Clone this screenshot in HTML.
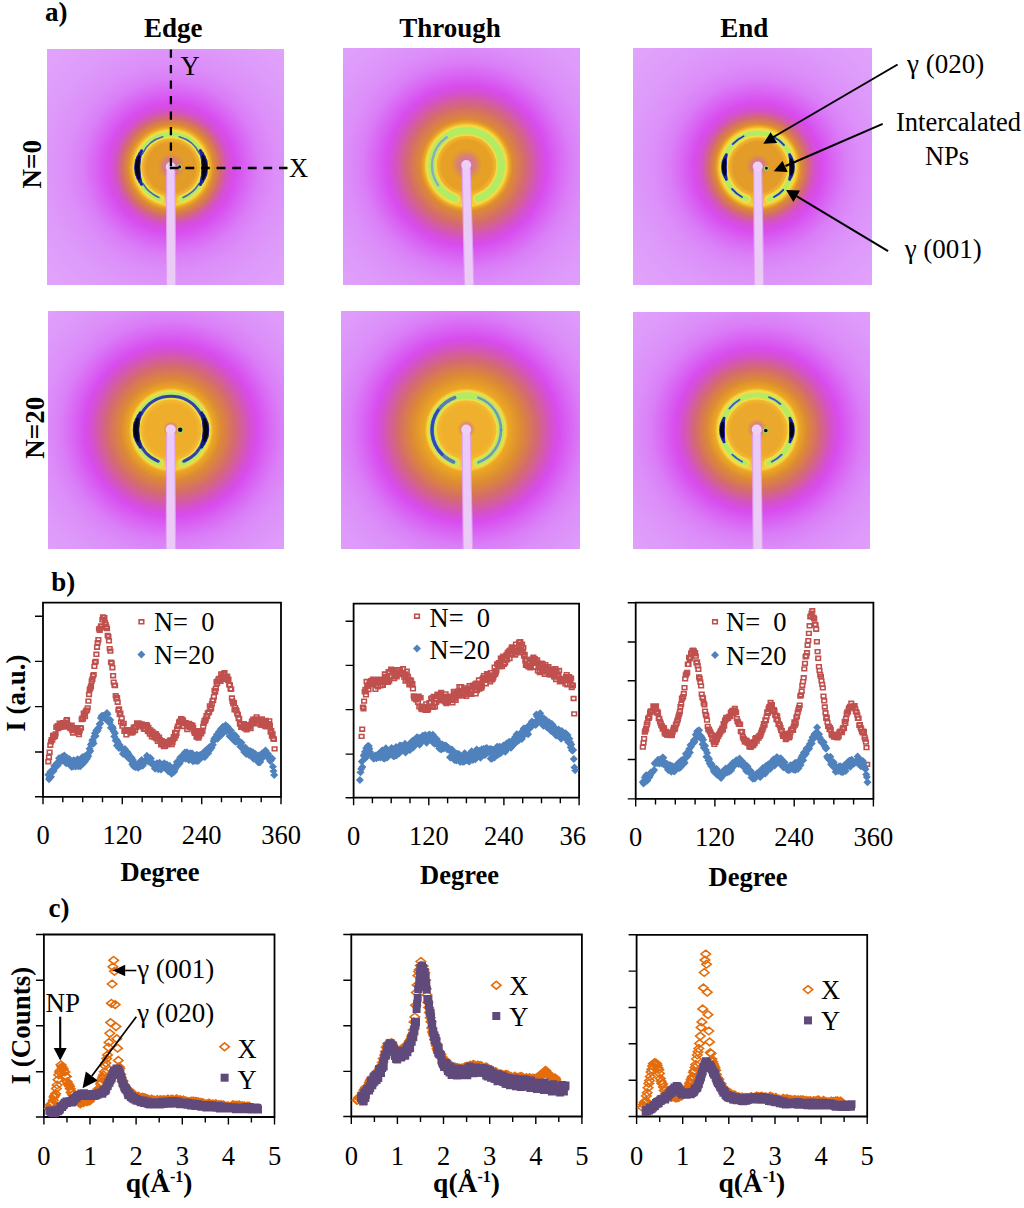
<!DOCTYPE html>
<html><head><meta charset="utf-8"><title>figure</title>
<style>html,body{margin:0;padding:0;background:#fff;} svg{display:block;} text{font-family:'Liberation Serif', serif;fill:#000;}</style>
</head><body>
<svg width="1024" height="1208" viewBox="0 0 1024 1208">
<defs><radialGradient id="rg0" gradientUnits="userSpaceOnUse" cx="171" cy="167.5" r="186"><stop offset="0.0000" stop-color="#e49c28"/><stop offset="0.1320" stop-color="#e49c28"/><stop offset="0.1508" stop-color="#efb22d"/><stop offset="0.2019" stop-color="#f4d040"/><stop offset="0.2142" stop-color="#eba822"/><stop offset="0.2312" stop-color="#dc8a34"/><stop offset="0.2661" stop-color="#d46a70"/><stop offset="0.3011" stop-color="#d452c8"/><stop offset="0.3441" stop-color="#d84cee"/><stop offset="0.4086" stop-color="#d966f4"/><stop offset="0.4731" stop-color="#da7ef7"/><stop offset="0.5591" stop-color="#dc8ef9"/><stop offset="0.7043" stop-color="#de9bfa"/><stop offset="1.0000" stop-color="#e2a8fa"/></radialGradient><clipPath id="cp0"><rect x="47" y="49" width="237" height="236"/></clipPath><radialGradient id="cm0" gradientUnits="userSpaceOnUse" cx="171" cy="166.5" r="14"><stop offset="0" stop-color="#d860e0" stop-opacity="0.95"/><stop offset="0.6" stop-color="#d070a0" stop-opacity="0.6"/><stop offset="1" stop-color="#d08060" stop-opacity="0"/></radialGradient><radialGradient id="rg1" gradientUnits="userSpaceOnUse" cx="466.5" cy="165.5" r="202"><stop offset="0.0000" stop-color="#e6a026"/><stop offset="0.1238" stop-color="#e6a026"/><stop offset="0.1411" stop-color="#f0b32c"/><stop offset="0.2005" stop-color="#f4d040"/><stop offset="0.2119" stop-color="#eba822"/><stop offset="0.2277" stop-color="#dc8a34"/><stop offset="0.2921" stop-color="#d46a70"/><stop offset="0.3564" stop-color="#d452c8"/><stop offset="0.3960" stop-color="#d84cee"/><stop offset="0.4554" stop-color="#d966f4"/><stop offset="0.5149" stop-color="#da7ef7"/><stop offset="0.5941" stop-color="#dc8ef9"/><stop offset="0.7277" stop-color="#de9bfa"/><stop offset="1.0000" stop-color="#e2a8fa"/></radialGradient><clipPath id="cp1"><rect x="343" y="48" width="237" height="237"/></clipPath><radialGradient id="cm1" gradientUnits="userSpaceOnUse" cx="466.5" cy="164.5" r="16"><stop offset="0" stop-color="#d860e0" stop-opacity="0.95"/><stop offset="0.6" stop-color="#d070a0" stop-opacity="0.6"/><stop offset="1" stop-color="#d08060" stop-opacity="0"/></radialGradient><radialGradient id="rg2" gradientUnits="userSpaceOnUse" cx="758" cy="167" r="186"><stop offset="0.0000" stop-color="#e49c28"/><stop offset="0.1344" stop-color="#e49c28"/><stop offset="0.1532" stop-color="#efb22d"/><stop offset="0.2070" stop-color="#f4d040"/><stop offset="0.2194" stop-color="#eba822"/><stop offset="0.2312" stop-color="#dc8a34"/><stop offset="0.2661" stop-color="#d46a70"/><stop offset="0.3011" stop-color="#d452c8"/><stop offset="0.3441" stop-color="#d84cee"/><stop offset="0.4086" stop-color="#d966f4"/><stop offset="0.4731" stop-color="#da7ef7"/><stop offset="0.5591" stop-color="#dc8ef9"/><stop offset="0.7043" stop-color="#de9bfa"/><stop offset="1.0000" stop-color="#e2a8fa"/></radialGradient><clipPath id="cp2"><rect x="633" y="48" width="239" height="237"/></clipPath><radialGradient id="cm2" gradientUnits="userSpaceOnUse" cx="758" cy="166" r="12"><stop offset="0" stop-color="#d860e0" stop-opacity="0.95"/><stop offset="0.6" stop-color="#d070a0" stop-opacity="0.6"/><stop offset="1" stop-color="#d08060" stop-opacity="0"/></radialGradient><radialGradient id="rg3" gradientUnits="userSpaceOnUse" cx="171" cy="430" r="208"><stop offset="0.0000" stop-color="#eeae2c"/><stop offset="0.1238" stop-color="#eeae2c"/><stop offset="0.1406" stop-color="#f3b92e"/><stop offset="0.1911" stop-color="#f4d040"/><stop offset="0.2022" stop-color="#eba822"/><stop offset="0.2404" stop-color="#dc8a34"/><stop offset="0.3077" stop-color="#d46a70"/><stop offset="0.3750" stop-color="#d452c8"/><stop offset="0.4135" stop-color="#d84cee"/><stop offset="0.4712" stop-color="#d966f4"/><stop offset="0.5288" stop-color="#da7ef7"/><stop offset="0.6058" stop-color="#dc8ef9"/><stop offset="0.7356" stop-color="#de9bfa"/><stop offset="1.0000" stop-color="#e2a8fa"/></radialGradient><clipPath id="cp3"><rect x="48" y="311" width="236" height="238"/></clipPath><radialGradient id="cm3" gradientUnits="userSpaceOnUse" cx="171" cy="429" r="8"><stop offset="0" stop-color="#d860e0" stop-opacity="0.95"/><stop offset="0.6" stop-color="#d070a0" stop-opacity="0.6"/><stop offset="1" stop-color="#d08060" stop-opacity="0"/></radialGradient><radialGradient id="rg4" gradientUnits="userSpaceOnUse" cx="466.5" cy="430" r="214"><stop offset="0.0000" stop-color="#efb02e"/><stop offset="0.1168" stop-color="#efb02e"/><stop offset="0.1332" stop-color="#f3ba2f"/><stop offset="0.1846" stop-color="#f4d040"/><stop offset="0.1953" stop-color="#eba822"/><stop offset="0.2570" stop-color="#dc8a34"/><stop offset="0.3248" stop-color="#d46a70"/><stop offset="0.3925" stop-color="#d452c8"/><stop offset="0.4299" stop-color="#d84cee"/><stop offset="0.4860" stop-color="#d966f4"/><stop offset="0.5421" stop-color="#da7ef7"/><stop offset="0.6168" stop-color="#dc8ef9"/><stop offset="0.7430" stop-color="#de9bfa"/><stop offset="1.0000" stop-color="#e2a8fa"/></radialGradient><clipPath id="cp4"><rect x="341" y="311" width="239" height="238"/></clipPath><radialGradient id="cm4" gradientUnits="userSpaceOnUse" cx="466.5" cy="429" r="9"><stop offset="0" stop-color="#d860e0" stop-opacity="0.95"/><stop offset="0.6" stop-color="#d070a0" stop-opacity="0.6"/><stop offset="1" stop-color="#d08060" stop-opacity="0"/></radialGradient><radialGradient id="rg5" gradientUnits="userSpaceOnUse" cx="757" cy="430" r="204"><stop offset="0.0000" stop-color="#eaa82c"/><stop offset="0.1262" stop-color="#eaa82c"/><stop offset="0.1434" stop-color="#f1b62e"/><stop offset="0.1949" stop-color="#f4d040"/><stop offset="0.2061" stop-color="#eba822"/><stop offset="0.2451" stop-color="#dc8a34"/><stop offset="0.3039" stop-color="#d46a70"/><stop offset="0.3627" stop-color="#d452c8"/><stop offset="0.4020" stop-color="#d84cee"/><stop offset="0.4608" stop-color="#d966f4"/><stop offset="0.5196" stop-color="#da7ef7"/><stop offset="0.5980" stop-color="#dc8ef9"/><stop offset="0.7304" stop-color="#de9bfa"/><stop offset="1.0000" stop-color="#e2a8fa"/></radialGradient><clipPath id="cp5"><rect x="633" y="312" width="237" height="237"/></clipPath><radialGradient id="cm5" gradientUnits="userSpaceOnUse" cx="757" cy="429" r="10"><stop offset="0" stop-color="#d860e0" stop-opacity="0.95"/><stop offset="0.6" stop-color="#d070a0" stop-opacity="0.6"/><stop offset="1" stop-color="#d08060" stop-opacity="0"/></radialGradient></defs>
<rect width="1024" height="1208" fill="#fff"/>
<g clip-path="url(#cp0)">
<rect x="47" y="49" width="237" height="236" fill="url(#rg0)"/>
<path d="M160.2,199.0 A33.3,33.3 0 1 1 181.8,199.0" fill="none" stroke="#f2dc48" stroke-width="8.0" stroke-linecap="round"/>
<path d="M160.2,199.0 A33.3,33.3 0 1 1 181.8,199.0" fill="none" stroke="#b2ec62" stroke-width="4.5" stroke-linecap="round"/>
<path d="M141.6,184.2 A33.8,33.8 0 0 1 141.6,150.8" fill="none" stroke="#2020a0" stroke-width="3.0749999999999997" stroke-linecap="round" opacity="1"/>
<path d="M140.0,180.9 A33.8,33.8 0 0 1 140.0,154.1" fill="none" stroke="#2020a0" stroke-width="4.050000000000001" stroke-linecap="round" opacity="1"/>
<path d="M138.7,177.4 A33.8,33.8 0 0 1 138.7,157.6" fill="none" stroke="#2020a0" stroke-width="5.025" stroke-linecap="round" opacity="1"/>
<path d="M137.8,173.8 A33.8,33.8 0 0 1 137.8,161.2" fill="none" stroke="#2020a0" stroke-width="6.0" stroke-linecap="round" opacity="1"/>
<path d="M139.2,178.9 A33.8,33.8 0 0 1 139.2,156.1" fill="none" stroke="#050520" stroke-width="2.1525" stroke-linecap="round" opacity="1"/>
<path d="M138.4,176.6 A33.8,33.8 0 0 1 138.4,158.4" fill="none" stroke="#050520" stroke-width="2.8350000000000004" stroke-linecap="round" opacity="1"/>
<path d="M137.9,174.2 A33.8,33.8 0 0 1 137.9,160.8" fill="none" stroke="#050520" stroke-width="3.5175" stroke-linecap="round" opacity="1"/>
<path d="M137.5,171.7 A33.8,33.8 0 0 1 137.5,163.3" fill="none" stroke="#050520" stroke-width="4.2" stroke-linecap="round" opacity="1"/>
<path d="M200.4,150.8 A33.8,33.8 0 0 1 200.4,184.2" fill="none" stroke="#2020a0" stroke-width="3.33125" stroke-linecap="round" opacity="1"/>
<path d="M202.0,154.1 A33.8,33.8 0 0 1 202.0,180.9" fill="none" stroke="#2020a0" stroke-width="4.3875" stroke-linecap="round" opacity="1"/>
<path d="M203.3,157.6 A33.8,33.8 0 0 1 203.3,177.4" fill="none" stroke="#2020a0" stroke-width="5.4437500000000005" stroke-linecap="round" opacity="1"/>
<path d="M204.2,161.2 A33.8,33.8 0 0 1 204.2,173.8" fill="none" stroke="#2020a0" stroke-width="6.5" stroke-linecap="round" opacity="1"/>
<path d="M202.8,156.1 A33.8,33.8 0 0 1 202.8,178.9" fill="none" stroke="#050520" stroke-width="2.4599999999999995" stroke-linecap="round" opacity="1"/>
<path d="M203.6,158.4 A33.8,33.8 0 0 1 203.6,176.6" fill="none" stroke="#050520" stroke-width="3.24" stroke-linecap="round" opacity="1"/>
<path d="M204.1,160.8 A33.8,33.8 0 0 1 204.1,174.2" fill="none" stroke="#050520" stroke-width="4.02" stroke-linecap="round" opacity="1"/>
<path d="M204.5,163.3 A33.8,33.8 0 0 1 204.5,171.7" fill="none" stroke="#050520" stroke-width="4.8" stroke-linecap="round" opacity="1"/>
<path d="M142.2,154.1 A31.799999999999997,31.799999999999997 0 0 1 162.8,136.8" fill="none" stroke="#3040c0" stroke-width="1.6" stroke-linecap="round" opacity="0.8"/>
<path d="M179.2,136.8 A31.799999999999997,31.799999999999997 0 0 1 199.8,154.1" fill="none" stroke="#3040c0" stroke-width="1.6" stroke-linecap="round" opacity="0.8"/>
<path d="M158.9,197.4 A32.3,32.3 0 0 1 143.0,183.7" fill="none" stroke="#3040c0" stroke-width="1.6" stroke-linecap="round" opacity="0.8"/>
<path d="M199.0,183.7 A32.3,32.3 0 0 1 183.1,197.4" fill="none" stroke="#3040c0" stroke-width="1.6" stroke-linecap="round" opacity="0.8"/>
<circle cx="171" cy="166.5" r="14" fill="url(#cm0)"/>
<path d="M166.1,170.5 L166.0,287 L176.39999999999998,287 L175.29999999999998,170.5 Z" fill="#e0a0f2"/>
<path d="M167.2,170.5 L167.1,287 L175.29999999999998,287 L174.2,170.5 Z" fill="#eccaf8"/>
<circle cx="170.7" cy="167.0" r="5" fill="#eecff8"/>
</g>
<g clip-path="url(#cp1)">
<rect x="343" y="48" width="237" height="237" fill="url(#rg1)"/>
<path d="M455.1,198.6 A35,35 0 1 1 477.9,198.6" fill="none" stroke="#f2dc48" stroke-width="10.5" stroke-linecap="round"/>
<path d="M455.1,198.6 A35,35 0 1 1 477.9,198.6" fill="none" stroke="#b2ec62" stroke-width="7" stroke-linecap="round"/>
<path d="M438.2,185.3 A34.5,34.5 0 0 1 446.7,137.2" fill="none" stroke="#8090e0" stroke-width="2.4" stroke-linecap="round" opacity="0.7"/>
<circle cx="466.5" cy="164.5" r="16" fill="url(#cm1)"/>
<path d="M461.59999999999997,168.5 L464.0,287 L474.4,287 L470.8,168.5 Z" fill="#e0a0f2"/>
<path d="M462.7,168.5 L465.09999999999997,287 L473.3,287 L469.7,168.5 Z" fill="#eccaf8"/>
<circle cx="466.2" cy="165.0" r="5" fill="#eecff8"/>
</g>
<g clip-path="url(#cp2)">
<rect x="633" y="48" width="239" height="237" fill="url(#rg2)"/>
<path d="M746.9,199.1 A34,34 0 1 1 769.1,199.1" fill="none" stroke="#f2dc48" stroke-width="8.5" stroke-linecap="round"/>
<path d="M746.9,199.1 A34,34 0 1 1 769.1,199.1" fill="none" stroke="#b2ec62" stroke-width="4.5" stroke-linecap="round"/>
<path d="M726.4,179.4 A34,34 0 0 1 726.4,154.6" fill="none" stroke="#2020a0" stroke-width="2.8187499999999996" stroke-linecap="round" opacity="1"/>
<path d="M725.5,176.9 A34,34 0 0 1 725.5,157.1" fill="none" stroke="#2020a0" stroke-width="3.7125000000000004" stroke-linecap="round" opacity="1"/>
<path d="M724.8,174.3 A34,34 0 0 1 724.8,159.7" fill="none" stroke="#2020a0" stroke-width="4.60625" stroke-linecap="round" opacity="1"/>
<path d="M724.3,171.6 A34,34 0 0 1 724.3,162.4" fill="none" stroke="#2020a0" stroke-width="5.5" stroke-linecap="round" opacity="1"/>
<path d="M724.9,174.8 A34,34 0 0 1 724.9,159.2" fill="none" stroke="#050520" stroke-width="2.05" stroke-linecap="round" opacity="1"/>
<path d="M724.6,173.1 A34,34 0 0 1 724.6,160.9" fill="none" stroke="#050520" stroke-width="2.7" stroke-linecap="round" opacity="1"/>
<path d="M724.3,171.5 A34,34 0 0 1 724.3,162.5" fill="none" stroke="#050520" stroke-width="3.35" stroke-linecap="round" opacity="1"/>
<path d="M724.1,169.8 A34,34 0 0 1 724.1,164.2" fill="none" stroke="#050520" stroke-width="4.0" stroke-linecap="round" opacity="1"/>
<path d="M789.6,154.6 A34,34 0 0 1 789.6,179.4" fill="none" stroke="#2020a0" stroke-width="2.8187499999999996" stroke-linecap="round" opacity="1"/>
<path d="M790.5,157.1 A34,34 0 0 1 790.5,176.9" fill="none" stroke="#2020a0" stroke-width="3.7125000000000004" stroke-linecap="round" opacity="1"/>
<path d="M791.2,159.7 A34,34 0 0 1 791.2,174.3" fill="none" stroke="#2020a0" stroke-width="4.60625" stroke-linecap="round" opacity="1"/>
<path d="M791.7,162.4 A34,34 0 0 1 791.7,171.6" fill="none" stroke="#2020a0" stroke-width="5.5" stroke-linecap="round" opacity="1"/>
<path d="M791.1,159.2 A34,34 0 0 1 791.1,174.8" fill="none" stroke="#050520" stroke-width="2.05" stroke-linecap="round" opacity="1"/>
<path d="M791.4,160.9 A34,34 0 0 1 791.4,173.1" fill="none" stroke="#050520" stroke-width="2.7" stroke-linecap="round" opacity="1"/>
<path d="M791.7,162.5 A34,34 0 0 1 791.7,171.5" fill="none" stroke="#050520" stroke-width="3.35" stroke-linecap="round" opacity="1"/>
<path d="M791.9,164.2 A34,34 0 0 1 791.9,169.8" fill="none" stroke="#050520" stroke-width="4.0" stroke-linecap="round" opacity="1"/>
<path d="M732.7,144.2 A34,34 0 0 1 743.6,136.2" fill="none" stroke="#2a30c0" stroke-width="1.8" stroke-linecap="round" opacity="1"/>
<path d="M773.4,136.7 A34,34 0 0 1 784.0,145.1" fill="none" stroke="#2a30c0" stroke-width="1.8" stroke-linecap="round" opacity="1"/>
<path d="M742.0,197.0 A34,34 0 0 1 732.0,188.9" fill="none" stroke="#2a30c0" stroke-width="1.8" stroke-linecap="round" opacity="1"/>
<path d="M783.3,189.8 A34,34 0 0 1 774.0,197.0" fill="none" stroke="#2a30c0" stroke-width="1.8" stroke-linecap="round" opacity="1"/>
<circle cx="758" cy="166" r="12" fill="url(#cm2)"/>
<path d="M753.1,170 L753.9,287 L764.3000000000001,287 L762.3000000000001,170 Z" fill="#e0a0f2"/>
<path d="M754.2,170 L755.0,287 L763.2,287 L761.2,170 Z" fill="#eccaf8"/>
<circle cx="757.7" cy="166.5" r="5" fill="#eecff8"/>
</g>
<g clip-path="url(#cp3)">
<rect x="48" y="311" width="236" height="238" fill="url(#rg3)"/>
<path d="M159.6,463.1 A35,35 0 1 1 182.4,463.1" fill="none" stroke="#f2dc48" stroke-width="9.0" stroke-linecap="round"/>
<path d="M159.6,463.1 A35,35 0 1 1 182.4,463.1" fill="none" stroke="#b2ec62" stroke-width="6" stroke-linecap="round"/>
<path d="M158.3,461.3 A33.8,33.8 0 1 1 183.7,461.3" fill="none" stroke="#2a2ab0" stroke-width="3.0" stroke-linecap="round" opacity="0.9"/>
<path d="M140.4,446.9 A35,35 0 0 1 140.4,413.1" fill="none" stroke="#1a1a80" stroke-width="3.33125" stroke-linecap="round" opacity="1"/>
<path d="M138.7,443.5 A35,35 0 0 1 138.7,416.5" fill="none" stroke="#1a1a80" stroke-width="4.3875" stroke-linecap="round" opacity="1"/>
<path d="M137.5,440.0 A35,35 0 0 1 137.5,420.0" fill="none" stroke="#1a1a80" stroke-width="5.4437500000000005" stroke-linecap="round" opacity="1"/>
<path d="M136.6,436.4 A35,35 0 0 1 136.6,423.6" fill="none" stroke="#1a1a80" stroke-width="6.5" stroke-linecap="round" opacity="1"/>
<path d="M137.7,440.9 A35,35 0 0 1 137.7,419.1" fill="none" stroke="#050515" stroke-width="2.30625" stroke-linecap="round" opacity="1"/>
<path d="M137.1,438.6 A35,35 0 0 1 137.1,421.4" fill="none" stroke="#050515" stroke-width="3.0375" stroke-linecap="round" opacity="1"/>
<path d="M136.6,436.3 A35,35 0 0 1 136.6,423.7" fill="none" stroke="#050515" stroke-width="3.7687500000000003" stroke-linecap="round" opacity="1"/>
<path d="M136.2,434.0 A35,35 0 0 1 136.2,426.0" fill="none" stroke="#050515" stroke-width="4.5" stroke-linecap="round" opacity="1"/>
<path d="M201.6,413.1 A35,35 0 0 1 201.6,446.9" fill="none" stroke="#1a1a80" stroke-width="3.33125" stroke-linecap="round" opacity="1"/>
<path d="M203.3,416.5 A35,35 0 0 1 203.3,443.5" fill="none" stroke="#1a1a80" stroke-width="4.3875" stroke-linecap="round" opacity="1"/>
<path d="M204.5,420.0 A35,35 0 0 1 204.5,440.0" fill="none" stroke="#1a1a80" stroke-width="5.4437500000000005" stroke-linecap="round" opacity="1"/>
<path d="M205.4,423.6 A35,35 0 0 1 205.4,436.4" fill="none" stroke="#1a1a80" stroke-width="6.5" stroke-linecap="round" opacity="1"/>
<path d="M204.3,419.1 A35,35 0 0 1 204.3,440.9" fill="none" stroke="#050515" stroke-width="2.30625" stroke-linecap="round" opacity="1"/>
<path d="M204.9,421.4 A35,35 0 0 1 204.9,438.6" fill="none" stroke="#050515" stroke-width="3.0375" stroke-linecap="round" opacity="1"/>
<path d="M205.4,423.7 A35,35 0 0 1 205.4,436.3" fill="none" stroke="#050515" stroke-width="3.7687500000000003" stroke-linecap="round" opacity="1"/>
<path d="M205.8,426.0 A35,35 0 0 1 205.8,434.0" fill="none" stroke="#050515" stroke-width="4.5" stroke-linecap="round" opacity="1"/>
<circle cx="171" cy="429" r="8" fill="url(#cm3)"/>
<path d="M166.1,433 L165.70000000000002,551 L176.1,551 L175.29999999999998,433 Z" fill="#e0a0f2"/>
<path d="M167.2,433 L166.8,551 L175.0,551 L174.2,433 Z" fill="#eccaf8"/>
<circle cx="170.7" cy="429.5" r="5" fill="#eecff8"/>
</g>
<g clip-path="url(#cp4)">
<rect x="341" y="311" width="239" height="238" fill="url(#rg4)"/>
<path d="M455.3,462.6 A34.5,34.5 0 1 1 477.7,462.6" fill="none" stroke="#f2dc48" stroke-width="9.5" stroke-linecap="round"/>
<path d="M455.3,462.6 A34.5,34.5 0 1 1 477.7,462.6" fill="none" stroke="#b2ec62" stroke-width="6.5" stroke-linecap="round"/>
<path d="M453.6,462.0 A34.5,34.5 0 0 1 454.7,397.6" fill="none" stroke="#4050d0" stroke-width="3.6" stroke-linecap="round" opacity="0.75"/>
<path d="M442.1,454.4 A34.5,34.5 0 0 1 438.2,410.2" fill="none" stroke="#2838c0" stroke-width="3.0" stroke-linecap="round" opacity="0.8"/>
<path d="M478.3,397.6 A34.5,34.5 0 0 1 501.0,430.0" fill="none" stroke="#6070e0" stroke-width="2.6" stroke-linecap="round" opacity="0.7"/>
<path d="M501.0,430.0 A34.5,34.5 0 0 1 478.3,462.4" fill="none" stroke="#6070e0" stroke-width="2.6" stroke-linecap="round" opacity="0.7"/>
<circle cx="466.5" cy="429" r="9" fill="url(#cm4)"/>
<path d="M461.59999999999997,433 L462.7,551 L473.09999999999997,551 L470.8,433 Z" fill="#e0a0f2"/>
<path d="M462.7,433 L463.79999999999995,551 L472.0,551 L469.7,433 Z" fill="#eccaf8"/>
<circle cx="466.2" cy="429.5" r="5" fill="#eecff8"/>
</g>
<g clip-path="url(#cp5)">
<rect x="633" y="312" width="237" height="237" fill="url(#rg5)"/>
<path d="M745.6,463.1 A35,35 0 1 1 768.4,463.1" fill="none" stroke="#f2dc48" stroke-width="9.0" stroke-linecap="round"/>
<path d="M745.6,463.1 A35,35 0 1 1 768.4,463.1" fill="none" stroke="#b2ec62" stroke-width="5" stroke-linecap="round"/>
<path d="M724.1,441.9 A35,35 0 0 1 724.1,418.1" fill="none" stroke="#2020a0" stroke-width="2.8187499999999996" stroke-linecap="round" opacity="1"/>
<path d="M723.3,439.4 A35,35 0 0 1 723.3,420.6" fill="none" stroke="#2020a0" stroke-width="3.7125000000000004" stroke-linecap="round" opacity="1"/>
<path d="M722.7,436.9 A35,35 0 0 1 722.7,423.1" fill="none" stroke="#2020a0" stroke-width="4.60625" stroke-linecap="round" opacity="1"/>
<path d="M722.3,434.4 A35,35 0 0 1 722.3,425.6" fill="none" stroke="#2020a0" stroke-width="5.5" stroke-linecap="round" opacity="1"/>
<path d="M722.8,437.5 A35,35 0 0 1 722.8,422.5" fill="none" stroke="#050520" stroke-width="2.05" stroke-linecap="round" opacity="1"/>
<path d="M722.5,435.9 A35,35 0 0 1 722.5,424.1" fill="none" stroke="#050520" stroke-width="2.7" stroke-linecap="round" opacity="1"/>
<path d="M722.3,434.3 A35,35 0 0 1 722.3,425.7" fill="none" stroke="#050520" stroke-width="3.35" stroke-linecap="round" opacity="1"/>
<path d="M722.1,432.7 A35,35 0 0 1 722.1,427.3" fill="none" stroke="#050520" stroke-width="4.0" stroke-linecap="round" opacity="1"/>
<path d="M789.9,418.1 A35,35 0 0 1 789.9,441.9" fill="none" stroke="#2020a0" stroke-width="2.8187499999999996" stroke-linecap="round" opacity="1"/>
<path d="M790.7,420.6 A35,35 0 0 1 790.7,439.4" fill="none" stroke="#2020a0" stroke-width="3.7125000000000004" stroke-linecap="round" opacity="1"/>
<path d="M791.3,423.1 A35,35 0 0 1 791.3,436.9" fill="none" stroke="#2020a0" stroke-width="4.60625" stroke-linecap="round" opacity="1"/>
<path d="M791.7,425.6 A35,35 0 0 1 791.7,434.4" fill="none" stroke="#2020a0" stroke-width="5.5" stroke-linecap="round" opacity="1"/>
<path d="M791.2,422.5 A35,35 0 0 1 791.2,437.5" fill="none" stroke="#050520" stroke-width="2.05" stroke-linecap="round" opacity="1"/>
<path d="M791.5,424.1 A35,35 0 0 1 791.5,435.9" fill="none" stroke="#050520" stroke-width="2.7" stroke-linecap="round" opacity="1"/>
<path d="M791.7,425.7 A35,35 0 0 1 791.7,434.3" fill="none" stroke="#050520" stroke-width="3.35" stroke-linecap="round" opacity="1"/>
<path d="M791.9,427.3 A35,35 0 0 1 791.9,432.7" fill="none" stroke="#050520" stroke-width="4.0" stroke-linecap="round" opacity="1"/>
<path d="M729.4,408.5 A35,35 0 0 1 739.5,399.7" fill="none" stroke="#4050d0" stroke-width="1.8" stroke-linecap="round" opacity="1"/>
<path d="M769.0,397.1 A35,35 0 0 1 780.4,404.0" fill="none" stroke="#4050d0" stroke-width="1.8" stroke-linecap="round" opacity="1"/>
<path d="M742.2,461.7 A35,35 0 0 1 732.3,454.7" fill="none" stroke="#4050d0" stroke-width="1.8" stroke-linecap="round" opacity="1"/>
<path d="M781.7,454.7 A35,35 0 0 1 771.8,461.7" fill="none" stroke="#4050d0" stroke-width="1.8" stroke-linecap="round" opacity="1"/>
<circle cx="757" cy="429" r="10" fill="url(#cm5)"/>
<path d="M752.1,433 L752.5,551 L762.9000000000001,551 L761.3000000000001,433 Z" fill="#e0a0f2"/>
<path d="M753.2,433 L753.6,551 L761.8000000000001,551 L760.2,433 Z" fill="#eccaf8"/>
<circle cx="756.7" cy="429.5" r="5" fill="#eecff8"/>
</g>
<circle cx="179.6" cy="166.9" r="2.2" fill="#0c0c40" stroke="#a8d850" stroke-width="1.1"/>
<circle cx="180.2" cy="429.8" r="2.8" fill="#0c0c40" stroke="#a8d850" stroke-width="1.1"/>
<circle cx="766.4" cy="168.2" r="2.0" fill="#0c0c40" stroke="#a8d850" stroke-width="1.1"/>
<circle cx="765.8" cy="430.5" r="2.4" fill="#0c0c40" stroke="#a8d850" stroke-width="1.1"/>
<path d="M170.9,49.6 V167" fill="none" stroke="#000" stroke-width="2.3" stroke-dasharray="8.2,7.3"/>
<path d="M169.8,168 H287.5" fill="none" stroke="#000" stroke-width="2.3" stroke-dasharray="8.8,6.8"/>
<text x="45.0" y="21.0" font-size="27" font-weight="bold" text-anchor="start" >a)</text>
<text x="173.3" y="37.0" font-size="27" font-weight="bold" text-anchor="middle" >Edge</text>
<text x="450.1" y="37.0" font-size="27" font-weight="bold" text-anchor="middle" >Through</text>
<text x="744.2" y="37.0" font-size="27" font-weight="bold" text-anchor="middle" >End</text>
<text x="0.0" y="0.0" font-size="27" font-weight="bold" text-anchor="middle" transform="translate(41.3,164.3) rotate(-90)">N=0</text>
<text x="0.0" y="0.0" font-size="27" font-weight="bold" text-anchor="middle" transform="translate(44,427.8) rotate(-90)">N=20</text>
<text x="180.5" y="74.5" font-size="26.5" font-weight="normal" text-anchor="start" >Y</text>
<text x="289.0" y="176.6" font-size="26.5" font-weight="normal" text-anchor="start" >X</text>
<text x="907.0" y="72.5" font-size="27" font-weight="normal" text-anchor="start" >&#947; (020)</text>
<text x="896.0" y="130.5" font-size="26.5" font-weight="normal" text-anchor="start" >Intercalated</text>
<text x="947.0" y="165.0" font-size="26.5" font-weight="normal" text-anchor="middle" >NPs</text>
<text x="904.7" y="258.0" font-size="27" font-weight="normal" text-anchor="start" >&#947; (001)</text>
<line x1="897.6" y1="64.5" x2="773.5" y2="137" stroke="#000" stroke-width="2.0"/>
<path d="M770.6,132.3 L763.3,143.7 L777.2,143.0 Z" fill="#000"/>
<line x1="882.7" y1="123.8" x2="785.5" y2="166" stroke="#000" stroke-width="2.0"/>
<path d="M782.5,161.1 L773.7,171.2 L787.7,171.9 Z" fill="#000"/>
<line x1="888.1" y1="251.2" x2="796.5" y2="196.2" stroke="#000" stroke-width="2.0"/>
<path d="M786.1,190.0 L800.0,190.5 L793.4,201.9 Z" fill="#000"/>
<path d="M43,602.7H281V796.8H43Z" fill="none" stroke="#000" stroke-width="1.8"/>
<path d="M35.0,616.3H43M35.0,661.4H43M35.0,706.6H43M35.0,752.0H43M35.0,796.8H43M43.0,796.8V804.3M62.8,796.8V802.3M82.7,796.8V802.3M102.5,796.8V802.3M122.3,796.8V804.3M142.2,796.8V802.3M162.0,796.8V802.3M181.8,796.8V802.3M201.7,796.8V804.3M221.5,796.8V802.3M241.3,796.8V802.3M261.2,796.8V802.3M281.0,796.8V804.3" fill="none" stroke="#000" stroke-width="1.4"/>
<path d="M46.0 759.8h4.6v3.8h-4.6zM46.7 755.3h4.6v3.8h-4.6zM47.3 750.3h4.6v3.8h-4.6zM48.0 743.3h4.6v3.8h-4.6zM48.7 739.9h4.6v3.8h-4.6zM49.3 737.8h4.6v3.8h-4.6zM50.0 738.1h4.6v3.8h-4.6zM50.7 733.6h4.6v3.8h-4.6zM51.3 735.3h4.6v3.8h-4.6zM52.0 733.3h4.6v3.8h-4.6zM52.7 734.5h4.6v3.8h-4.6zM53.3 732.0h4.6v3.8h-4.6zM54.0 725.3h4.6v3.8h-4.6zM54.7 725.4h4.6v3.8h-4.6zM55.3 723.9h4.6v3.8h-4.6zM56.0 726.7h4.6v3.8h-4.6zM56.7 725.5h4.6v3.8h-4.6zM57.3 721.4h4.6v3.8h-4.6zM58.0 725.4h4.6v3.8h-4.6zM58.7 722.2h4.6v3.8h-4.6zM59.4 722.7h4.6v3.8h-4.6zM60.0 724.9h4.6v3.8h-4.6zM60.7 720.7h4.6v3.8h-4.6zM61.4 722.5h4.6v3.8h-4.6zM62.0 723.7h4.6v3.8h-4.6zM62.7 725.2h4.6v3.8h-4.6zM63.4 720.9h4.6v3.8h-4.6zM64.0 718.8h4.6v3.8h-4.6zM64.7 717.7h4.6v3.8h-4.6zM65.4 722.7h4.6v3.8h-4.6zM66.0 723.7h4.6v3.8h-4.6zM66.7 723.5h4.6v3.8h-4.6zM67.4 723.8h4.6v3.8h-4.6zM68.0 726.7h4.6v3.8h-4.6zM68.7 725.2h4.6v3.8h-4.6zM69.4 723.4h4.6v3.8h-4.6zM70.0 728.7h4.6v3.8h-4.6zM70.7 731.1h4.6v3.8h-4.6zM71.4 728.2h4.6v3.8h-4.6zM72.0 725.8h4.6v3.8h-4.6zM72.7 727.0h4.6v3.8h-4.6zM73.4 726.4h4.6v3.8h-4.6zM74.0 727.1h4.6v3.8h-4.6zM74.7 729.1h4.6v3.8h-4.6zM75.4 727.1h4.6v3.8h-4.6zM76.0 730.6h4.6v3.8h-4.6zM76.7 732.7h4.6v3.8h-4.6zM77.4 729.0h4.6v3.8h-4.6zM78.0 725.8h4.6v3.8h-4.6zM78.7 726.2h4.6v3.8h-4.6zM79.4 717.6h4.6v3.8h-4.6zM80.0 716.3h4.6v3.8h-4.6zM80.7 717.2h4.6v3.8h-4.6zM81.4 711.3h4.6v3.8h-4.6zM82.0 712.2h4.6v3.8h-4.6zM82.7 714.6h4.6v3.8h-4.6zM83.4 709.5h4.6v3.8h-4.6zM84.1 708.6h4.6v3.8h-4.6zM84.7 708.2h4.6v3.8h-4.6zM85.4 706.0h4.6v3.8h-4.6zM86.1 699.2h4.6v3.8h-4.6zM86.7 692.6h4.6v3.8h-4.6zM87.4 687.7h4.6v3.8h-4.6zM88.1 686.1h4.6v3.8h-4.6zM88.7 684.4h4.6v3.8h-4.6zM89.4 679.2h4.6v3.8h-4.6zM90.1 677.3h4.6v3.8h-4.6zM90.7 674.0h4.6v3.8h-4.6zM91.4 672.7h4.6v3.8h-4.6zM92.1 664.5h4.6v3.8h-4.6zM92.7 660.5h4.6v3.8h-4.6zM93.4 659.6h4.6v3.8h-4.6zM94.1 652.4h4.6v3.8h-4.6zM94.7 645.3h4.6v3.8h-4.6zM95.4 640.8h4.6v3.8h-4.6zM96.1 637.8h4.6v3.8h-4.6zM96.7 627.0h4.6v3.8h-4.6zM97.4 628.4h4.6v3.8h-4.6zM98.1 626.3h4.6v3.8h-4.6zM98.7 624.0h4.6v3.8h-4.6zM99.4 624.3h4.6v3.8h-4.6zM100.1 617.9h4.6v3.8h-4.6zM100.7 615.1h4.6v3.8h-4.6zM101.4 615.8h4.6v3.8h-4.6zM102.1 615.8h4.6v3.8h-4.6zM102.7 620.9h4.6v3.8h-4.6zM103.4 622.7h4.6v3.8h-4.6zM104.1 625.1h4.6v3.8h-4.6zM104.7 626.7h4.6v3.8h-4.6zM105.4 633.5h4.6v3.8h-4.6zM106.1 634.7h4.6v3.8h-4.6zM106.7 639.0h4.6v3.8h-4.6zM107.4 646.7h4.6v3.8h-4.6zM108.1 649.2h4.6v3.8h-4.6zM108.7 660.2h4.6v3.8h-4.6zM109.4 661.2h4.6v3.8h-4.6zM110.1 665.8h4.6v3.8h-4.6zM110.8 673.8h4.6v3.8h-4.6zM111.4 680.2h4.6v3.8h-4.6zM112.1 683.2h4.6v3.8h-4.6zM112.8 683.6h4.6v3.8h-4.6zM113.4 693.9h4.6v3.8h-4.6zM114.1 696.8h4.6v3.8h-4.6zM114.8 695.9h4.6v3.8h-4.6zM115.4 700.3h4.6v3.8h-4.6zM116.1 708.1h4.6v3.8h-4.6zM116.8 707.1h4.6v3.8h-4.6zM117.4 712.6h4.6v3.8h-4.6zM118.1 711.3h4.6v3.8h-4.6zM118.8 720.0h4.6v3.8h-4.6zM119.4 716.4h4.6v3.8h-4.6zM120.1 724.2h4.6v3.8h-4.6zM120.8 721.5h4.6v3.8h-4.6zM121.4 721.6h4.6v3.8h-4.6zM122.1 729.5h4.6v3.8h-4.6zM122.8 728.0h4.6v3.8h-4.6zM123.4 729.2h4.6v3.8h-4.6zM124.1 732.9h4.6v3.8h-4.6zM124.8 728.8h4.6v3.8h-4.6zM125.4 728.7h4.6v3.8h-4.6zM126.1 728.9h4.6v3.8h-4.6zM126.8 727.9h4.6v3.8h-4.6zM127.4 729.5h4.6v3.8h-4.6zM128.1 731.2h4.6v3.8h-4.6zM128.8 730.0h4.6v3.8h-4.6zM129.4 730.6h4.6v3.8h-4.6zM130.1 730.8h4.6v3.8h-4.6zM130.8 729.6h4.6v3.8h-4.6zM131.4 725.4h4.6v3.8h-4.6zM132.1 725.6h4.6v3.8h-4.6zM132.8 728.6h4.6v3.8h-4.6zM133.4 724.7h4.6v3.8h-4.6zM134.1 725.4h4.6v3.8h-4.6zM134.8 721.1h4.6v3.8h-4.6zM135.5 721.1h4.6v3.8h-4.6zM136.1 723.9h4.6v3.8h-4.6zM136.8 721.4h4.6v3.8h-4.6zM137.5 723.9h4.6v3.8h-4.6zM138.1 722.2h4.6v3.8h-4.6zM138.8 722.0h4.6v3.8h-4.6zM139.5 722.1h4.6v3.8h-4.6zM140.1 722.8h4.6v3.8h-4.6zM140.8 724.9h4.6v3.8h-4.6zM141.5 727.1h4.6v3.8h-4.6zM142.1 724.9h4.6v3.8h-4.6zM142.8 727.4h4.6v3.8h-4.6zM143.5 722.7h4.6v3.8h-4.6zM144.1 723.0h4.6v3.8h-4.6zM144.8 723.6h4.6v3.8h-4.6zM145.5 729.4h4.6v3.8h-4.6zM146.1 725.5h4.6v3.8h-4.6zM146.8 729.9h4.6v3.8h-4.6zM147.5 732.1h4.6v3.8h-4.6zM148.1 728.0h4.6v3.8h-4.6zM148.8 730.0h4.6v3.8h-4.6zM149.5 734.9h4.6v3.8h-4.6zM150.1 729.6h4.6v3.8h-4.6zM150.8 732.8h4.6v3.8h-4.6zM151.5 731.2h4.6v3.8h-4.6zM152.1 735.6h4.6v3.8h-4.6zM152.8 735.1h4.6v3.8h-4.6zM153.5 731.9h4.6v3.8h-4.6zM154.1 736.9h4.6v3.8h-4.6zM154.8 733.6h4.6v3.8h-4.6zM155.5 739.5h4.6v3.8h-4.6zM156.1 735.2h4.6v3.8h-4.6zM156.8 735.4h4.6v3.8h-4.6zM157.5 737.7h4.6v3.8h-4.6zM158.1 739.5h4.6v3.8h-4.6zM158.8 743.0h4.6v3.8h-4.6zM159.5 738.9h4.6v3.8h-4.6zM160.2 742.6h4.6v3.8h-4.6zM160.8 739.8h4.6v3.8h-4.6zM161.5 744.7h4.6v3.8h-4.6zM162.2 740.6h4.6v3.8h-4.6zM162.8 744.4h4.6v3.8h-4.6zM163.5 740.2h4.6v3.8h-4.6zM164.2 739.8h4.6v3.8h-4.6zM164.8 742.3h4.6v3.8h-4.6zM165.5 742.8h4.6v3.8h-4.6zM166.2 740.4h4.6v3.8h-4.6zM166.8 742.0h4.6v3.8h-4.6zM167.5 738.8h4.6v3.8h-4.6zM168.2 738.1h4.6v3.8h-4.6zM168.8 739.7h4.6v3.8h-4.6zM169.5 742.6h4.6v3.8h-4.6zM170.2 740.5h4.6v3.8h-4.6zM170.8 737.6h4.6v3.8h-4.6zM171.5 734.9h4.6v3.8h-4.6zM172.2 736.5h4.6v3.8h-4.6zM172.8 730.6h4.6v3.8h-4.6zM173.5 734.0h4.6v3.8h-4.6zM174.2 731.3h4.6v3.8h-4.6zM174.8 727.0h4.6v3.8h-4.6zM175.5 724.3h4.6v3.8h-4.6zM176.2 724.5h4.6v3.8h-4.6zM176.8 720.1h4.6v3.8h-4.6zM177.5 720.8h4.6v3.8h-4.6zM178.2 718.7h4.6v3.8h-4.6zM178.8 716.7h4.6v3.8h-4.6zM179.5 717.3h4.6v3.8h-4.6zM180.2 719.2h4.6v3.8h-4.6zM180.8 718.4h4.6v3.8h-4.6zM181.5 724.6h4.6v3.8h-4.6zM182.2 720.8h4.6v3.8h-4.6zM182.8 721.4h4.6v3.8h-4.6zM183.5 720.9h4.6v3.8h-4.6zM184.2 722.2h4.6v3.8h-4.6zM184.9 727.6h4.6v3.8h-4.6zM185.5 722.7h4.6v3.8h-4.6zM186.2 723.5h4.6v3.8h-4.6zM186.9 721.6h4.6v3.8h-4.6zM187.5 725.4h4.6v3.8h-4.6zM188.2 723.7h4.6v3.8h-4.6zM188.9 722.7h4.6v3.8h-4.6zM189.5 723.6h4.6v3.8h-4.6zM190.2 723.6h4.6v3.8h-4.6zM190.9 725.9h4.6v3.8h-4.6zM191.5 728.8h4.6v3.8h-4.6zM192.2 730.9h4.6v3.8h-4.6zM192.9 731.5h4.6v3.8h-4.6zM193.5 730.1h4.6v3.8h-4.6zM194.2 735.2h4.6v3.8h-4.6zM194.9 734.3h4.6v3.8h-4.6zM195.5 730.3h4.6v3.8h-4.6zM196.2 736.2h4.6v3.8h-4.6zM196.9 734.1h4.6v3.8h-4.6zM197.5 728.9h4.6v3.8h-4.6zM198.2 730.6h4.6v3.8h-4.6zM198.9 731.9h4.6v3.8h-4.6zM199.5 729.4h4.6v3.8h-4.6zM200.2 729.2h4.6v3.8h-4.6zM200.9 724.6h4.6v3.8h-4.6zM201.5 721.3h4.6v3.8h-4.6zM202.2 718.5h4.6v3.8h-4.6zM202.9 719.2h4.6v3.8h-4.6zM203.5 717.1h4.6v3.8h-4.6zM204.2 713.7h4.6v3.8h-4.6zM204.9 714.6h4.6v3.8h-4.6zM205.5 711.1h4.6v3.8h-4.6zM206.2 710.9h4.6v3.8h-4.6zM206.9 710.1h4.6v3.8h-4.6zM207.5 704.0h4.6v3.8h-4.6zM208.2 707.3h4.6v3.8h-4.6zM208.9 706.1h4.6v3.8h-4.6zM209.6 701.8h4.6v3.8h-4.6zM210.2 699.0h4.6v3.8h-4.6zM210.9 698.4h4.6v3.8h-4.6zM211.6 694.8h4.6v3.8h-4.6zM212.2 688.6h4.6v3.8h-4.6zM212.9 690.2h4.6v3.8h-4.6zM213.6 686.3h4.6v3.8h-4.6zM214.2 679.9h4.6v3.8h-4.6zM214.9 681.7h4.6v3.8h-4.6zM215.6 679.0h4.6v3.8h-4.6zM216.2 677.3h4.6v3.8h-4.6zM216.9 676.5h4.6v3.8h-4.6zM217.6 679.1h4.6v3.8h-4.6zM218.2 679.3h4.6v3.8h-4.6zM218.9 672.0h4.6v3.8h-4.6zM219.6 677.3h4.6v3.8h-4.6zM220.2 674.2h4.6v3.8h-4.6zM220.9 672.1h4.6v3.8h-4.6zM221.6 671.7h4.6v3.8h-4.6zM222.2 670.9h4.6v3.8h-4.6zM222.9 676.4h4.6v3.8h-4.6zM223.6 675.1h4.6v3.8h-4.6zM224.2 676.6h4.6v3.8h-4.6zM224.9 674.2h4.6v3.8h-4.6zM225.6 678.4h4.6v3.8h-4.6zM226.2 677.2h4.6v3.8h-4.6zM226.9 682.8h4.6v3.8h-4.6zM227.6 683.1h4.6v3.8h-4.6zM228.2 687.0h4.6v3.8h-4.6zM228.9 687.4h4.6v3.8h-4.6zM229.6 696.1h4.6v3.8h-4.6zM230.2 699.4h4.6v3.8h-4.6zM230.9 701.9h4.6v3.8h-4.6zM231.6 700.7h4.6v3.8h-4.6zM232.2 707.8h4.6v3.8h-4.6zM232.9 705.8h4.6v3.8h-4.6zM233.6 707.8h4.6v3.8h-4.6zM234.2 708.7h4.6v3.8h-4.6zM234.9 711.6h4.6v3.8h-4.6zM235.6 712.9h4.6v3.8h-4.6zM236.3 716.3h4.6v3.8h-4.6zM236.9 716.9h4.6v3.8h-4.6zM237.6 722.2h4.6v3.8h-4.6zM238.3 722.0h4.6v3.8h-4.6zM238.9 725.5h4.6v3.8h-4.6zM239.6 724.2h4.6v3.8h-4.6zM240.3 724.6h4.6v3.8h-4.6zM240.9 725.0h4.6v3.8h-4.6zM241.6 721.9h4.6v3.8h-4.6zM242.3 726.7h4.6v3.8h-4.6zM242.9 723.7h4.6v3.8h-4.6zM243.6 722.8h4.6v3.8h-4.6zM244.3 727.9h4.6v3.8h-4.6zM244.9 725.9h4.6v3.8h-4.6zM245.6 725.4h4.6v3.8h-4.6zM246.3 722.9h4.6v3.8h-4.6zM246.9 723.4h4.6v3.8h-4.6zM247.6 724.7h4.6v3.8h-4.6zM248.3 726.6h4.6v3.8h-4.6zM248.9 722.2h4.6v3.8h-4.6zM249.6 719.2h4.6v3.8h-4.6zM250.3 719.2h4.6v3.8h-4.6zM250.9 717.4h4.6v3.8h-4.6zM251.6 718.6h4.6v3.8h-4.6zM252.3 719.2h4.6v3.8h-4.6zM252.9 717.0h4.6v3.8h-4.6zM253.6 717.0h4.6v3.8h-4.6zM254.3 715.0h4.6v3.8h-4.6zM254.9 721.8h4.6v3.8h-4.6zM255.6 718.7h4.6v3.8h-4.6zM256.3 721.6h4.6v3.8h-4.6zM256.9 717.6h4.6v3.8h-4.6zM257.6 718.8h4.6v3.8h-4.6zM258.3 723.1h4.6v3.8h-4.6zM258.9 722.7h4.6v3.8h-4.6zM259.6 717.0h4.6v3.8h-4.6zM260.3 723.4h4.6v3.8h-4.6zM261.0 721.4h4.6v3.8h-4.6zM261.6 720.2h4.6v3.8h-4.6zM262.3 723.4h4.6v3.8h-4.6zM263.0 724.7h4.6v3.8h-4.6zM263.6 718.6h4.6v3.8h-4.6zM264.3 721.8h4.6v3.8h-4.6zM265.0 725.0h4.6v3.8h-4.6zM265.6 723.0h4.6v3.8h-4.6zM266.3 721.8h4.6v3.8h-4.6zM267.0 719.0h4.6v3.8h-4.6zM267.6 723.6h4.6v3.8h-4.6zM268.3 730.1h4.6v3.8h-4.6zM269.0 728.8h4.6v3.8h-4.6zM269.6 734.1h4.6v3.8h-4.6zM270.3 732.0h4.6v3.8h-4.6zM271.0 736.7h4.6v3.8h-4.6zM271.6 737.3h4.6v3.8h-4.6zM272.3 747.0h4.6v3.8h-4.6z" fill="none" stroke="#c0504d" stroke-width="1.6"/>
<path d="M48.3 770.7l4.0 4.0l-4.0 4.0l-4.0 -4.0zM49.0 775.2l4.0 4.0l-4.0 4.0l-4.0 -4.0zM49.6 773.8l4.0 4.0l-4.0 4.0l-4.0 -4.0zM50.3 767.8l4.0 4.0l-4.0 4.0l-4.0 -4.0zM51.0 772.8l4.0 4.0l-4.0 4.0l-4.0 -4.0zM51.6 766.8l4.0 4.0l-4.0 4.0l-4.0 -4.0zM52.3 767.6l4.0 4.0l-4.0 4.0l-4.0 -4.0zM53.0 766.1l4.0 4.0l-4.0 4.0l-4.0 -4.0zM53.6 767.0l4.0 4.0l-4.0 4.0l-4.0 -4.0zM54.3 762.1l4.0 4.0l-4.0 4.0l-4.0 -4.0zM55.0 761.7l4.0 4.0l-4.0 4.0l-4.0 -4.0zM55.6 763.1l4.0 4.0l-4.0 4.0l-4.0 -4.0zM56.3 762.7l4.0 4.0l-4.0 4.0l-4.0 -4.0zM57.0 759.1l4.0 4.0l-4.0 4.0l-4.0 -4.0zM57.6 761.5l4.0 4.0l-4.0 4.0l-4.0 -4.0zM58.3 759.1l4.0 4.0l-4.0 4.0l-4.0 -4.0zM59.0 754.2l4.0 4.0l-4.0 4.0l-4.0 -4.0zM59.6 754.6l4.0 4.0l-4.0 4.0l-4.0 -4.0zM60.3 756.1l4.0 4.0l-4.0 4.0l-4.0 -4.0zM61.0 753.7l4.0 4.0l-4.0 4.0l-4.0 -4.0zM61.6 757.1l4.0 4.0l-4.0 4.0l-4.0 -4.0zM62.3 752.8l4.0 4.0l-4.0 4.0l-4.0 -4.0zM63.0 753.1l4.0 4.0l-4.0 4.0l-4.0 -4.0zM63.6 752.4l4.0 4.0l-4.0 4.0l-4.0 -4.0zM64.3 751.6l4.0 4.0l-4.0 4.0l-4.0 -4.0zM65.0 758.3l4.0 4.0l-4.0 4.0l-4.0 -4.0zM65.6 757.3l4.0 4.0l-4.0 4.0l-4.0 -4.0zM66.3 759.3l4.0 4.0l-4.0 4.0l-4.0 -4.0zM67.0 753.8l4.0 4.0l-4.0 4.0l-4.0 -4.0zM67.6 758.6l4.0 4.0l-4.0 4.0l-4.0 -4.0zM68.3 758.4l4.0 4.0l-4.0 4.0l-4.0 -4.0zM69.0 756.4l4.0 4.0l-4.0 4.0l-4.0 -4.0zM69.6 755.2l4.0 4.0l-4.0 4.0l-4.0 -4.0zM70.3 756.5l4.0 4.0l-4.0 4.0l-4.0 -4.0zM71.0 762.3l4.0 4.0l-4.0 4.0l-4.0 -4.0zM71.6 762.7l4.0 4.0l-4.0 4.0l-4.0 -4.0zM72.3 758.3l4.0 4.0l-4.0 4.0l-4.0 -4.0zM73.0 762.4l4.0 4.0l-4.0 4.0l-4.0 -4.0zM73.6 756.2l4.0 4.0l-4.0 4.0l-4.0 -4.0zM74.3 758.7l4.0 4.0l-4.0 4.0l-4.0 -4.0zM75.0 757.1l4.0 4.0l-4.0 4.0l-4.0 -4.0zM75.6 762.6l4.0 4.0l-4.0 4.0l-4.0 -4.0zM76.3 758.6l4.0 4.0l-4.0 4.0l-4.0 -4.0zM77.0 761.3l4.0 4.0l-4.0 4.0l-4.0 -4.0zM77.6 755.3l4.0 4.0l-4.0 4.0l-4.0 -4.0zM78.3 762.3l4.0 4.0l-4.0 4.0l-4.0 -4.0zM79.0 760.7l4.0 4.0l-4.0 4.0l-4.0 -4.0zM79.6 757.4l4.0 4.0l-4.0 4.0l-4.0 -4.0zM80.3 762.2l4.0 4.0l-4.0 4.0l-4.0 -4.0zM81.0 756.5l4.0 4.0l-4.0 4.0l-4.0 -4.0zM81.6 756.6l4.0 4.0l-4.0 4.0l-4.0 -4.0zM82.3 753.2l4.0 4.0l-4.0 4.0l-4.0 -4.0zM83.0 759.7l4.0 4.0l-4.0 4.0l-4.0 -4.0zM83.6 759.1l4.0 4.0l-4.0 4.0l-4.0 -4.0zM84.3 752.5l4.0 4.0l-4.0 4.0l-4.0 -4.0zM85.0 757.5l4.0 4.0l-4.0 4.0l-4.0 -4.0zM85.6 752.1l4.0 4.0l-4.0 4.0l-4.0 -4.0zM86.3 751.6l4.0 4.0l-4.0 4.0l-4.0 -4.0zM86.9 754.7l4.0 4.0l-4.0 4.0l-4.0 -4.0zM87.6 752.9l4.0 4.0l-4.0 4.0l-4.0 -4.0zM88.3 751.9l4.0 4.0l-4.0 4.0l-4.0 -4.0zM88.9 748.7l4.0 4.0l-4.0 4.0l-4.0 -4.0zM89.6 744.8l4.0 4.0l-4.0 4.0l-4.0 -4.0zM90.3 747.0l4.0 4.0l-4.0 4.0l-4.0 -4.0zM90.9 740.7l4.0 4.0l-4.0 4.0l-4.0 -4.0zM91.6 739.6l4.0 4.0l-4.0 4.0l-4.0 -4.0zM92.3 736.3l4.0 4.0l-4.0 4.0l-4.0 -4.0zM92.9 737.1l4.0 4.0l-4.0 4.0l-4.0 -4.0zM93.6 739.6l4.0 4.0l-4.0 4.0l-4.0 -4.0zM94.3 732.6l4.0 4.0l-4.0 4.0l-4.0 -4.0zM94.9 729.3l4.0 4.0l-4.0 4.0l-4.0 -4.0zM95.6 732.1l4.0 4.0l-4.0 4.0l-4.0 -4.0zM96.3 726.3l4.0 4.0l-4.0 4.0l-4.0 -4.0zM96.9 727.4l4.0 4.0l-4.0 4.0l-4.0 -4.0zM97.6 726.4l4.0 4.0l-4.0 4.0l-4.0 -4.0zM98.3 723.9l4.0 4.0l-4.0 4.0l-4.0 -4.0zM98.9 723.7l4.0 4.0l-4.0 4.0l-4.0 -4.0zM99.6 719.9l4.0 4.0l-4.0 4.0l-4.0 -4.0zM100.3 719.6l4.0 4.0l-4.0 4.0l-4.0 -4.0zM100.9 714.1l4.0 4.0l-4.0 4.0l-4.0 -4.0zM101.6 712.0l4.0 4.0l-4.0 4.0l-4.0 -4.0zM102.3 714.3l4.0 4.0l-4.0 4.0l-4.0 -4.0zM102.9 711.9l4.0 4.0l-4.0 4.0l-4.0 -4.0zM103.6 711.8l4.0 4.0l-4.0 4.0l-4.0 -4.0zM104.3 713.2l4.0 4.0l-4.0 4.0l-4.0 -4.0zM104.9 714.5l4.0 4.0l-4.0 4.0l-4.0 -4.0zM105.6 711.0l4.0 4.0l-4.0 4.0l-4.0 -4.0zM106.3 714.6l4.0 4.0l-4.0 4.0l-4.0 -4.0zM106.9 708.9l4.0 4.0l-4.0 4.0l-4.0 -4.0zM107.6 710.2l4.0 4.0l-4.0 4.0l-4.0 -4.0zM108.3 717.7l4.0 4.0l-4.0 4.0l-4.0 -4.0zM108.9 718.1l4.0 4.0l-4.0 4.0l-4.0 -4.0zM109.6 718.5l4.0 4.0l-4.0 4.0l-4.0 -4.0zM110.3 716.0l4.0 4.0l-4.0 4.0l-4.0 -4.0zM110.9 723.8l4.0 4.0l-4.0 4.0l-4.0 -4.0zM111.6 723.4l4.0 4.0l-4.0 4.0l-4.0 -4.0zM112.3 722.7l4.0 4.0l-4.0 4.0l-4.0 -4.0zM112.9 724.3l4.0 4.0l-4.0 4.0l-4.0 -4.0zM113.6 727.2l4.0 4.0l-4.0 4.0l-4.0 -4.0zM114.3 732.4l4.0 4.0l-4.0 4.0l-4.0 -4.0zM114.9 729.3l4.0 4.0l-4.0 4.0l-4.0 -4.0zM115.6 736.6l4.0 4.0l-4.0 4.0l-4.0 -4.0zM116.3 735.6l4.0 4.0l-4.0 4.0l-4.0 -4.0zM116.9 741.5l4.0 4.0l-4.0 4.0l-4.0 -4.0zM117.6 737.6l4.0 4.0l-4.0 4.0l-4.0 -4.0zM118.3 741.3l4.0 4.0l-4.0 4.0l-4.0 -4.0zM118.9 743.9l4.0 4.0l-4.0 4.0l-4.0 -4.0zM119.6 740.8l4.0 4.0l-4.0 4.0l-4.0 -4.0zM120.3 743.4l4.0 4.0l-4.0 4.0l-4.0 -4.0zM120.9 743.3l4.0 4.0l-4.0 4.0l-4.0 -4.0zM121.6 744.0l4.0 4.0l-4.0 4.0l-4.0 -4.0zM122.3 745.0l4.0 4.0l-4.0 4.0l-4.0 -4.0zM122.9 749.7l4.0 4.0l-4.0 4.0l-4.0 -4.0zM123.6 746.4l4.0 4.0l-4.0 4.0l-4.0 -4.0zM124.3 750.0l4.0 4.0l-4.0 4.0l-4.0 -4.0zM124.9 745.0l4.0 4.0l-4.0 4.0l-4.0 -4.0zM125.6 749.1l4.0 4.0l-4.0 4.0l-4.0 -4.0zM126.3 749.8l4.0 4.0l-4.0 4.0l-4.0 -4.0zM126.9 751.0l4.0 4.0l-4.0 4.0l-4.0 -4.0zM127.6 748.3l4.0 4.0l-4.0 4.0l-4.0 -4.0zM128.3 754.1l4.0 4.0l-4.0 4.0l-4.0 -4.0zM128.9 750.5l4.0 4.0l-4.0 4.0l-4.0 -4.0zM129.6 753.5l4.0 4.0l-4.0 4.0l-4.0 -4.0zM130.3 752.5l4.0 4.0l-4.0 4.0l-4.0 -4.0zM130.9 756.3l4.0 4.0l-4.0 4.0l-4.0 -4.0zM131.6 753.8l4.0 4.0l-4.0 4.0l-4.0 -4.0zM132.3 760.2l4.0 4.0l-4.0 4.0l-4.0 -4.0zM132.9 756.0l4.0 4.0l-4.0 4.0l-4.0 -4.0zM133.6 762.3l4.0 4.0l-4.0 4.0l-4.0 -4.0zM134.3 758.9l4.0 4.0l-4.0 4.0l-4.0 -4.0zM134.9 762.8l4.0 4.0l-4.0 4.0l-4.0 -4.0zM135.6 763.0l4.0 4.0l-4.0 4.0l-4.0 -4.0zM136.3 762.7l4.0 4.0l-4.0 4.0l-4.0 -4.0zM136.9 762.7l4.0 4.0l-4.0 4.0l-4.0 -4.0zM137.6 760.0l4.0 4.0l-4.0 4.0l-4.0 -4.0zM138.3 763.7l4.0 4.0l-4.0 4.0l-4.0 -4.0zM138.9 759.2l4.0 4.0l-4.0 4.0l-4.0 -4.0zM139.6 761.5l4.0 4.0l-4.0 4.0l-4.0 -4.0zM140.3 757.8l4.0 4.0l-4.0 4.0l-4.0 -4.0zM140.9 762.1l4.0 4.0l-4.0 4.0l-4.0 -4.0zM141.6 756.1l4.0 4.0l-4.0 4.0l-4.0 -4.0zM142.3 761.3l4.0 4.0l-4.0 4.0l-4.0 -4.0zM142.9 761.4l4.0 4.0l-4.0 4.0l-4.0 -4.0zM143.6 759.0l4.0 4.0l-4.0 4.0l-4.0 -4.0zM144.3 758.7l4.0 4.0l-4.0 4.0l-4.0 -4.0zM144.9 756.5l4.0 4.0l-4.0 4.0l-4.0 -4.0zM145.6 756.0l4.0 4.0l-4.0 4.0l-4.0 -4.0zM146.3 755.6l4.0 4.0l-4.0 4.0l-4.0 -4.0zM146.9 751.7l4.0 4.0l-4.0 4.0l-4.0 -4.0zM147.6 754.9l4.0 4.0l-4.0 4.0l-4.0 -4.0zM148.3 757.6l4.0 4.0l-4.0 4.0l-4.0 -4.0zM148.9 755.7l4.0 4.0l-4.0 4.0l-4.0 -4.0zM149.6 756.4l4.0 4.0l-4.0 4.0l-4.0 -4.0zM150.3 754.1l4.0 4.0l-4.0 4.0l-4.0 -4.0zM150.9 754.4l4.0 4.0l-4.0 4.0l-4.0 -4.0zM151.6 758.3l4.0 4.0l-4.0 4.0l-4.0 -4.0zM152.3 759.8l4.0 4.0l-4.0 4.0l-4.0 -4.0zM152.9 761.1l4.0 4.0l-4.0 4.0l-4.0 -4.0zM153.6 759.9l4.0 4.0l-4.0 4.0l-4.0 -4.0zM154.3 760.3l4.0 4.0l-4.0 4.0l-4.0 -4.0zM154.9 764.4l4.0 4.0l-4.0 4.0l-4.0 -4.0zM155.6 764.2l4.0 4.0l-4.0 4.0l-4.0 -4.0zM156.3 763.5l4.0 4.0l-4.0 4.0l-4.0 -4.0zM156.9 759.3l4.0 4.0l-4.0 4.0l-4.0 -4.0zM157.6 761.8l4.0 4.0l-4.0 4.0l-4.0 -4.0zM158.3 765.3l4.0 4.0l-4.0 4.0l-4.0 -4.0zM158.9 764.4l4.0 4.0l-4.0 4.0l-4.0 -4.0zM159.6 758.7l4.0 4.0l-4.0 4.0l-4.0 -4.0zM160.3 764.4l4.0 4.0l-4.0 4.0l-4.0 -4.0zM160.9 765.6l4.0 4.0l-4.0 4.0l-4.0 -4.0zM161.6 765.0l4.0 4.0l-4.0 4.0l-4.0 -4.0zM162.2 762.6l4.0 4.0l-4.0 4.0l-4.0 -4.0zM162.9 760.4l4.0 4.0l-4.0 4.0l-4.0 -4.0zM163.6 762.9l4.0 4.0l-4.0 4.0l-4.0 -4.0zM164.2 759.2l4.0 4.0l-4.0 4.0l-4.0 -4.0zM164.9 760.3l4.0 4.0l-4.0 4.0l-4.0 -4.0zM165.6 764.6l4.0 4.0l-4.0 4.0l-4.0 -4.0zM166.2 760.7l4.0 4.0l-4.0 4.0l-4.0 -4.0zM166.9 760.6l4.0 4.0l-4.0 4.0l-4.0 -4.0zM167.6 765.1l4.0 4.0l-4.0 4.0l-4.0 -4.0zM168.2 767.3l4.0 4.0l-4.0 4.0l-4.0 -4.0zM168.9 765.2l4.0 4.0l-4.0 4.0l-4.0 -4.0zM169.6 761.7l4.0 4.0l-4.0 4.0l-4.0 -4.0zM170.2 766.2l4.0 4.0l-4.0 4.0l-4.0 -4.0zM170.9 767.9l4.0 4.0l-4.0 4.0l-4.0 -4.0zM171.6 769.7l4.0 4.0l-4.0 4.0l-4.0 -4.0zM172.2 765.0l4.0 4.0l-4.0 4.0l-4.0 -4.0zM172.9 765.9l4.0 4.0l-4.0 4.0l-4.0 -4.0zM173.6 768.0l4.0 4.0l-4.0 4.0l-4.0 -4.0zM174.2 767.7l4.0 4.0l-4.0 4.0l-4.0 -4.0zM174.9 765.4l4.0 4.0l-4.0 4.0l-4.0 -4.0zM175.6 764.1l4.0 4.0l-4.0 4.0l-4.0 -4.0zM176.2 761.1l4.0 4.0l-4.0 4.0l-4.0 -4.0zM176.9 758.0l4.0 4.0l-4.0 4.0l-4.0 -4.0zM177.6 761.8l4.0 4.0l-4.0 4.0l-4.0 -4.0zM178.2 760.1l4.0 4.0l-4.0 4.0l-4.0 -4.0zM178.9 756.2l4.0 4.0l-4.0 4.0l-4.0 -4.0zM179.6 759.5l4.0 4.0l-4.0 4.0l-4.0 -4.0zM180.2 753.5l4.0 4.0l-4.0 4.0l-4.0 -4.0zM180.9 753.5l4.0 4.0l-4.0 4.0l-4.0 -4.0zM181.6 753.5l4.0 4.0l-4.0 4.0l-4.0 -4.0zM182.2 755.6l4.0 4.0l-4.0 4.0l-4.0 -4.0zM182.9 755.0l4.0 4.0l-4.0 4.0l-4.0 -4.0zM183.6 750.3l4.0 4.0l-4.0 4.0l-4.0 -4.0zM184.2 750.3l4.0 4.0l-4.0 4.0l-4.0 -4.0zM184.9 748.4l4.0 4.0l-4.0 4.0l-4.0 -4.0zM185.6 754.8l4.0 4.0l-4.0 4.0l-4.0 -4.0zM186.2 751.2l4.0 4.0l-4.0 4.0l-4.0 -4.0zM186.9 748.2l4.0 4.0l-4.0 4.0l-4.0 -4.0zM187.6 752.8l4.0 4.0l-4.0 4.0l-4.0 -4.0zM188.2 753.6l4.0 4.0l-4.0 4.0l-4.0 -4.0zM188.9 756.1l4.0 4.0l-4.0 4.0l-4.0 -4.0zM189.6 750.8l4.0 4.0l-4.0 4.0l-4.0 -4.0zM190.2 749.3l4.0 4.0l-4.0 4.0l-4.0 -4.0zM190.9 752.4l4.0 4.0l-4.0 4.0l-4.0 -4.0zM191.6 749.8l4.0 4.0l-4.0 4.0l-4.0 -4.0zM192.2 749.6l4.0 4.0l-4.0 4.0l-4.0 -4.0zM192.9 757.2l4.0 4.0l-4.0 4.0l-4.0 -4.0zM193.6 751.4l4.0 4.0l-4.0 4.0l-4.0 -4.0zM194.2 754.1l4.0 4.0l-4.0 4.0l-4.0 -4.0zM194.9 756.7l4.0 4.0l-4.0 4.0l-4.0 -4.0zM195.6 752.8l4.0 4.0l-4.0 4.0l-4.0 -4.0zM196.2 750.9l4.0 4.0l-4.0 4.0l-4.0 -4.0zM196.9 757.0l4.0 4.0l-4.0 4.0l-4.0 -4.0zM197.6 750.9l4.0 4.0l-4.0 4.0l-4.0 -4.0zM198.2 756.8l4.0 4.0l-4.0 4.0l-4.0 -4.0zM198.9 756.2l4.0 4.0l-4.0 4.0l-4.0 -4.0zM199.6 751.5l4.0 4.0l-4.0 4.0l-4.0 -4.0zM200.2 751.0l4.0 4.0l-4.0 4.0l-4.0 -4.0zM200.9 751.3l4.0 4.0l-4.0 4.0l-4.0 -4.0zM201.6 753.6l4.0 4.0l-4.0 4.0l-4.0 -4.0zM202.2 753.1l4.0 4.0l-4.0 4.0l-4.0 -4.0zM202.9 751.3l4.0 4.0l-4.0 4.0l-4.0 -4.0zM203.6 752.6l4.0 4.0l-4.0 4.0l-4.0 -4.0zM204.2 747.8l4.0 4.0l-4.0 4.0l-4.0 -4.0zM204.9 752.9l4.0 4.0l-4.0 4.0l-4.0 -4.0zM205.6 751.6l4.0 4.0l-4.0 4.0l-4.0 -4.0zM206.2 746.1l4.0 4.0l-4.0 4.0l-4.0 -4.0zM206.9 749.4l4.0 4.0l-4.0 4.0l-4.0 -4.0zM207.6 748.8l4.0 4.0l-4.0 4.0l-4.0 -4.0zM208.2 749.3l4.0 4.0l-4.0 4.0l-4.0 -4.0zM208.9 743.6l4.0 4.0l-4.0 4.0l-4.0 -4.0zM209.6 746.2l4.0 4.0l-4.0 4.0l-4.0 -4.0zM210.2 745.5l4.0 4.0l-4.0 4.0l-4.0 -4.0zM210.9 743.0l4.0 4.0l-4.0 4.0l-4.0 -4.0zM211.6 743.8l4.0 4.0l-4.0 4.0l-4.0 -4.0zM212.2 740.7l4.0 4.0l-4.0 4.0l-4.0 -4.0zM212.9 740.8l4.0 4.0l-4.0 4.0l-4.0 -4.0zM213.6 736.9l4.0 4.0l-4.0 4.0l-4.0 -4.0zM214.2 734.8l4.0 4.0l-4.0 4.0l-4.0 -4.0zM214.9 734.3l4.0 4.0l-4.0 4.0l-4.0 -4.0zM215.6 733.0l4.0 4.0l-4.0 4.0l-4.0 -4.0zM216.2 733.9l4.0 4.0l-4.0 4.0l-4.0 -4.0zM216.9 730.4l4.0 4.0l-4.0 4.0l-4.0 -4.0zM217.6 734.7l4.0 4.0l-4.0 4.0l-4.0 -4.0zM218.2 733.7l4.0 4.0l-4.0 4.0l-4.0 -4.0zM218.9 727.7l4.0 4.0l-4.0 4.0l-4.0 -4.0zM219.6 729.1l4.0 4.0l-4.0 4.0l-4.0 -4.0zM220.2 731.8l4.0 4.0l-4.0 4.0l-4.0 -4.0zM220.9 724.9l4.0 4.0l-4.0 4.0l-4.0 -4.0zM221.6 730.8l4.0 4.0l-4.0 4.0l-4.0 -4.0zM222.2 723.5l4.0 4.0l-4.0 4.0l-4.0 -4.0zM222.9 722.7l4.0 4.0l-4.0 4.0l-4.0 -4.0zM223.6 727.7l4.0 4.0l-4.0 4.0l-4.0 -4.0zM224.2 725.1l4.0 4.0l-4.0 4.0l-4.0 -4.0zM224.9 724.8l4.0 4.0l-4.0 4.0l-4.0 -4.0zM225.6 721.3l4.0 4.0l-4.0 4.0l-4.0 -4.0zM226.2 727.2l4.0 4.0l-4.0 4.0l-4.0 -4.0zM226.9 724.4l4.0 4.0l-4.0 4.0l-4.0 -4.0zM227.6 722.7l4.0 4.0l-4.0 4.0l-4.0 -4.0zM228.2 725.5l4.0 4.0l-4.0 4.0l-4.0 -4.0zM228.9 726.8l4.0 4.0l-4.0 4.0l-4.0 -4.0zM229.6 732.3l4.0 4.0l-4.0 4.0l-4.0 -4.0zM230.2 732.2l4.0 4.0l-4.0 4.0l-4.0 -4.0zM230.9 726.4l4.0 4.0l-4.0 4.0l-4.0 -4.0zM231.6 730.4l4.0 4.0l-4.0 4.0l-4.0 -4.0zM232.2 730.5l4.0 4.0l-4.0 4.0l-4.0 -4.0zM232.9 732.8l4.0 4.0l-4.0 4.0l-4.0 -4.0zM233.6 736.2l4.0 4.0l-4.0 4.0l-4.0 -4.0zM234.2 736.7l4.0 4.0l-4.0 4.0l-4.0 -4.0zM234.9 730.9l4.0 4.0l-4.0 4.0l-4.0 -4.0zM235.6 737.8l4.0 4.0l-4.0 4.0l-4.0 -4.0zM236.2 732.5l4.0 4.0l-4.0 4.0l-4.0 -4.0zM236.9 737.2l4.0 4.0l-4.0 4.0l-4.0 -4.0zM237.5 735.6l4.0 4.0l-4.0 4.0l-4.0 -4.0zM238.2 737.6l4.0 4.0l-4.0 4.0l-4.0 -4.0zM238.9 737.6l4.0 4.0l-4.0 4.0l-4.0 -4.0zM239.5 738.4l4.0 4.0l-4.0 4.0l-4.0 -4.0zM240.2 742.4l4.0 4.0l-4.0 4.0l-4.0 -4.0zM240.9 738.4l4.0 4.0l-4.0 4.0l-4.0 -4.0zM241.5 738.8l4.0 4.0l-4.0 4.0l-4.0 -4.0zM242.2 744.4l4.0 4.0l-4.0 4.0l-4.0 -4.0zM242.9 744.5l4.0 4.0l-4.0 4.0l-4.0 -4.0zM243.5 743.4l4.0 4.0l-4.0 4.0l-4.0 -4.0zM244.2 747.9l4.0 4.0l-4.0 4.0l-4.0 -4.0zM244.9 748.6l4.0 4.0l-4.0 4.0l-4.0 -4.0zM245.5 743.8l4.0 4.0l-4.0 4.0l-4.0 -4.0zM246.2 750.0l4.0 4.0l-4.0 4.0l-4.0 -4.0zM246.9 746.5l4.0 4.0l-4.0 4.0l-4.0 -4.0zM247.5 746.0l4.0 4.0l-4.0 4.0l-4.0 -4.0zM248.2 748.8l4.0 4.0l-4.0 4.0l-4.0 -4.0zM248.9 751.0l4.0 4.0l-4.0 4.0l-4.0 -4.0zM249.5 748.2l4.0 4.0l-4.0 4.0l-4.0 -4.0zM250.2 747.0l4.0 4.0l-4.0 4.0l-4.0 -4.0zM250.9 751.4l4.0 4.0l-4.0 4.0l-4.0 -4.0zM251.5 747.9l4.0 4.0l-4.0 4.0l-4.0 -4.0zM252.2 753.1l4.0 4.0l-4.0 4.0l-4.0 -4.0zM252.9 748.3l4.0 4.0l-4.0 4.0l-4.0 -4.0zM253.5 754.8l4.0 4.0l-4.0 4.0l-4.0 -4.0zM254.2 749.6l4.0 4.0l-4.0 4.0l-4.0 -4.0zM254.9 754.1l4.0 4.0l-4.0 4.0l-4.0 -4.0zM255.5 750.1l4.0 4.0l-4.0 4.0l-4.0 -4.0zM256.2 751.2l4.0 4.0l-4.0 4.0l-4.0 -4.0zM256.9 753.8l4.0 4.0l-4.0 4.0l-4.0 -4.0zM257.5 752.6l4.0 4.0l-4.0 4.0l-4.0 -4.0zM258.2 758.2l4.0 4.0l-4.0 4.0l-4.0 -4.0zM258.9 751.6l4.0 4.0l-4.0 4.0l-4.0 -4.0zM259.5 751.6l4.0 4.0l-4.0 4.0l-4.0 -4.0zM260.2 758.1l4.0 4.0l-4.0 4.0l-4.0 -4.0zM260.9 755.5l4.0 4.0l-4.0 4.0l-4.0 -4.0zM261.5 750.6l4.0 4.0l-4.0 4.0l-4.0 -4.0zM262.2 749.3l4.0 4.0l-4.0 4.0l-4.0 -4.0zM262.9 750.9l4.0 4.0l-4.0 4.0l-4.0 -4.0zM263.5 750.4l4.0 4.0l-4.0 4.0l-4.0 -4.0zM264.2 752.2l4.0 4.0l-4.0 4.0l-4.0 -4.0zM264.9 751.1l4.0 4.0l-4.0 4.0l-4.0 -4.0zM265.5 746.6l4.0 4.0l-4.0 4.0l-4.0 -4.0zM266.2 748.1l4.0 4.0l-4.0 4.0l-4.0 -4.0zM266.9 751.7l4.0 4.0l-4.0 4.0l-4.0 -4.0zM267.5 750.2l4.0 4.0l-4.0 4.0l-4.0 -4.0zM268.2 750.1l4.0 4.0l-4.0 4.0l-4.0 -4.0zM268.9 753.6l4.0 4.0l-4.0 4.0l-4.0 -4.0zM269.5 755.2l4.0 4.0l-4.0 4.0l-4.0 -4.0zM270.2 757.0l4.0 4.0l-4.0 4.0l-4.0 -4.0zM270.9 756.4l4.0 4.0l-4.0 4.0l-4.0 -4.0zM271.5 755.0l4.0 4.0l-4.0 4.0l-4.0 -4.0zM272.2 754.4l4.0 4.0l-4.0 4.0l-4.0 -4.0zM272.9 762.8l4.0 4.0l-4.0 4.0l-4.0 -4.0zM273.5 767.0l4.0 4.0l-4.0 4.0l-4.0 -4.0zM274.2 770.9l4.0 4.0l-4.0 4.0l-4.0 -4.0z" fill="#4f81bd"/>
<text x="43.0" y="844.0" font-size="26.5" font-weight="normal" text-anchor="middle" >0</text>
<text x="122.3" y="844.0" font-size="26.5" font-weight="normal" text-anchor="middle" >120</text>
<text x="201.7" y="844.0" font-size="26.5" font-weight="normal" text-anchor="middle" >240</text>
<text x="281.0" y="844.0" font-size="26.5" font-weight="normal" text-anchor="middle" >360</text>
<text x="160.0" y="880.6" font-size="26.5" font-weight="bold" text-anchor="middle" >Degree</text>
<path d="M139.1 619.9h4.6v3.8h-4.6z" fill="none" stroke="#c0504d" stroke-width="1.6"/>
<path d="M141.4 650.5l4.0 4.0l-4.0 4.0l-4.0 -4.0z" fill="#4f81bd"/>
<text x="153.9" y="631.3" font-size="26.5" font-weight="normal" text-anchor="start" >N=&#160;&#160;0</text>
<text x="153.9" y="664.0" font-size="26.5" font-weight="normal" text-anchor="start" >N=20</text>
<path d="M353.6,603.6H579.1V797.7H353.6Z" fill="none" stroke="#000" stroke-width="1.8"/>
<path d="M345.6,621.2H353.6M345.6,665.4H353.6M345.6,709.6H353.6M345.6,754.1H353.6M345.6,797.7H353.6M353.6,797.7V805.2M372.4,797.7V803.2M391.2,797.7V803.2M410.0,797.7V803.2M428.8,797.7V805.2M447.6,797.7V803.2M466.4,797.7V803.2M485.1,797.7V803.2M503.9,797.7V805.2M522.7,797.7V803.2M541.5,797.7V803.2M560.3,797.7V803.2M579.1,797.7V805.2" fill="none" stroke="#000" stroke-width="1.4"/>
<path d="M359.3 734.5h4.6v3.8h-4.6zM359.9 727.3h4.6v3.8h-4.6zM360.6 705.2h4.6v3.8h-4.6zM361.2 706.8h4.6v3.8h-4.6zM361.8 699.2h4.6v3.8h-4.6zM362.4 689.8h4.6v3.8h-4.6zM363.1 687.5h4.6v3.8h-4.6zM363.7 692.9h4.6v3.8h-4.6zM364.3 679.6h4.6v3.8h-4.6zM364.9 684.5h4.6v3.8h-4.6zM365.6 684.1h4.6v3.8h-4.6zM366.2 687.6h4.6v3.8h-4.6zM366.8 682.6h4.6v3.8h-4.6zM367.5 680.2h4.6v3.8h-4.6zM368.1 682.2h4.6v3.8h-4.6zM368.7 678.9h4.6v3.8h-4.6zM369.3 681.5h4.6v3.8h-4.6zM370.0 680.4h4.6v3.8h-4.6zM370.6 677.3h4.6v3.8h-4.6zM371.2 681.8h4.6v3.8h-4.6zM371.8 680.9h4.6v3.8h-4.6zM372.5 679.3h4.6v3.8h-4.6zM373.1 687.4h4.6v3.8h-4.6zM373.7 678.8h4.6v3.8h-4.6zM374.4 680.5h4.6v3.8h-4.6zM375.0 677.2h4.6v3.8h-4.6zM375.6 684.9h4.6v3.8h-4.6zM376.2 680.7h4.6v3.8h-4.6zM376.9 677.6h4.6v3.8h-4.6zM377.5 678.8h4.6v3.8h-4.6zM378.1 684.0h4.6v3.8h-4.6zM378.7 679.6h4.6v3.8h-4.6zM379.4 680.3h4.6v3.8h-4.6zM380.0 683.4h4.6v3.8h-4.6zM380.6 683.3h4.6v3.8h-4.6zM381.2 677.4h4.6v3.8h-4.6zM381.9 677.5h4.6v3.8h-4.6zM382.5 672.1h4.6v3.8h-4.6zM383.1 674.8h4.6v3.8h-4.6zM383.8 674.5h4.6v3.8h-4.6zM384.4 675.5h4.6v3.8h-4.6zM385.0 677.7h4.6v3.8h-4.6zM385.6 680.3h4.6v3.8h-4.6zM386.3 669.7h4.6v3.8h-4.6zM386.9 679.1h4.6v3.8h-4.6zM387.5 669.7h4.6v3.8h-4.6zM388.1 674.9h4.6v3.8h-4.6zM388.8 667.2h4.6v3.8h-4.6zM389.4 674.3h4.6v3.8h-4.6zM390.0 667.8h4.6v3.8h-4.6zM390.7 669.2h4.6v3.8h-4.6zM391.3 670.4h4.6v3.8h-4.6zM391.9 676.7h4.6v3.8h-4.6zM392.5 668.0h4.6v3.8h-4.6zM393.2 673.0h4.6v3.8h-4.6zM393.8 673.6h4.6v3.8h-4.6zM394.4 674.9h4.6v3.8h-4.6zM395.0 667.9h4.6v3.8h-4.6zM395.7 671.6h4.6v3.8h-4.6zM396.3 670.4h4.6v3.8h-4.6zM396.9 671.6h4.6v3.8h-4.6zM397.6 667.9h4.6v3.8h-4.6zM398.2 671.2h4.6v3.8h-4.6zM398.8 671.2h4.6v3.8h-4.6zM399.4 671.8h4.6v3.8h-4.6zM400.1 672.7h4.6v3.8h-4.6zM400.7 666.9h4.6v3.8h-4.6zM401.3 672.5h4.6v3.8h-4.6zM401.9 675.2h4.6v3.8h-4.6zM402.6 672.1h4.6v3.8h-4.6zM403.2 679.2h4.6v3.8h-4.6zM403.8 675.8h4.6v3.8h-4.6zM404.5 669.4h4.6v3.8h-4.6zM405.1 677.8h4.6v3.8h-4.6zM405.7 674.6h4.6v3.8h-4.6zM406.3 677.5h4.6v3.8h-4.6zM407.0 682.8h4.6v3.8h-4.6zM407.6 681.6h4.6v3.8h-4.6zM408.2 678.0h4.6v3.8h-4.6zM408.8 679.1h4.6v3.8h-4.6zM409.5 683.1h4.6v3.8h-4.6zM410.1 681.9h4.6v3.8h-4.6zM410.7 686.9h4.6v3.8h-4.6zM411.4 694.1h4.6v3.8h-4.6zM412.0 696.6h4.6v3.8h-4.6zM412.6 694.6h4.6v3.8h-4.6zM413.2 695.4h4.6v3.8h-4.6zM413.9 698.0h4.6v3.8h-4.6zM414.5 695.1h4.6v3.8h-4.6zM415.1 695.6h4.6v3.8h-4.6zM415.7 700.3h4.6v3.8h-4.6zM416.4 694.2h4.6v3.8h-4.6zM417.0 704.9h4.6v3.8h-4.6zM417.6 695.8h4.6v3.8h-4.6zM418.3 695.8h4.6v3.8h-4.6zM418.9 706.8h4.6v3.8h-4.6zM419.5 704.3h4.6v3.8h-4.6zM420.1 707.6h4.6v3.8h-4.6zM420.8 704.7h4.6v3.8h-4.6zM421.4 706.1h4.6v3.8h-4.6zM422.0 706.4h4.6v3.8h-4.6zM422.6 706.7h4.6v3.8h-4.6zM423.3 708.3h4.6v3.8h-4.6zM423.9 702.0h4.6v3.8h-4.6zM424.5 708.4h4.6v3.8h-4.6zM425.1 706.6h4.6v3.8h-4.6zM425.8 708.0h4.6v3.8h-4.6zM426.4 704.5h4.6v3.8h-4.6zM427.0 701.0h4.6v3.8h-4.6zM427.7 700.7h4.6v3.8h-4.6zM428.3 704.0h4.6v3.8h-4.6zM428.9 696.7h4.6v3.8h-4.6zM429.5 696.1h4.6v3.8h-4.6zM430.2 704.6h4.6v3.8h-4.6zM430.8 705.4h4.6v3.8h-4.6zM431.4 694.5h4.6v3.8h-4.6zM432.0 700.9h4.6v3.8h-4.6zM432.7 705.0h4.6v3.8h-4.6zM433.3 698.0h4.6v3.8h-4.6zM433.9 700.4h4.6v3.8h-4.6zM434.6 694.3h4.6v3.8h-4.6zM435.2 692.2h4.6v3.8h-4.6zM435.8 693.2h4.6v3.8h-4.6zM436.4 692.4h4.6v3.8h-4.6zM437.1 692.5h4.6v3.8h-4.6zM437.7 699.0h4.6v3.8h-4.6zM438.3 698.8h4.6v3.8h-4.6zM438.9 690.6h4.6v3.8h-4.6zM439.6 698.6h4.6v3.8h-4.6zM440.2 699.0h4.6v3.8h-4.6zM440.8 698.1h4.6v3.8h-4.6zM441.5 696.4h4.6v3.8h-4.6zM442.1 694.3h4.6v3.8h-4.6zM442.7 699.9h4.6v3.8h-4.6zM443.3 692.0h4.6v3.8h-4.6zM444.0 701.6h4.6v3.8h-4.6zM444.6 695.9h4.6v3.8h-4.6zM445.2 694.5h4.6v3.8h-4.6zM445.8 698.5h4.6v3.8h-4.6zM446.5 697.4h4.6v3.8h-4.6zM447.1 698.3h4.6v3.8h-4.6zM447.7 694.3h4.6v3.8h-4.6zM448.4 696.2h4.6v3.8h-4.6zM449.0 698.6h4.6v3.8h-4.6zM449.6 695.2h4.6v3.8h-4.6zM450.2 701.0h4.6v3.8h-4.6zM450.9 696.0h4.6v3.8h-4.6zM451.5 689.5h4.6v3.8h-4.6zM452.1 696.3h4.6v3.8h-4.6zM452.7 691.4h4.6v3.8h-4.6zM453.4 698.3h4.6v3.8h-4.6zM454.0 693.3h4.6v3.8h-4.6zM454.6 690.6h4.6v3.8h-4.6zM455.3 689.4h4.6v3.8h-4.6zM455.9 691.9h4.6v3.8h-4.6zM456.5 694.2h4.6v3.8h-4.6zM457.1 684.7h4.6v3.8h-4.6zM457.8 689.5h4.6v3.8h-4.6zM458.4 694.0h4.6v3.8h-4.6zM459.0 684.9h4.6v3.8h-4.6zM459.6 693.7h4.6v3.8h-4.6zM460.3 690.8h4.6v3.8h-4.6zM460.9 694.0h4.6v3.8h-4.6zM461.5 692.0h4.6v3.8h-4.6zM462.2 687.9h4.6v3.8h-4.6zM462.8 690.2h4.6v3.8h-4.6zM463.4 686.0h4.6v3.8h-4.6zM464.0 694.4h4.6v3.8h-4.6zM464.7 690.6h4.6v3.8h-4.6zM465.3 688.8h4.6v3.8h-4.6zM465.9 686.3h4.6v3.8h-4.6zM466.5 692.3h4.6v3.8h-4.6zM467.2 683.9h4.6v3.8h-4.6zM467.8 691.5h4.6v3.8h-4.6zM468.4 689.1h4.6v3.8h-4.6zM469.0 692.4h4.6v3.8h-4.6zM469.7 687.4h4.6v3.8h-4.6zM470.3 683.8h4.6v3.8h-4.6zM470.9 683.4h4.6v3.8h-4.6zM471.6 685.3h4.6v3.8h-4.6zM472.2 685.5h4.6v3.8h-4.6zM472.8 682.3h4.6v3.8h-4.6zM473.4 691.9h4.6v3.8h-4.6zM474.1 681.3h4.6v3.8h-4.6zM474.7 688.7h4.6v3.8h-4.6zM475.3 685.9h4.6v3.8h-4.6zM475.9 684.4h4.6v3.8h-4.6zM476.6 678.1h4.6v3.8h-4.6zM477.2 687.1h4.6v3.8h-4.6zM477.8 683.1h4.6v3.8h-4.6zM478.5 684.9h4.6v3.8h-4.6zM479.1 686.2h4.6v3.8h-4.6zM479.7 684.1h4.6v3.8h-4.6zM480.3 676.9h4.6v3.8h-4.6zM481.0 675.7h4.6v3.8h-4.6zM481.6 673.7h4.6v3.8h-4.6zM482.2 678.5h4.6v3.8h-4.6zM482.8 676.9h4.6v3.8h-4.6zM483.5 681.8h4.6v3.8h-4.6zM484.1 677.8h4.6v3.8h-4.6zM484.7 671.8h4.6v3.8h-4.6zM485.4 673.1h4.6v3.8h-4.6zM486.0 677.1h4.6v3.8h-4.6zM486.6 677.1h4.6v3.8h-4.6zM487.2 674.1h4.6v3.8h-4.6zM487.9 679.8h4.6v3.8h-4.6zM488.5 670.8h4.6v3.8h-4.6zM489.1 670.8h4.6v3.8h-4.6zM489.7 677.9h4.6v3.8h-4.6zM490.4 676.8h4.6v3.8h-4.6zM491.0 675.6h4.6v3.8h-4.6zM491.6 673.1h4.6v3.8h-4.6zM492.3 665.3h4.6v3.8h-4.6zM492.9 672.4h4.6v3.8h-4.6zM493.5 670.6h4.6v3.8h-4.6zM494.1 668.7h4.6v3.8h-4.6zM494.8 662.1h4.6v3.8h-4.6zM495.4 662.9h4.6v3.8h-4.6zM496.0 664.6h4.6v3.8h-4.6zM496.6 660.8h4.6v3.8h-4.6zM497.3 665.0h4.6v3.8h-4.6zM497.9 664.7h4.6v3.8h-4.6zM498.5 656.2h4.6v3.8h-4.6zM499.2 657.7h4.6v3.8h-4.6zM499.8 664.6h4.6v3.8h-4.6zM500.4 655.5h4.6v3.8h-4.6zM501.0 654.4h4.6v3.8h-4.6zM501.7 662.4h4.6v3.8h-4.6zM502.3 657.3h4.6v3.8h-4.6zM502.9 660.9h4.6v3.8h-4.6zM503.5 658.0h4.6v3.8h-4.6zM504.2 652.7h4.6v3.8h-4.6zM504.8 657.8h4.6v3.8h-4.6zM505.4 650.6h4.6v3.8h-4.6zM506.1 651.3h4.6v3.8h-4.6zM506.7 649.4h4.6v3.8h-4.6zM507.3 656.7h4.6v3.8h-4.6zM507.9 648.3h4.6v3.8h-4.6zM508.6 649.4h4.6v3.8h-4.6zM509.2 646.4h4.6v3.8h-4.6zM509.8 645.1h4.6v3.8h-4.6zM510.4 651.6h4.6v3.8h-4.6zM511.1 648.8h4.6v3.8h-4.6zM511.7 645.6h4.6v3.8h-4.6zM512.3 646.2h4.6v3.8h-4.6zM512.9 653.1h4.6v3.8h-4.6zM513.6 642.2h4.6v3.8h-4.6zM514.2 651.0h4.6v3.8h-4.6zM514.8 648.5h4.6v3.8h-4.6zM515.5 651.0h4.6v3.8h-4.6zM516.1 648.5h4.6v3.8h-4.6zM516.7 640.3h4.6v3.8h-4.6zM517.3 647.9h4.6v3.8h-4.6zM518.0 639.9h4.6v3.8h-4.6zM518.6 647.9h4.6v3.8h-4.6zM519.2 644.4h4.6v3.8h-4.6zM519.8 642.2h4.6v3.8h-4.6zM520.5 650.7h4.6v3.8h-4.6zM521.1 645.7h4.6v3.8h-4.6zM521.7 654.2h4.6v3.8h-4.6zM522.4 652.6h4.6v3.8h-4.6zM523.0 658.9h4.6v3.8h-4.6zM523.6 663.5h4.6v3.8h-4.6zM524.2 657.5h4.6v3.8h-4.6zM524.9 663.7h4.6v3.8h-4.6zM525.5 663.6h4.6v3.8h-4.6zM526.1 664.6h4.6v3.8h-4.6zM526.7 665.0h4.6v3.8h-4.6zM527.4 660.9h4.6v3.8h-4.6zM528.0 665.8h4.6v3.8h-4.6zM528.6 665.3h4.6v3.8h-4.6zM529.3 657.4h4.6v3.8h-4.6zM529.9 659.5h4.6v3.8h-4.6zM530.5 659.5h4.6v3.8h-4.6zM531.1 655.3h4.6v3.8h-4.6zM531.8 660.4h4.6v3.8h-4.6zM532.4 656.8h4.6v3.8h-4.6zM533.0 665.3h4.6v3.8h-4.6zM533.6 660.1h4.6v3.8h-4.6zM534.3 661.3h4.6v3.8h-4.6zM534.9 658.1h4.6v3.8h-4.6zM535.5 668.9h4.6v3.8h-4.6zM536.2 664.3h4.6v3.8h-4.6zM536.8 665.1h4.6v3.8h-4.6zM537.4 670.6h4.6v3.8h-4.6zM538.0 662.0h4.6v3.8h-4.6zM538.7 663.2h4.6v3.8h-4.6zM539.3 661.2h4.6v3.8h-4.6zM539.9 669.4h4.6v3.8h-4.6zM540.5 662.0h4.6v3.8h-4.6zM541.2 668.6h4.6v3.8h-4.6zM541.8 670.2h4.6v3.8h-4.6zM542.4 672.3h4.6v3.8h-4.6zM543.1 662.8h4.6v3.8h-4.6zM543.7 668.2h4.6v3.8h-4.6zM544.3 665.8h4.6v3.8h-4.6zM544.9 667.4h4.6v3.8h-4.6zM545.6 669.7h4.6v3.8h-4.6zM546.2 664.7h4.6v3.8h-4.6zM546.8 671.8h4.6v3.8h-4.6zM547.4 672.8h4.6v3.8h-4.6zM548.1 667.9h4.6v3.8h-4.6zM548.7 673.2h4.6v3.8h-4.6zM549.3 668.4h4.6v3.8h-4.6zM550.0 673.2h4.6v3.8h-4.6zM550.6 667.4h4.6v3.8h-4.6zM551.2 670.0h4.6v3.8h-4.6zM551.8 674.7h4.6v3.8h-4.6zM552.5 675.2h4.6v3.8h-4.6zM553.1 666.7h4.6v3.8h-4.6zM553.7 677.6h4.6v3.8h-4.6zM554.3 669.8h4.6v3.8h-4.6zM555.0 674.6h4.6v3.8h-4.6zM555.6 673.8h4.6v3.8h-4.6zM556.2 673.0h4.6v3.8h-4.6zM556.8 668.6h4.6v3.8h-4.6zM557.5 679.9h4.6v3.8h-4.6zM558.1 679.8h4.6v3.8h-4.6zM558.7 678.6h4.6v3.8h-4.6zM559.4 679.7h4.6v3.8h-4.6zM560.0 677.1h4.6v3.8h-4.6zM560.6 677.8h4.6v3.8h-4.6zM561.2 676.5h4.6v3.8h-4.6zM561.9 677.6h4.6v3.8h-4.6zM562.5 676.7h4.6v3.8h-4.6zM563.1 682.0h4.6v3.8h-4.6zM563.7 674.7h4.6v3.8h-4.6zM564.4 672.8h4.6v3.8h-4.6zM565.0 682.8h4.6v3.8h-4.6zM565.6 675.2h4.6v3.8h-4.6zM566.3 678.9h4.6v3.8h-4.6zM566.9 674.8h4.6v3.8h-4.6zM567.5 677.4h4.6v3.8h-4.6zM568.1 677.9h4.6v3.8h-4.6zM568.8 676.2h4.6v3.8h-4.6zM569.4 685.6h4.6v3.8h-4.6zM570.0 683.0h4.6v3.8h-4.6zM570.6 683.7h4.6v3.8h-4.6zM571.3 696.6h4.6v3.8h-4.6zM571.9 712.0h4.6v3.8h-4.6z" fill="none" stroke="#c0504d" stroke-width="1.6"/>
<path d="M359.9 776.1l4.0 4.0l-4.0 4.0l-4.0 -4.0zM360.5 768.2l4.0 4.0l-4.0 4.0l-4.0 -4.0zM361.2 764.9l4.0 4.0l-4.0 4.0l-4.0 -4.0zM361.8 757.6l4.0 4.0l-4.0 4.0l-4.0 -4.0zM362.4 762.9l4.0 4.0l-4.0 4.0l-4.0 -4.0zM363.1 756.2l4.0 4.0l-4.0 4.0l-4.0 -4.0zM363.7 751.7l4.0 4.0l-4.0 4.0l-4.0 -4.0zM364.3 750.5l4.0 4.0l-4.0 4.0l-4.0 -4.0zM365.0 747.8l4.0 4.0l-4.0 4.0l-4.0 -4.0zM365.6 754.0l4.0 4.0l-4.0 4.0l-4.0 -4.0zM366.2 744.3l4.0 4.0l-4.0 4.0l-4.0 -4.0zM366.9 747.0l4.0 4.0l-4.0 4.0l-4.0 -4.0zM367.5 742.3l4.0 4.0l-4.0 4.0l-4.0 -4.0zM368.2 749.9l4.0 4.0l-4.0 4.0l-4.0 -4.0zM368.8 742.0l4.0 4.0l-4.0 4.0l-4.0 -4.0zM369.4 744.7l4.0 4.0l-4.0 4.0l-4.0 -4.0zM370.1 748.1l4.0 4.0l-4.0 4.0l-4.0 -4.0zM370.7 750.8l4.0 4.0l-4.0 4.0l-4.0 -4.0zM371.3 750.6l4.0 4.0l-4.0 4.0l-4.0 -4.0zM372.0 751.5l4.0 4.0l-4.0 4.0l-4.0 -4.0zM372.6 752.4l4.0 4.0l-4.0 4.0l-4.0 -4.0zM373.2 754.3l4.0 4.0l-4.0 4.0l-4.0 -4.0zM373.9 754.5l4.0 4.0l-4.0 4.0l-4.0 -4.0zM374.5 754.1l4.0 4.0l-4.0 4.0l-4.0 -4.0zM375.1 751.5l4.0 4.0l-4.0 4.0l-4.0 -4.0zM375.8 752.2l4.0 4.0l-4.0 4.0l-4.0 -4.0zM376.4 754.2l4.0 4.0l-4.0 4.0l-4.0 -4.0zM377.0 752.3l4.0 4.0l-4.0 4.0l-4.0 -4.0zM377.7 750.5l4.0 4.0l-4.0 4.0l-4.0 -4.0zM378.3 753.2l4.0 4.0l-4.0 4.0l-4.0 -4.0zM378.9 749.7l4.0 4.0l-4.0 4.0l-4.0 -4.0zM379.6 749.5l4.0 4.0l-4.0 4.0l-4.0 -4.0zM380.2 753.5l4.0 4.0l-4.0 4.0l-4.0 -4.0zM380.8 750.4l4.0 4.0l-4.0 4.0l-4.0 -4.0zM381.5 747.0l4.0 4.0l-4.0 4.0l-4.0 -4.0zM382.1 746.5l4.0 4.0l-4.0 4.0l-4.0 -4.0zM382.8 750.9l4.0 4.0l-4.0 4.0l-4.0 -4.0zM383.4 754.3l4.0 4.0l-4.0 4.0l-4.0 -4.0zM384.0 753.4l4.0 4.0l-4.0 4.0l-4.0 -4.0zM384.7 754.5l4.0 4.0l-4.0 4.0l-4.0 -4.0zM385.3 748.8l4.0 4.0l-4.0 4.0l-4.0 -4.0zM385.9 744.3l4.0 4.0l-4.0 4.0l-4.0 -4.0zM386.6 750.0l4.0 4.0l-4.0 4.0l-4.0 -4.0zM387.2 753.5l4.0 4.0l-4.0 4.0l-4.0 -4.0zM387.8 749.4l4.0 4.0l-4.0 4.0l-4.0 -4.0zM388.5 749.1l4.0 4.0l-4.0 4.0l-4.0 -4.0zM389.1 750.7l4.0 4.0l-4.0 4.0l-4.0 -4.0zM389.7 747.2l4.0 4.0l-4.0 4.0l-4.0 -4.0zM390.4 747.0l4.0 4.0l-4.0 4.0l-4.0 -4.0zM391.0 750.2l4.0 4.0l-4.0 4.0l-4.0 -4.0zM391.6 744.0l4.0 4.0l-4.0 4.0l-4.0 -4.0zM392.3 746.9l4.0 4.0l-4.0 4.0l-4.0 -4.0zM392.9 748.5l4.0 4.0l-4.0 4.0l-4.0 -4.0zM393.5 752.3l4.0 4.0l-4.0 4.0l-4.0 -4.0zM394.2 746.6l4.0 4.0l-4.0 4.0l-4.0 -4.0zM394.8 752.1l4.0 4.0l-4.0 4.0l-4.0 -4.0zM395.4 747.0l4.0 4.0l-4.0 4.0l-4.0 -4.0zM396.1 743.0l4.0 4.0l-4.0 4.0l-4.0 -4.0zM396.7 751.2l4.0 4.0l-4.0 4.0l-4.0 -4.0zM397.4 746.1l4.0 4.0l-4.0 4.0l-4.0 -4.0zM398.0 749.8l4.0 4.0l-4.0 4.0l-4.0 -4.0zM398.6 748.8l4.0 4.0l-4.0 4.0l-4.0 -4.0zM399.3 749.2l4.0 4.0l-4.0 4.0l-4.0 -4.0zM399.9 741.4l4.0 4.0l-4.0 4.0l-4.0 -4.0zM400.5 745.1l4.0 4.0l-4.0 4.0l-4.0 -4.0zM401.2 741.8l4.0 4.0l-4.0 4.0l-4.0 -4.0zM401.8 746.4l4.0 4.0l-4.0 4.0l-4.0 -4.0zM402.4 743.5l4.0 4.0l-4.0 4.0l-4.0 -4.0zM403.1 746.4l4.0 4.0l-4.0 4.0l-4.0 -4.0zM403.7 744.1l4.0 4.0l-4.0 4.0l-4.0 -4.0zM404.3 743.0l4.0 4.0l-4.0 4.0l-4.0 -4.0zM405.0 739.8l4.0 4.0l-4.0 4.0l-4.0 -4.0zM405.6 748.6l4.0 4.0l-4.0 4.0l-4.0 -4.0zM406.2 746.7l4.0 4.0l-4.0 4.0l-4.0 -4.0zM406.9 745.0l4.0 4.0l-4.0 4.0l-4.0 -4.0zM407.5 742.6l4.0 4.0l-4.0 4.0l-4.0 -4.0zM408.1 745.1l4.0 4.0l-4.0 4.0l-4.0 -4.0zM408.8 745.1l4.0 4.0l-4.0 4.0l-4.0 -4.0zM409.4 739.9l4.0 4.0l-4.0 4.0l-4.0 -4.0zM410.0 746.0l4.0 4.0l-4.0 4.0l-4.0 -4.0zM410.7 738.6l4.0 4.0l-4.0 4.0l-4.0 -4.0zM411.3 742.5l4.0 4.0l-4.0 4.0l-4.0 -4.0zM412.0 743.0l4.0 4.0l-4.0 4.0l-4.0 -4.0zM412.6 736.7l4.0 4.0l-4.0 4.0l-4.0 -4.0zM413.2 743.6l4.0 4.0l-4.0 4.0l-4.0 -4.0zM413.9 742.5l4.0 4.0l-4.0 4.0l-4.0 -4.0zM414.5 736.3l4.0 4.0l-4.0 4.0l-4.0 -4.0zM415.1 735.1l4.0 4.0l-4.0 4.0l-4.0 -4.0zM415.8 739.6l4.0 4.0l-4.0 4.0l-4.0 -4.0zM416.4 737.8l4.0 4.0l-4.0 4.0l-4.0 -4.0zM417.0 733.3l4.0 4.0l-4.0 4.0l-4.0 -4.0zM417.7 738.4l4.0 4.0l-4.0 4.0l-4.0 -4.0zM418.3 736.5l4.0 4.0l-4.0 4.0l-4.0 -4.0zM418.9 734.1l4.0 4.0l-4.0 4.0l-4.0 -4.0zM419.6 740.8l4.0 4.0l-4.0 4.0l-4.0 -4.0zM420.2 734.1l4.0 4.0l-4.0 4.0l-4.0 -4.0zM420.8 738.9l4.0 4.0l-4.0 4.0l-4.0 -4.0zM421.5 736.3l4.0 4.0l-4.0 4.0l-4.0 -4.0zM422.1 734.8l4.0 4.0l-4.0 4.0l-4.0 -4.0zM422.7 731.8l4.0 4.0l-4.0 4.0l-4.0 -4.0zM423.4 736.3l4.0 4.0l-4.0 4.0l-4.0 -4.0zM424.0 731.7l4.0 4.0l-4.0 4.0l-4.0 -4.0zM424.7 733.3l4.0 4.0l-4.0 4.0l-4.0 -4.0zM425.3 730.9l4.0 4.0l-4.0 4.0l-4.0 -4.0zM425.9 732.2l4.0 4.0l-4.0 4.0l-4.0 -4.0zM426.6 738.7l4.0 4.0l-4.0 4.0l-4.0 -4.0zM427.2 734.6l4.0 4.0l-4.0 4.0l-4.0 -4.0zM427.8 734.4l4.0 4.0l-4.0 4.0l-4.0 -4.0zM428.5 733.2l4.0 4.0l-4.0 4.0l-4.0 -4.0zM429.1 730.4l4.0 4.0l-4.0 4.0l-4.0 -4.0zM429.7 732.9l4.0 4.0l-4.0 4.0l-4.0 -4.0zM430.4 731.3l4.0 4.0l-4.0 4.0l-4.0 -4.0zM431.0 731.9l4.0 4.0l-4.0 4.0l-4.0 -4.0zM431.6 736.5l4.0 4.0l-4.0 4.0l-4.0 -4.0zM432.3 731.3l4.0 4.0l-4.0 4.0l-4.0 -4.0zM432.9 730.8l4.0 4.0l-4.0 4.0l-4.0 -4.0zM433.5 739.1l4.0 4.0l-4.0 4.0l-4.0 -4.0zM434.2 735.5l4.0 4.0l-4.0 4.0l-4.0 -4.0zM434.8 739.8l4.0 4.0l-4.0 4.0l-4.0 -4.0zM435.4 735.6l4.0 4.0l-4.0 4.0l-4.0 -4.0zM436.1 736.4l4.0 4.0l-4.0 4.0l-4.0 -4.0zM436.7 735.1l4.0 4.0l-4.0 4.0l-4.0 -4.0zM437.3 738.7l4.0 4.0l-4.0 4.0l-4.0 -4.0zM438.0 738.7l4.0 4.0l-4.0 4.0l-4.0 -4.0zM438.6 741.8l4.0 4.0l-4.0 4.0l-4.0 -4.0zM439.3 744.4l4.0 4.0l-4.0 4.0l-4.0 -4.0zM439.9 739.3l4.0 4.0l-4.0 4.0l-4.0 -4.0zM440.5 742.4l4.0 4.0l-4.0 4.0l-4.0 -4.0zM441.2 745.6l4.0 4.0l-4.0 4.0l-4.0 -4.0zM441.8 742.4l4.0 4.0l-4.0 4.0l-4.0 -4.0zM442.4 740.4l4.0 4.0l-4.0 4.0l-4.0 -4.0zM443.1 742.1l4.0 4.0l-4.0 4.0l-4.0 -4.0zM443.7 744.5l4.0 4.0l-4.0 4.0l-4.0 -4.0zM444.3 743.2l4.0 4.0l-4.0 4.0l-4.0 -4.0zM445.0 741.5l4.0 4.0l-4.0 4.0l-4.0 -4.0zM445.6 743.5l4.0 4.0l-4.0 4.0l-4.0 -4.0zM446.2 741.8l4.0 4.0l-4.0 4.0l-4.0 -4.0zM446.9 744.9l4.0 4.0l-4.0 4.0l-4.0 -4.0zM447.5 744.7l4.0 4.0l-4.0 4.0l-4.0 -4.0zM448.1 745.4l4.0 4.0l-4.0 4.0l-4.0 -4.0zM448.8 744.0l4.0 4.0l-4.0 4.0l-4.0 -4.0zM449.4 746.1l4.0 4.0l-4.0 4.0l-4.0 -4.0zM450.0 753.2l4.0 4.0l-4.0 4.0l-4.0 -4.0zM450.7 753.4l4.0 4.0l-4.0 4.0l-4.0 -4.0zM451.3 746.1l4.0 4.0l-4.0 4.0l-4.0 -4.0zM451.9 745.5l4.0 4.0l-4.0 4.0l-4.0 -4.0zM452.6 752.7l4.0 4.0l-4.0 4.0l-4.0 -4.0zM453.2 750.6l4.0 4.0l-4.0 4.0l-4.0 -4.0zM453.9 754.0l4.0 4.0l-4.0 4.0l-4.0 -4.0zM454.5 756.1l4.0 4.0l-4.0 4.0l-4.0 -4.0zM455.1 754.3l4.0 4.0l-4.0 4.0l-4.0 -4.0zM455.8 749.5l4.0 4.0l-4.0 4.0l-4.0 -4.0zM456.4 756.5l4.0 4.0l-4.0 4.0l-4.0 -4.0zM457.0 749.8l4.0 4.0l-4.0 4.0l-4.0 -4.0zM457.7 751.5l4.0 4.0l-4.0 4.0l-4.0 -4.0zM458.3 752.8l4.0 4.0l-4.0 4.0l-4.0 -4.0zM458.9 750.0l4.0 4.0l-4.0 4.0l-4.0 -4.0zM459.6 756.1l4.0 4.0l-4.0 4.0l-4.0 -4.0zM460.2 758.1l4.0 4.0l-4.0 4.0l-4.0 -4.0zM460.8 756.7l4.0 4.0l-4.0 4.0l-4.0 -4.0zM461.5 753.7l4.0 4.0l-4.0 4.0l-4.0 -4.0zM462.1 752.7l4.0 4.0l-4.0 4.0l-4.0 -4.0zM462.7 757.7l4.0 4.0l-4.0 4.0l-4.0 -4.0zM463.4 751.9l4.0 4.0l-4.0 4.0l-4.0 -4.0zM464.0 757.7l4.0 4.0l-4.0 4.0l-4.0 -4.0zM464.6 749.2l4.0 4.0l-4.0 4.0l-4.0 -4.0zM465.3 749.7l4.0 4.0l-4.0 4.0l-4.0 -4.0zM465.9 750.7l4.0 4.0l-4.0 4.0l-4.0 -4.0zM466.5 756.2l4.0 4.0l-4.0 4.0l-4.0 -4.0zM467.2 755.5l4.0 4.0l-4.0 4.0l-4.0 -4.0zM467.8 756.0l4.0 4.0l-4.0 4.0l-4.0 -4.0zM468.5 751.0l4.0 4.0l-4.0 4.0l-4.0 -4.0zM469.1 757.6l4.0 4.0l-4.0 4.0l-4.0 -4.0zM469.7 757.2l4.0 4.0l-4.0 4.0l-4.0 -4.0zM470.4 755.0l4.0 4.0l-4.0 4.0l-4.0 -4.0zM471.0 753.6l4.0 4.0l-4.0 4.0l-4.0 -4.0zM471.6 747.3l4.0 4.0l-4.0 4.0l-4.0 -4.0zM472.3 751.0l4.0 4.0l-4.0 4.0l-4.0 -4.0zM472.9 755.9l4.0 4.0l-4.0 4.0l-4.0 -4.0zM473.5 753.9l4.0 4.0l-4.0 4.0l-4.0 -4.0zM474.2 753.1l4.0 4.0l-4.0 4.0l-4.0 -4.0zM474.8 748.2l4.0 4.0l-4.0 4.0l-4.0 -4.0zM475.4 755.3l4.0 4.0l-4.0 4.0l-4.0 -4.0zM476.1 750.7l4.0 4.0l-4.0 4.0l-4.0 -4.0zM476.7 745.4l4.0 4.0l-4.0 4.0l-4.0 -4.0zM477.3 748.9l4.0 4.0l-4.0 4.0l-4.0 -4.0zM478.0 747.7l4.0 4.0l-4.0 4.0l-4.0 -4.0zM478.6 751.7l4.0 4.0l-4.0 4.0l-4.0 -4.0zM479.2 746.7l4.0 4.0l-4.0 4.0l-4.0 -4.0zM479.9 749.5l4.0 4.0l-4.0 4.0l-4.0 -4.0zM480.5 753.7l4.0 4.0l-4.0 4.0l-4.0 -4.0zM481.1 747.0l4.0 4.0l-4.0 4.0l-4.0 -4.0zM481.8 745.2l4.0 4.0l-4.0 4.0l-4.0 -4.0zM482.4 747.1l4.0 4.0l-4.0 4.0l-4.0 -4.0zM483.1 749.2l4.0 4.0l-4.0 4.0l-4.0 -4.0zM483.7 745.1l4.0 4.0l-4.0 4.0l-4.0 -4.0zM484.3 749.4l4.0 4.0l-4.0 4.0l-4.0 -4.0zM485.0 751.1l4.0 4.0l-4.0 4.0l-4.0 -4.0zM485.6 744.5l4.0 4.0l-4.0 4.0l-4.0 -4.0zM486.2 747.1l4.0 4.0l-4.0 4.0l-4.0 -4.0zM486.9 744.1l4.0 4.0l-4.0 4.0l-4.0 -4.0zM487.5 745.7l4.0 4.0l-4.0 4.0l-4.0 -4.0zM488.1 748.4l4.0 4.0l-4.0 4.0l-4.0 -4.0zM488.8 747.3l4.0 4.0l-4.0 4.0l-4.0 -4.0zM489.4 747.8l4.0 4.0l-4.0 4.0l-4.0 -4.0zM490.0 744.9l4.0 4.0l-4.0 4.0l-4.0 -4.0zM490.7 754.6l4.0 4.0l-4.0 4.0l-4.0 -4.0zM491.3 745.3l4.0 4.0l-4.0 4.0l-4.0 -4.0zM491.9 754.8l4.0 4.0l-4.0 4.0l-4.0 -4.0zM492.6 745.8l4.0 4.0l-4.0 4.0l-4.0 -4.0zM493.2 749.2l4.0 4.0l-4.0 4.0l-4.0 -4.0zM493.8 750.0l4.0 4.0l-4.0 4.0l-4.0 -4.0zM494.5 753.5l4.0 4.0l-4.0 4.0l-4.0 -4.0zM495.1 750.1l4.0 4.0l-4.0 4.0l-4.0 -4.0zM495.7 750.0l4.0 4.0l-4.0 4.0l-4.0 -4.0zM496.4 745.4l4.0 4.0l-4.0 4.0l-4.0 -4.0zM497.0 742.7l4.0 4.0l-4.0 4.0l-4.0 -4.0zM497.7 750.8l4.0 4.0l-4.0 4.0l-4.0 -4.0zM498.3 743.6l4.0 4.0l-4.0 4.0l-4.0 -4.0zM498.9 750.1l4.0 4.0l-4.0 4.0l-4.0 -4.0zM499.6 742.7l4.0 4.0l-4.0 4.0l-4.0 -4.0zM500.2 749.2l4.0 4.0l-4.0 4.0l-4.0 -4.0zM500.8 743.5l4.0 4.0l-4.0 4.0l-4.0 -4.0zM501.5 748.4l4.0 4.0l-4.0 4.0l-4.0 -4.0zM502.1 743.4l4.0 4.0l-4.0 4.0l-4.0 -4.0zM502.7 743.1l4.0 4.0l-4.0 4.0l-4.0 -4.0zM503.4 741.5l4.0 4.0l-4.0 4.0l-4.0 -4.0zM504.0 744.7l4.0 4.0l-4.0 4.0l-4.0 -4.0zM504.6 747.0l4.0 4.0l-4.0 4.0l-4.0 -4.0zM505.3 747.7l4.0 4.0l-4.0 4.0l-4.0 -4.0zM505.9 743.2l4.0 4.0l-4.0 4.0l-4.0 -4.0zM506.5 739.4l4.0 4.0l-4.0 4.0l-4.0 -4.0zM507.2 743.5l4.0 4.0l-4.0 4.0l-4.0 -4.0zM507.8 744.4l4.0 4.0l-4.0 4.0l-4.0 -4.0zM508.4 741.6l4.0 4.0l-4.0 4.0l-4.0 -4.0zM509.1 737.7l4.0 4.0l-4.0 4.0l-4.0 -4.0zM509.7 741.1l4.0 4.0l-4.0 4.0l-4.0 -4.0zM510.3 743.2l4.0 4.0l-4.0 4.0l-4.0 -4.0zM511.0 743.7l4.0 4.0l-4.0 4.0l-4.0 -4.0zM511.6 742.4l4.0 4.0l-4.0 4.0l-4.0 -4.0zM512.3 736.4l4.0 4.0l-4.0 4.0l-4.0 -4.0zM512.9 738.0l4.0 4.0l-4.0 4.0l-4.0 -4.0zM513.5 735.5l4.0 4.0l-4.0 4.0l-4.0 -4.0zM514.2 738.1l4.0 4.0l-4.0 4.0l-4.0 -4.0zM514.8 739.8l4.0 4.0l-4.0 4.0l-4.0 -4.0zM515.4 732.7l4.0 4.0l-4.0 4.0l-4.0 -4.0zM516.1 734.8l4.0 4.0l-4.0 4.0l-4.0 -4.0zM516.7 730.2l4.0 4.0l-4.0 4.0l-4.0 -4.0zM517.3 730.8l4.0 4.0l-4.0 4.0l-4.0 -4.0zM518.0 736.7l4.0 4.0l-4.0 4.0l-4.0 -4.0zM518.6 735.4l4.0 4.0l-4.0 4.0l-4.0 -4.0zM519.2 736.1l4.0 4.0l-4.0 4.0l-4.0 -4.0zM519.9 734.3l4.0 4.0l-4.0 4.0l-4.0 -4.0zM520.5 732.6l4.0 4.0l-4.0 4.0l-4.0 -4.0zM521.1 728.4l4.0 4.0l-4.0 4.0l-4.0 -4.0zM521.8 735.0l4.0 4.0l-4.0 4.0l-4.0 -4.0zM522.4 731.6l4.0 4.0l-4.0 4.0l-4.0 -4.0zM523.0 728.1l4.0 4.0l-4.0 4.0l-4.0 -4.0zM523.7 724.6l4.0 4.0l-4.0 4.0l-4.0 -4.0zM524.3 731.1l4.0 4.0l-4.0 4.0l-4.0 -4.0zM525.0 724.7l4.0 4.0l-4.0 4.0l-4.0 -4.0zM525.6 727.4l4.0 4.0l-4.0 4.0l-4.0 -4.0zM526.2 727.6l4.0 4.0l-4.0 4.0l-4.0 -4.0zM526.9 728.4l4.0 4.0l-4.0 4.0l-4.0 -4.0zM527.5 722.9l4.0 4.0l-4.0 4.0l-4.0 -4.0zM528.1 730.2l4.0 4.0l-4.0 4.0l-4.0 -4.0zM528.8 721.4l4.0 4.0l-4.0 4.0l-4.0 -4.0zM529.4 722.1l4.0 4.0l-4.0 4.0l-4.0 -4.0zM530.0 724.2l4.0 4.0l-4.0 4.0l-4.0 -4.0zM530.7 723.0l4.0 4.0l-4.0 4.0l-4.0 -4.0zM531.3 719.5l4.0 4.0l-4.0 4.0l-4.0 -4.0zM531.9 717.6l4.0 4.0l-4.0 4.0l-4.0 -4.0zM532.6 721.7l4.0 4.0l-4.0 4.0l-4.0 -4.0zM533.2 719.1l4.0 4.0l-4.0 4.0l-4.0 -4.0zM533.8 718.7l4.0 4.0l-4.0 4.0l-4.0 -4.0zM534.5 719.1l4.0 4.0l-4.0 4.0l-4.0 -4.0zM535.1 720.0l4.0 4.0l-4.0 4.0l-4.0 -4.0zM535.7 721.1l4.0 4.0l-4.0 4.0l-4.0 -4.0zM536.4 710.6l4.0 4.0l-4.0 4.0l-4.0 -4.0zM537.0 712.4l4.0 4.0l-4.0 4.0l-4.0 -4.0zM537.6 717.0l4.0 4.0l-4.0 4.0l-4.0 -4.0zM538.3 715.2l4.0 4.0l-4.0 4.0l-4.0 -4.0zM538.9 715.9l4.0 4.0l-4.0 4.0l-4.0 -4.0zM539.6 710.9l4.0 4.0l-4.0 4.0l-4.0 -4.0zM540.2 709.2l4.0 4.0l-4.0 4.0l-4.0 -4.0zM540.8 711.9l4.0 4.0l-4.0 4.0l-4.0 -4.0zM541.5 717.7l4.0 4.0l-4.0 4.0l-4.0 -4.0zM542.1 720.2l4.0 4.0l-4.0 4.0l-4.0 -4.0zM542.7 720.7l4.0 4.0l-4.0 4.0l-4.0 -4.0zM543.4 721.8l4.0 4.0l-4.0 4.0l-4.0 -4.0zM544.0 714.6l4.0 4.0l-4.0 4.0l-4.0 -4.0zM544.6 717.1l4.0 4.0l-4.0 4.0l-4.0 -4.0zM545.3 721.2l4.0 4.0l-4.0 4.0l-4.0 -4.0zM545.9 716.1l4.0 4.0l-4.0 4.0l-4.0 -4.0zM546.5 723.0l4.0 4.0l-4.0 4.0l-4.0 -4.0zM547.2 723.2l4.0 4.0l-4.0 4.0l-4.0 -4.0zM547.8 722.4l4.0 4.0l-4.0 4.0l-4.0 -4.0zM548.4 722.3l4.0 4.0l-4.0 4.0l-4.0 -4.0zM549.1 718.2l4.0 4.0l-4.0 4.0l-4.0 -4.0zM549.7 724.4l4.0 4.0l-4.0 4.0l-4.0 -4.0zM550.3 719.8l4.0 4.0l-4.0 4.0l-4.0 -4.0zM551.0 727.0l4.0 4.0l-4.0 4.0l-4.0 -4.0zM551.6 719.9l4.0 4.0l-4.0 4.0l-4.0 -4.0zM552.2 720.2l4.0 4.0l-4.0 4.0l-4.0 -4.0zM552.9 721.4l4.0 4.0l-4.0 4.0l-4.0 -4.0zM553.5 723.0l4.0 4.0l-4.0 4.0l-4.0 -4.0zM554.2 724.3l4.0 4.0l-4.0 4.0l-4.0 -4.0zM554.8 729.9l4.0 4.0l-4.0 4.0l-4.0 -4.0zM555.4 728.4l4.0 4.0l-4.0 4.0l-4.0 -4.0zM556.1 731.5l4.0 4.0l-4.0 4.0l-4.0 -4.0zM556.7 725.7l4.0 4.0l-4.0 4.0l-4.0 -4.0zM557.3 727.9l4.0 4.0l-4.0 4.0l-4.0 -4.0zM558.0 731.5l4.0 4.0l-4.0 4.0l-4.0 -4.0zM558.6 725.6l4.0 4.0l-4.0 4.0l-4.0 -4.0zM559.2 731.2l4.0 4.0l-4.0 4.0l-4.0 -4.0zM559.9 729.6l4.0 4.0l-4.0 4.0l-4.0 -4.0zM560.5 734.0l4.0 4.0l-4.0 4.0l-4.0 -4.0zM561.1 734.8l4.0 4.0l-4.0 4.0l-4.0 -4.0zM561.8 727.0l4.0 4.0l-4.0 4.0l-4.0 -4.0zM562.4 728.9l4.0 4.0l-4.0 4.0l-4.0 -4.0zM563.0 733.3l4.0 4.0l-4.0 4.0l-4.0 -4.0zM563.7 729.5l4.0 4.0l-4.0 4.0l-4.0 -4.0zM564.3 733.1l4.0 4.0l-4.0 4.0l-4.0 -4.0zM564.9 732.7l4.0 4.0l-4.0 4.0l-4.0 -4.0zM565.6 729.2l4.0 4.0l-4.0 4.0l-4.0 -4.0zM566.2 733.1l4.0 4.0l-4.0 4.0l-4.0 -4.0zM566.8 734.9l4.0 4.0l-4.0 4.0l-4.0 -4.0zM567.5 731.1l4.0 4.0l-4.0 4.0l-4.0 -4.0zM568.1 738.1l4.0 4.0l-4.0 4.0l-4.0 -4.0zM568.8 734.4l4.0 4.0l-4.0 4.0l-4.0 -4.0zM569.4 734.8l4.0 4.0l-4.0 4.0l-4.0 -4.0zM570.0 738.0l4.0 4.0l-4.0 4.0l-4.0 -4.0zM570.7 743.3l4.0 4.0l-4.0 4.0l-4.0 -4.0zM571.3 740.6l4.0 4.0l-4.0 4.0l-4.0 -4.0zM571.9 746.3l4.0 4.0l-4.0 4.0l-4.0 -4.0zM572.6 746.4l4.0 4.0l-4.0 4.0l-4.0 -4.0zM573.2 746.1l4.0 4.0l-4.0 4.0l-4.0 -4.0zM573.8 755.0l4.0 4.0l-4.0 4.0l-4.0 -4.0zM574.5 763.5l4.0 4.0l-4.0 4.0l-4.0 -4.0zM575.1 766.2l4.0 4.0l-4.0 4.0l-4.0 -4.0z" fill="#4f81bd"/>
<text x="353.6" y="845.4" font-size="26.5" font-weight="normal" text-anchor="middle" >0</text>
<text x="428.8" y="845.4" font-size="26.5" font-weight="normal" text-anchor="middle" >120</text>
<text x="503.9" y="845.4" font-size="26.5" font-weight="normal" text-anchor="middle" >240</text>
<text x="559.6" y="845.4" font-size="26.5" font-weight="normal" text-anchor="start" >36</text>
<text x="459.5" y="884.4" font-size="26.5" font-weight="bold" text-anchor="middle" >Degree</text>
<path d="M414.7 614.3h4.6v3.8h-4.6z" fill="none" stroke="#c0504d" stroke-width="1.6"/>
<path d="M417.0 644.4l4.0 4.0l-4.0 4.0l-4.0 -4.0z" fill="#4f81bd"/>
<text x="429.5" y="626.7" font-size="26.5" font-weight="normal" text-anchor="start" >N=&#160;&#160;0</text>
<text x="429.5" y="658.9" font-size="26.5" font-weight="normal" text-anchor="start" >N=20</text>
<path d="M635.7,602.7H873.4V798.9H635.7Z" fill="none" stroke="#000" stroke-width="1.8"/>
<path d="M627.7,602.7H635.7M627.7,642.0H635.7M627.7,680.8H635.7M627.7,720.2H635.7M627.7,759.5H635.7M627.7,798.9H635.7M635.7,798.9V806.4M655.5,798.9V804.4M675.3,798.9V804.4M695.1,798.9V804.4M714.9,798.9V806.4M734.7,798.9V804.4M754.5,798.9V804.4M774.4,798.9V804.4M794.2,798.9V806.4M814.0,798.9V804.4M833.8,798.9V804.4M853.6,798.9V804.4M873.4,798.9V806.4" fill="none" stroke="#000" stroke-width="1.4"/>
<path d="M640.5 745.2h4.6v3.8h-4.6zM641.2 741.0h4.6v3.8h-4.6zM641.8 736.8h4.6v3.8h-4.6zM642.5 730.2h4.6v3.8h-4.6zM643.1 728.6h4.6v3.8h-4.6zM643.8 726.9h4.6v3.8h-4.6zM644.5 722.9h4.6v3.8h-4.6zM645.1 721.0h4.6v3.8h-4.6zM645.8 716.3h4.6v3.8h-4.6zM646.5 716.5h4.6v3.8h-4.6zM647.1 715.0h4.6v3.8h-4.6zM647.8 710.5h4.6v3.8h-4.6zM648.4 709.1h4.6v3.8h-4.6zM649.1 709.5h4.6v3.8h-4.6zM649.8 709.1h4.6v3.8h-4.6zM650.4 709.0h4.6v3.8h-4.6zM651.1 704.0h4.6v3.8h-4.6zM651.8 707.0h4.6v3.8h-4.6zM652.4 705.6h4.6v3.8h-4.6zM653.1 706.1h4.6v3.8h-4.6zM653.7 704.0h4.6v3.8h-4.6zM654.4 711.2h4.6v3.8h-4.6zM655.1 709.5h4.6v3.8h-4.6zM655.7 711.1h4.6v3.8h-4.6zM656.4 716.5h4.6v3.8h-4.6zM657.0 716.8h4.6v3.8h-4.6zM657.7 719.6h4.6v3.8h-4.6zM658.4 721.4h4.6v3.8h-4.6zM659.0 723.5h4.6v3.8h-4.6zM659.7 724.3h4.6v3.8h-4.6zM660.4 727.1h4.6v3.8h-4.6zM661.0 725.8h4.6v3.8h-4.6zM661.7 726.0h4.6v3.8h-4.6zM662.3 731.0h4.6v3.8h-4.6zM663.0 732.2h4.6v3.8h-4.6zM663.7 729.5h4.6v3.8h-4.6zM664.3 732.4h4.6v3.8h-4.6zM665.0 733.5h4.6v3.8h-4.6zM665.7 730.6h4.6v3.8h-4.6zM666.3 731.0h4.6v3.8h-4.6zM667.0 732.0h4.6v3.8h-4.6zM667.6 732.9h4.6v3.8h-4.6zM668.3 731.5h4.6v3.8h-4.6zM669.0 733.6h4.6v3.8h-4.6zM669.6 733.3h4.6v3.8h-4.6zM670.3 730.4h4.6v3.8h-4.6zM670.9 728.0h4.6v3.8h-4.6zM671.6 725.6h4.6v3.8h-4.6zM672.3 727.6h4.6v3.8h-4.6zM672.9 726.2h4.6v3.8h-4.6zM673.6 722.9h4.6v3.8h-4.6zM674.3 721.3h4.6v3.8h-4.6zM674.9 719.1h4.6v3.8h-4.6zM675.6 717.3h4.6v3.8h-4.6zM676.2 714.5h4.6v3.8h-4.6zM676.9 712.2h4.6v3.8h-4.6zM677.6 709.6h4.6v3.8h-4.6zM678.2 704.7h4.6v3.8h-4.6zM678.9 702.2h4.6v3.8h-4.6zM679.6 696.8h4.6v3.8h-4.6zM680.2 695.9h4.6v3.8h-4.6zM680.9 694.7h4.6v3.8h-4.6zM681.5 691.7h4.6v3.8h-4.6zM682.2 685.8h4.6v3.8h-4.6zM682.9 677.0h4.6v3.8h-4.6zM683.5 673.1h4.6v3.8h-4.6zM684.2 671.9h4.6v3.8h-4.6zM684.9 670.6h4.6v3.8h-4.6zM685.5 662.4h4.6v3.8h-4.6zM686.2 662.4h4.6v3.8h-4.6zM686.8 655.5h4.6v3.8h-4.6zM687.5 656.8h4.6v3.8h-4.6zM688.2 655.6h4.6v3.8h-4.6zM688.8 651.2h4.6v3.8h-4.6zM689.5 650.7h4.6v3.8h-4.6zM690.1 648.7h4.6v3.8h-4.6zM690.8 648.4h4.6v3.8h-4.6zM691.5 649.1h4.6v3.8h-4.6zM692.1 652.0h4.6v3.8h-4.6zM692.8 650.9h4.6v3.8h-4.6zM693.5 654.2h4.6v3.8h-4.6zM694.1 660.9h4.6v3.8h-4.6zM694.8 660.0h4.6v3.8h-4.6zM695.4 663.8h4.6v3.8h-4.6zM696.1 667.4h4.6v3.8h-4.6zM696.8 675.1h4.6v3.8h-4.6zM697.4 676.8h4.6v3.8h-4.6zM698.1 680.4h4.6v3.8h-4.6zM698.8 684.0h4.6v3.8h-4.6zM699.4 692.2h4.6v3.8h-4.6zM700.1 695.5h4.6v3.8h-4.6zM700.7 696.3h4.6v3.8h-4.6zM701.4 701.2h4.6v3.8h-4.6zM702.1 702.9h4.6v3.8h-4.6zM702.7 709.2h4.6v3.8h-4.6zM703.4 712.5h4.6v3.8h-4.6zM704.0 713.8h4.6v3.8h-4.6zM704.7 718.2h4.6v3.8h-4.6zM705.4 724.5h4.6v3.8h-4.6zM706.0 727.6h4.6v3.8h-4.6zM706.7 727.2h4.6v3.8h-4.6zM707.4 729.2h4.6v3.8h-4.6zM708.0 730.1h4.6v3.8h-4.6zM708.7 732.1h4.6v3.8h-4.6zM709.3 732.8h4.6v3.8h-4.6zM710.0 737.5h4.6v3.8h-4.6zM710.7 736.5h4.6v3.8h-4.6zM711.3 739.9h4.6v3.8h-4.6zM712.0 742.5h4.6v3.8h-4.6zM712.7 738.7h4.6v3.8h-4.6zM713.3 740.5h4.6v3.8h-4.6zM714.0 738.5h4.6v3.8h-4.6zM714.6 737.2h4.6v3.8h-4.6zM715.3 733.8h4.6v3.8h-4.6zM716.0 734.7h4.6v3.8h-4.6zM716.6 732.7h4.6v3.8h-4.6zM717.3 731.9h4.6v3.8h-4.6zM717.9 730.5h4.6v3.8h-4.6zM718.6 728.6h4.6v3.8h-4.6zM719.3 728.9h4.6v3.8h-4.6zM719.9 726.3h4.6v3.8h-4.6zM720.6 727.9h4.6v3.8h-4.6zM721.3 721.9h4.6v3.8h-4.6zM721.9 724.2h4.6v3.8h-4.6zM722.6 719.0h4.6v3.8h-4.6zM723.2 717.9h4.6v3.8h-4.6zM723.9 715.6h4.6v3.8h-4.6zM724.6 716.8h4.6v3.8h-4.6zM725.2 715.5h4.6v3.8h-4.6zM725.9 716.5h4.6v3.8h-4.6zM726.6 714.6h4.6v3.8h-4.6zM727.2 714.5h4.6v3.8h-4.6zM727.9 714.6h4.6v3.8h-4.6zM728.5 710.8h4.6v3.8h-4.6zM729.2 710.0h4.6v3.8h-4.6zM729.9 709.2h4.6v3.8h-4.6zM730.5 708.6h4.6v3.8h-4.6zM731.2 711.5h4.6v3.8h-4.6zM731.8 708.5h4.6v3.8h-4.6zM732.5 706.6h4.6v3.8h-4.6zM733.2 709.5h4.6v3.8h-4.6zM733.8 710.7h4.6v3.8h-4.6zM734.5 716.7h4.6v3.8h-4.6zM735.2 719.3h4.6v3.8h-4.6zM735.8 720.2h4.6v3.8h-4.6zM736.5 722.1h4.6v3.8h-4.6zM737.1 722.3h4.6v3.8h-4.6zM737.8 722.4h4.6v3.8h-4.6zM738.5 729.5h4.6v3.8h-4.6zM739.1 729.9h4.6v3.8h-4.6zM739.8 729.7h4.6v3.8h-4.6zM740.5 734.8h4.6v3.8h-4.6zM741.1 736.5h4.6v3.8h-4.6zM741.8 737.4h4.6v3.8h-4.6zM742.4 740.0h4.6v3.8h-4.6zM743.1 740.2h4.6v3.8h-4.6zM743.8 738.2h4.6v3.8h-4.6zM744.4 739.0h4.6v3.8h-4.6zM745.1 740.8h4.6v3.8h-4.6zM745.7 741.5h4.6v3.8h-4.6zM746.4 740.2h4.6v3.8h-4.6zM747.1 745.0h4.6v3.8h-4.6zM747.7 743.1h4.6v3.8h-4.6zM748.4 745.3h4.6v3.8h-4.6zM749.1 741.6h4.6v3.8h-4.6zM749.7 742.6h4.6v3.8h-4.6zM750.4 744.0h4.6v3.8h-4.6zM751.0 743.5h4.6v3.8h-4.6zM751.7 739.8h4.6v3.8h-4.6zM752.4 741.7h4.6v3.8h-4.6zM753.0 736.9h4.6v3.8h-4.6zM753.7 735.8h4.6v3.8h-4.6zM754.4 739.2h4.6v3.8h-4.6zM755.0 736.4h4.6v3.8h-4.6zM755.7 735.2h4.6v3.8h-4.6zM756.3 736.1h4.6v3.8h-4.6zM757.0 733.7h4.6v3.8h-4.6zM757.7 734.2h4.6v3.8h-4.6zM758.3 732.6h4.6v3.8h-4.6zM759.0 730.6h4.6v3.8h-4.6zM759.7 728.5h4.6v3.8h-4.6zM760.3 727.5h4.6v3.8h-4.6zM761.0 725.1h4.6v3.8h-4.6zM761.6 721.7h4.6v3.8h-4.6zM762.3 723.1h4.6v3.8h-4.6zM763.0 718.1h4.6v3.8h-4.6zM763.6 718.6h4.6v3.8h-4.6zM764.3 714.9h4.6v3.8h-4.6zM764.9 710.1h4.6v3.8h-4.6zM765.6 711.5h4.6v3.8h-4.6zM766.3 706.8h4.6v3.8h-4.6zM766.9 705.1h4.6v3.8h-4.6zM767.6 704.6h4.6v3.8h-4.6zM768.3 700.6h4.6v3.8h-4.6zM768.9 703.8h4.6v3.8h-4.6zM769.6 702.9h4.6v3.8h-4.6zM770.2 707.7h4.6v3.8h-4.6zM770.9 709.6h4.6v3.8h-4.6zM771.6 707.7h4.6v3.8h-4.6zM772.2 709.0h4.6v3.8h-4.6zM772.9 713.3h4.6v3.8h-4.6zM773.6 713.6h4.6v3.8h-4.6zM774.2 717.6h4.6v3.8h-4.6zM774.9 714.1h4.6v3.8h-4.6zM775.5 718.5h4.6v3.8h-4.6zM776.2 722.5h4.6v3.8h-4.6zM776.9 722.1h4.6v3.8h-4.6zM777.5 723.6h4.6v3.8h-4.6zM778.2 725.8h4.6v3.8h-4.6zM778.8 728.5h4.6v3.8h-4.6zM779.5 728.7h4.6v3.8h-4.6zM780.2 732.1h4.6v3.8h-4.6zM780.8 734.4h4.6v3.8h-4.6zM781.5 732.2h4.6v3.8h-4.6zM782.2 733.7h4.6v3.8h-4.6zM782.8 734.5h4.6v3.8h-4.6zM783.5 737.7h4.6v3.8h-4.6zM784.1 732.9h4.6v3.8h-4.6zM784.8 736.2h4.6v3.8h-4.6zM785.5 731.6h4.6v3.8h-4.6zM786.1 733.1h4.6v3.8h-4.6zM786.8 735.9h4.6v3.8h-4.6zM787.5 734.5h4.6v3.8h-4.6zM788.1 730.6h4.6v3.8h-4.6zM788.8 728.0h4.6v3.8h-4.6zM789.4 728.3h4.6v3.8h-4.6zM790.1 726.8h4.6v3.8h-4.6zM790.8 728.3h4.6v3.8h-4.6zM791.4 724.5h4.6v3.8h-4.6zM792.1 720.0h4.6v3.8h-4.6zM792.7 723.1h4.6v3.8h-4.6zM793.4 721.3h4.6v3.8h-4.6zM794.1 715.6h4.6v3.8h-4.6zM794.7 714.3h4.6v3.8h-4.6zM795.4 710.6h4.6v3.8h-4.6zM796.1 708.0h4.6v3.8h-4.6zM796.7 705.9h4.6v3.8h-4.6zM797.4 703.3h4.6v3.8h-4.6zM798.0 694.1h4.6v3.8h-4.6zM798.7 693.1h4.6v3.8h-4.6zM799.4 689.3h4.6v3.8h-4.6zM800.0 683.6h4.6v3.8h-4.6zM800.7 679.7h4.6v3.8h-4.6zM801.4 675.9h4.6v3.8h-4.6zM802.0 667.0h4.6v3.8h-4.6zM802.7 661.5h4.6v3.8h-4.6zM803.3 654.8h4.6v3.8h-4.6zM804.0 653.9h4.6v3.8h-4.6zM804.7 650.9h4.6v3.8h-4.6zM805.3 643.3h4.6v3.8h-4.6zM806.0 638.7h4.6v3.8h-4.6zM806.6 631.5h4.6v3.8h-4.6zM807.3 623.9h4.6v3.8h-4.6zM808.0 614.8h4.6v3.8h-4.6zM808.6 614.1h4.6v3.8h-4.6zM809.3 611.4h4.6v3.8h-4.6zM810.0 608.9h4.6v3.8h-4.6zM810.6 615.3h4.6v3.8h-4.6zM811.3 615.5h4.6v3.8h-4.6zM811.9 616.9h4.6v3.8h-4.6zM812.6 622.6h4.6v3.8h-4.6zM813.3 623.0h4.6v3.8h-4.6zM813.9 627.3h4.6v3.8h-4.6zM814.6 639.8h4.6v3.8h-4.6zM815.3 649.7h4.6v3.8h-4.6zM815.9 656.4h4.6v3.8h-4.6zM816.6 664.7h4.6v3.8h-4.6zM817.2 668.6h4.6v3.8h-4.6zM817.9 672.8h4.6v3.8h-4.6zM818.6 674.7h4.6v3.8h-4.6zM819.2 679.0h4.6v3.8h-4.6zM819.9 682.5h4.6v3.8h-4.6zM820.5 686.0h4.6v3.8h-4.6zM821.2 694.2h4.6v3.8h-4.6zM821.9 698.9h4.6v3.8h-4.6zM822.5 705.1h4.6v3.8h-4.6zM823.2 710.9h4.6v3.8h-4.6zM823.9 716.3h4.6v3.8h-4.6zM824.5 715.2h4.6v3.8h-4.6zM825.2 720.6h4.6v3.8h-4.6zM825.8 724.4h4.6v3.8h-4.6zM826.5 724.3h4.6v3.8h-4.6zM827.2 727.7h4.6v3.8h-4.6zM827.8 725.7h4.6v3.8h-4.6zM828.5 727.8h4.6v3.8h-4.6zM829.2 732.2h4.6v3.8h-4.6zM829.8 733.7h4.6v3.8h-4.6zM830.5 732.8h4.6v3.8h-4.6zM831.1 732.2h4.6v3.8h-4.6zM831.8 735.1h4.6v3.8h-4.6zM832.5 734.2h4.6v3.8h-4.6zM833.1 734.7h4.6v3.8h-4.6zM833.8 735.3h4.6v3.8h-4.6zM834.5 735.2h4.6v3.8h-4.6zM835.1 735.9h4.6v3.8h-4.6zM835.8 735.0h4.6v3.8h-4.6zM836.4 734.5h4.6v3.8h-4.6zM837.1 730.3h4.6v3.8h-4.6zM837.8 729.8h4.6v3.8h-4.6zM838.4 729.2h4.6v3.8h-4.6zM839.1 729.7h4.6v3.8h-4.6zM839.7 730.7h4.6v3.8h-4.6zM840.4 726.9h4.6v3.8h-4.6zM841.1 725.5h4.6v3.8h-4.6zM841.7 726.3h4.6v3.8h-4.6zM842.4 719.5h4.6v3.8h-4.6zM843.1 721.5h4.6v3.8h-4.6zM843.7 716.8h4.6v3.8h-4.6zM844.4 712.1h4.6v3.8h-4.6zM845.0 710.0h4.6v3.8h-4.6zM845.7 710.1h4.6v3.8h-4.6zM846.4 707.0h4.6v3.8h-4.6zM847.0 705.7h4.6v3.8h-4.6zM847.7 704.6h4.6v3.8h-4.6zM848.4 704.8h4.6v3.8h-4.6zM849.0 701.4h4.6v3.8h-4.6zM849.7 704.7h4.6v3.8h-4.6zM850.3 705.6h4.6v3.8h-4.6zM851.0 704.0h4.6v3.8h-4.6zM851.7 704.0h4.6v3.8h-4.6zM852.3 703.7h4.6v3.8h-4.6zM853.0 707.0h4.6v3.8h-4.6zM853.6 709.7h4.6v3.8h-4.6zM854.3 710.3h4.6v3.8h-4.6zM855.0 713.1h4.6v3.8h-4.6zM855.6 716.4h4.6v3.8h-4.6zM856.3 716.3h4.6v3.8h-4.6zM857.0 723.3h4.6v3.8h-4.6zM857.6 722.8h4.6v3.8h-4.6zM858.3 725.5h4.6v3.8h-4.6zM858.9 727.1h4.6v3.8h-4.6zM859.6 729.3h4.6v3.8h-4.6zM860.3 731.0h4.6v3.8h-4.6zM860.9 729.3h4.6v3.8h-4.6zM861.6 729.9h4.6v3.8h-4.6zM862.3 735.3h4.6v3.8h-4.6zM862.9 737.2h4.6v3.8h-4.6zM863.6 740.2h4.6v3.8h-4.6zM864.2 745.7h4.6v3.8h-4.6zM864.9 762.5h4.6v3.8h-4.6z" fill="none" stroke="#c0504d" stroke-width="1.6"/>
<path d="M642.8 777.9l4.0 4.0l-4.0 4.0l-4.0 -4.0zM643.5 779.5l4.0 4.0l-4.0 4.0l-4.0 -4.0zM644.1 778.5l4.0 4.0l-4.0 4.0l-4.0 -4.0zM644.8 773.5l4.0 4.0l-4.0 4.0l-4.0 -4.0zM645.5 777.7l4.0 4.0l-4.0 4.0l-4.0 -4.0zM646.1 771.2l4.0 4.0l-4.0 4.0l-4.0 -4.0zM646.8 772.4l4.0 4.0l-4.0 4.0l-4.0 -4.0zM647.4 776.4l4.0 4.0l-4.0 4.0l-4.0 -4.0zM648.1 773.9l4.0 4.0l-4.0 4.0l-4.0 -4.0zM648.8 773.7l4.0 4.0l-4.0 4.0l-4.0 -4.0zM649.4 773.2l4.0 4.0l-4.0 4.0l-4.0 -4.0zM650.1 771.5l4.0 4.0l-4.0 4.0l-4.0 -4.0zM650.8 768.5l4.0 4.0l-4.0 4.0l-4.0 -4.0zM651.4 769.2l4.0 4.0l-4.0 4.0l-4.0 -4.0zM652.1 768.4l4.0 4.0l-4.0 4.0l-4.0 -4.0zM652.7 768.0l4.0 4.0l-4.0 4.0l-4.0 -4.0zM653.4 766.7l4.0 4.0l-4.0 4.0l-4.0 -4.0zM654.1 765.9l4.0 4.0l-4.0 4.0l-4.0 -4.0zM654.7 759.5l4.0 4.0l-4.0 4.0l-4.0 -4.0zM655.4 758.4l4.0 4.0l-4.0 4.0l-4.0 -4.0zM656.1 759.1l4.0 4.0l-4.0 4.0l-4.0 -4.0zM656.7 758.4l4.0 4.0l-4.0 4.0l-4.0 -4.0zM657.4 758.9l4.0 4.0l-4.0 4.0l-4.0 -4.0zM658.0 755.7l4.0 4.0l-4.0 4.0l-4.0 -4.0zM658.7 758.1l4.0 4.0l-4.0 4.0l-4.0 -4.0zM659.4 759.4l4.0 4.0l-4.0 4.0l-4.0 -4.0zM660.0 755.6l4.0 4.0l-4.0 4.0l-4.0 -4.0zM660.7 757.7l4.0 4.0l-4.0 4.0l-4.0 -4.0zM661.4 755.5l4.0 4.0l-4.0 4.0l-4.0 -4.0zM662.0 759.5l4.0 4.0l-4.0 4.0l-4.0 -4.0zM662.7 753.4l4.0 4.0l-4.0 4.0l-4.0 -4.0zM663.3 753.7l4.0 4.0l-4.0 4.0l-4.0 -4.0zM664.0 760.6l4.0 4.0l-4.0 4.0l-4.0 -4.0zM664.7 760.0l4.0 4.0l-4.0 4.0l-4.0 -4.0zM665.3 759.0l4.0 4.0l-4.0 4.0l-4.0 -4.0zM666.0 760.1l4.0 4.0l-4.0 4.0l-4.0 -4.0zM666.7 763.1l4.0 4.0l-4.0 4.0l-4.0 -4.0zM667.3 760.1l4.0 4.0l-4.0 4.0l-4.0 -4.0zM668.0 765.8l4.0 4.0l-4.0 4.0l-4.0 -4.0zM668.7 766.1l4.0 4.0l-4.0 4.0l-4.0 -4.0zM669.3 761.8l4.0 4.0l-4.0 4.0l-4.0 -4.0zM670.0 761.1l4.0 4.0l-4.0 4.0l-4.0 -4.0zM670.6 762.0l4.0 4.0l-4.0 4.0l-4.0 -4.0zM671.3 767.8l4.0 4.0l-4.0 4.0l-4.0 -4.0zM672.0 762.1l4.0 4.0l-4.0 4.0l-4.0 -4.0zM672.6 764.9l4.0 4.0l-4.0 4.0l-4.0 -4.0zM673.3 763.1l4.0 4.0l-4.0 4.0l-4.0 -4.0zM674.0 767.2l4.0 4.0l-4.0 4.0l-4.0 -4.0zM674.6 767.3l4.0 4.0l-4.0 4.0l-4.0 -4.0zM675.3 766.0l4.0 4.0l-4.0 4.0l-4.0 -4.0zM675.9 763.6l4.0 4.0l-4.0 4.0l-4.0 -4.0zM676.6 760.8l4.0 4.0l-4.0 4.0l-4.0 -4.0zM677.3 762.4l4.0 4.0l-4.0 4.0l-4.0 -4.0zM677.9 760.4l4.0 4.0l-4.0 4.0l-4.0 -4.0zM678.6 758.8l4.0 4.0l-4.0 4.0l-4.0 -4.0zM679.3 764.1l4.0 4.0l-4.0 4.0l-4.0 -4.0zM679.9 759.9l4.0 4.0l-4.0 4.0l-4.0 -4.0zM680.6 763.3l4.0 4.0l-4.0 4.0l-4.0 -4.0zM681.2 756.6l4.0 4.0l-4.0 4.0l-4.0 -4.0zM681.9 758.9l4.0 4.0l-4.0 4.0l-4.0 -4.0zM682.6 757.8l4.0 4.0l-4.0 4.0l-4.0 -4.0zM683.2 759.4l4.0 4.0l-4.0 4.0l-4.0 -4.0zM683.9 757.3l4.0 4.0l-4.0 4.0l-4.0 -4.0zM684.6 758.9l4.0 4.0l-4.0 4.0l-4.0 -4.0zM685.2 753.4l4.0 4.0l-4.0 4.0l-4.0 -4.0zM685.9 749.7l4.0 4.0l-4.0 4.0l-4.0 -4.0zM686.5 753.2l4.0 4.0l-4.0 4.0l-4.0 -4.0zM687.2 750.0l4.0 4.0l-4.0 4.0l-4.0 -4.0zM687.9 752.1l4.0 4.0l-4.0 4.0l-4.0 -4.0zM688.5 749.6l4.0 4.0l-4.0 4.0l-4.0 -4.0zM689.2 745.1l4.0 4.0l-4.0 4.0l-4.0 -4.0zM689.9 748.5l4.0 4.0l-4.0 4.0l-4.0 -4.0zM690.5 740.9l4.0 4.0l-4.0 4.0l-4.0 -4.0zM691.2 742.6l4.0 4.0l-4.0 4.0l-4.0 -4.0zM691.8 739.7l4.0 4.0l-4.0 4.0l-4.0 -4.0zM692.5 740.0l4.0 4.0l-4.0 4.0l-4.0 -4.0zM693.2 739.4l4.0 4.0l-4.0 4.0l-4.0 -4.0zM693.8 736.2l4.0 4.0l-4.0 4.0l-4.0 -4.0zM694.5 738.0l4.0 4.0l-4.0 4.0l-4.0 -4.0zM695.2 735.2l4.0 4.0l-4.0 4.0l-4.0 -4.0zM695.8 730.6l4.0 4.0l-4.0 4.0l-4.0 -4.0zM696.5 731.8l4.0 4.0l-4.0 4.0l-4.0 -4.0zM697.2 727.2l4.0 4.0l-4.0 4.0l-4.0 -4.0zM697.8 728.1l4.0 4.0l-4.0 4.0l-4.0 -4.0zM698.5 729.7l4.0 4.0l-4.0 4.0l-4.0 -4.0zM699.1 726.2l4.0 4.0l-4.0 4.0l-4.0 -4.0zM699.8 733.4l4.0 4.0l-4.0 4.0l-4.0 -4.0zM700.5 733.9l4.0 4.0l-4.0 4.0l-4.0 -4.0zM701.1 732.2l4.0 4.0l-4.0 4.0l-4.0 -4.0zM701.8 733.6l4.0 4.0l-4.0 4.0l-4.0 -4.0zM702.5 740.2l4.0 4.0l-4.0 4.0l-4.0 -4.0zM703.1 735.8l4.0 4.0l-4.0 4.0l-4.0 -4.0zM703.8 743.7l4.0 4.0l-4.0 4.0l-4.0 -4.0zM704.4 741.2l4.0 4.0l-4.0 4.0l-4.0 -4.0zM705.1 741.8l4.0 4.0l-4.0 4.0l-4.0 -4.0zM705.8 746.1l4.0 4.0l-4.0 4.0l-4.0 -4.0zM706.4 752.7l4.0 4.0l-4.0 4.0l-4.0 -4.0zM707.1 749.1l4.0 4.0l-4.0 4.0l-4.0 -4.0zM707.8 753.2l4.0 4.0l-4.0 4.0l-4.0 -4.0zM708.4 756.4l4.0 4.0l-4.0 4.0l-4.0 -4.0zM709.1 755.1l4.0 4.0l-4.0 4.0l-4.0 -4.0zM709.7 759.6l4.0 4.0l-4.0 4.0l-4.0 -4.0zM710.4 759.3l4.0 4.0l-4.0 4.0l-4.0 -4.0zM711.1 761.9l4.0 4.0l-4.0 4.0l-4.0 -4.0zM711.7 760.1l4.0 4.0l-4.0 4.0l-4.0 -4.0zM712.4 762.5l4.0 4.0l-4.0 4.0l-4.0 -4.0zM713.1 764.5l4.0 4.0l-4.0 4.0l-4.0 -4.0zM713.7 766.7l4.0 4.0l-4.0 4.0l-4.0 -4.0zM714.4 768.3l4.0 4.0l-4.0 4.0l-4.0 -4.0zM715.0 765.6l4.0 4.0l-4.0 4.0l-4.0 -4.0zM715.7 765.6l4.0 4.0l-4.0 4.0l-4.0 -4.0zM716.4 764.8l4.0 4.0l-4.0 4.0l-4.0 -4.0zM717.0 770.7l4.0 4.0l-4.0 4.0l-4.0 -4.0zM717.7 768.8l4.0 4.0l-4.0 4.0l-4.0 -4.0zM718.4 767.2l4.0 4.0l-4.0 4.0l-4.0 -4.0zM719.0 771.9l4.0 4.0l-4.0 4.0l-4.0 -4.0zM719.7 772.5l4.0 4.0l-4.0 4.0l-4.0 -4.0zM720.4 773.2l4.0 4.0l-4.0 4.0l-4.0 -4.0zM721.0 774.1l4.0 4.0l-4.0 4.0l-4.0 -4.0zM721.7 769.1l4.0 4.0l-4.0 4.0l-4.0 -4.0zM722.3 772.2l4.0 4.0l-4.0 4.0l-4.0 -4.0zM723.0 767.1l4.0 4.0l-4.0 4.0l-4.0 -4.0zM723.7 769.4l4.0 4.0l-4.0 4.0l-4.0 -4.0zM724.3 770.0l4.0 4.0l-4.0 4.0l-4.0 -4.0zM725.0 765.5l4.0 4.0l-4.0 4.0l-4.0 -4.0zM725.7 764.6l4.0 4.0l-4.0 4.0l-4.0 -4.0zM726.3 767.5l4.0 4.0l-4.0 4.0l-4.0 -4.0zM727.0 768.4l4.0 4.0l-4.0 4.0l-4.0 -4.0zM727.6 766.0l4.0 4.0l-4.0 4.0l-4.0 -4.0zM728.3 764.5l4.0 4.0l-4.0 4.0l-4.0 -4.0zM729.0 767.7l4.0 4.0l-4.0 4.0l-4.0 -4.0zM729.6 762.2l4.0 4.0l-4.0 4.0l-4.0 -4.0zM730.3 766.2l4.0 4.0l-4.0 4.0l-4.0 -4.0zM731.0 766.6l4.0 4.0l-4.0 4.0l-4.0 -4.0zM731.6 764.8l4.0 4.0l-4.0 4.0l-4.0 -4.0zM732.3 763.4l4.0 4.0l-4.0 4.0l-4.0 -4.0zM732.9 758.8l4.0 4.0l-4.0 4.0l-4.0 -4.0zM733.6 762.5l4.0 4.0l-4.0 4.0l-4.0 -4.0zM734.3 758.6l4.0 4.0l-4.0 4.0l-4.0 -4.0zM734.9 760.4l4.0 4.0l-4.0 4.0l-4.0 -4.0zM735.6 757.3l4.0 4.0l-4.0 4.0l-4.0 -4.0zM736.3 756.2l4.0 4.0l-4.0 4.0l-4.0 -4.0zM736.9 759.0l4.0 4.0l-4.0 4.0l-4.0 -4.0zM737.6 759.3l4.0 4.0l-4.0 4.0l-4.0 -4.0zM738.2 758.4l4.0 4.0l-4.0 4.0l-4.0 -4.0zM738.9 760.1l4.0 4.0l-4.0 4.0l-4.0 -4.0zM739.6 754.4l4.0 4.0l-4.0 4.0l-4.0 -4.0zM740.2 756.1l4.0 4.0l-4.0 4.0l-4.0 -4.0zM740.9 756.1l4.0 4.0l-4.0 4.0l-4.0 -4.0zM741.6 760.6l4.0 4.0l-4.0 4.0l-4.0 -4.0zM742.2 757.3l4.0 4.0l-4.0 4.0l-4.0 -4.0zM742.9 758.5l4.0 4.0l-4.0 4.0l-4.0 -4.0zM743.6 763.1l4.0 4.0l-4.0 4.0l-4.0 -4.0zM744.2 761.5l4.0 4.0l-4.0 4.0l-4.0 -4.0zM744.9 761.3l4.0 4.0l-4.0 4.0l-4.0 -4.0zM745.5 761.9l4.0 4.0l-4.0 4.0l-4.0 -4.0zM746.2 767.1l4.0 4.0l-4.0 4.0l-4.0 -4.0zM746.9 761.8l4.0 4.0l-4.0 4.0l-4.0 -4.0zM747.5 762.4l4.0 4.0l-4.0 4.0l-4.0 -4.0zM748.2 766.1l4.0 4.0l-4.0 4.0l-4.0 -4.0zM748.9 768.3l4.0 4.0l-4.0 4.0l-4.0 -4.0zM749.5 768.6l4.0 4.0l-4.0 4.0l-4.0 -4.0zM750.2 768.7l4.0 4.0l-4.0 4.0l-4.0 -4.0zM750.8 767.1l4.0 4.0l-4.0 4.0l-4.0 -4.0zM751.5 773.6l4.0 4.0l-4.0 4.0l-4.0 -4.0zM752.2 774.0l4.0 4.0l-4.0 4.0l-4.0 -4.0zM752.8 774.8l4.0 4.0l-4.0 4.0l-4.0 -4.0zM753.5 771.6l4.0 4.0l-4.0 4.0l-4.0 -4.0zM754.2 772.0l4.0 4.0l-4.0 4.0l-4.0 -4.0zM754.8 774.6l4.0 4.0l-4.0 4.0l-4.0 -4.0zM755.5 771.7l4.0 4.0l-4.0 4.0l-4.0 -4.0zM756.1 771.6l4.0 4.0l-4.0 4.0l-4.0 -4.0zM756.8 769.6l4.0 4.0l-4.0 4.0l-4.0 -4.0zM757.5 771.6l4.0 4.0l-4.0 4.0l-4.0 -4.0zM758.1 768.7l4.0 4.0l-4.0 4.0l-4.0 -4.0zM758.8 768.2l4.0 4.0l-4.0 4.0l-4.0 -4.0zM759.5 770.5l4.0 4.0l-4.0 4.0l-4.0 -4.0zM760.1 773.1l4.0 4.0l-4.0 4.0l-4.0 -4.0zM760.8 772.5l4.0 4.0l-4.0 4.0l-4.0 -4.0zM761.4 770.3l4.0 4.0l-4.0 4.0l-4.0 -4.0zM762.1 764.8l4.0 4.0l-4.0 4.0l-4.0 -4.0zM762.8 763.9l4.0 4.0l-4.0 4.0l-4.0 -4.0zM763.4 768.9l4.0 4.0l-4.0 4.0l-4.0 -4.0zM764.1 764.9l4.0 4.0l-4.0 4.0l-4.0 -4.0zM764.8 763.7l4.0 4.0l-4.0 4.0l-4.0 -4.0zM765.4 769.5l4.0 4.0l-4.0 4.0l-4.0 -4.0zM766.1 761.8l4.0 4.0l-4.0 4.0l-4.0 -4.0zM766.7 763.7l4.0 4.0l-4.0 4.0l-4.0 -4.0zM767.4 766.5l4.0 4.0l-4.0 4.0l-4.0 -4.0zM768.1 760.6l4.0 4.0l-4.0 4.0l-4.0 -4.0zM768.7 760.4l4.0 4.0l-4.0 4.0l-4.0 -4.0zM769.4 762.2l4.0 4.0l-4.0 4.0l-4.0 -4.0zM770.1 765.0l4.0 4.0l-4.0 4.0l-4.0 -4.0zM770.7 761.1l4.0 4.0l-4.0 4.0l-4.0 -4.0zM771.4 757.9l4.0 4.0l-4.0 4.0l-4.0 -4.0zM772.1 760.6l4.0 4.0l-4.0 4.0l-4.0 -4.0zM772.7 757.4l4.0 4.0l-4.0 4.0l-4.0 -4.0zM773.4 755.4l4.0 4.0l-4.0 4.0l-4.0 -4.0zM774.0 760.0l4.0 4.0l-4.0 4.0l-4.0 -4.0zM774.7 761.5l4.0 4.0l-4.0 4.0l-4.0 -4.0zM775.4 759.0l4.0 4.0l-4.0 4.0l-4.0 -4.0zM776.0 759.1l4.0 4.0l-4.0 4.0l-4.0 -4.0zM776.7 753.3l4.0 4.0l-4.0 4.0l-4.0 -4.0zM777.4 753.4l4.0 4.0l-4.0 4.0l-4.0 -4.0zM778.0 754.1l4.0 4.0l-4.0 4.0l-4.0 -4.0zM778.7 758.0l4.0 4.0l-4.0 4.0l-4.0 -4.0zM779.3 755.9l4.0 4.0l-4.0 4.0l-4.0 -4.0zM780.0 759.8l4.0 4.0l-4.0 4.0l-4.0 -4.0zM780.7 754.2l4.0 4.0l-4.0 4.0l-4.0 -4.0zM781.3 759.1l4.0 4.0l-4.0 4.0l-4.0 -4.0zM782.0 758.7l4.0 4.0l-4.0 4.0l-4.0 -4.0zM782.7 757.2l4.0 4.0l-4.0 4.0l-4.0 -4.0zM783.3 763.2l4.0 4.0l-4.0 4.0l-4.0 -4.0zM784.0 757.8l4.0 4.0l-4.0 4.0l-4.0 -4.0zM784.6 758.6l4.0 4.0l-4.0 4.0l-4.0 -4.0zM785.3 761.8l4.0 4.0l-4.0 4.0l-4.0 -4.0zM786.0 763.8l4.0 4.0l-4.0 4.0l-4.0 -4.0zM786.6 763.0l4.0 4.0l-4.0 4.0l-4.0 -4.0zM787.3 765.8l4.0 4.0l-4.0 4.0l-4.0 -4.0zM788.0 764.5l4.0 4.0l-4.0 4.0l-4.0 -4.0zM788.6 766.0l4.0 4.0l-4.0 4.0l-4.0 -4.0zM789.3 762.5l4.0 4.0l-4.0 4.0l-4.0 -4.0zM789.9 765.7l4.0 4.0l-4.0 4.0l-4.0 -4.0zM790.6 761.3l4.0 4.0l-4.0 4.0l-4.0 -4.0zM791.3 764.6l4.0 4.0l-4.0 4.0l-4.0 -4.0zM791.9 761.6l4.0 4.0l-4.0 4.0l-4.0 -4.0zM792.6 761.3l4.0 4.0l-4.0 4.0l-4.0 -4.0zM793.3 765.4l4.0 4.0l-4.0 4.0l-4.0 -4.0zM793.9 764.0l4.0 4.0l-4.0 4.0l-4.0 -4.0zM794.6 759.2l4.0 4.0l-4.0 4.0l-4.0 -4.0zM795.3 766.1l4.0 4.0l-4.0 4.0l-4.0 -4.0zM795.9 758.8l4.0 4.0l-4.0 4.0l-4.0 -4.0zM796.6 760.1l4.0 4.0l-4.0 4.0l-4.0 -4.0zM797.2 759.7l4.0 4.0l-4.0 4.0l-4.0 -4.0zM797.9 764.9l4.0 4.0l-4.0 4.0l-4.0 -4.0zM798.6 763.9l4.0 4.0l-4.0 4.0l-4.0 -4.0zM799.2 757.0l4.0 4.0l-4.0 4.0l-4.0 -4.0zM799.9 760.5l4.0 4.0l-4.0 4.0l-4.0 -4.0zM800.6 761.1l4.0 4.0l-4.0 4.0l-4.0 -4.0zM801.2 754.1l4.0 4.0l-4.0 4.0l-4.0 -4.0zM801.9 752.8l4.0 4.0l-4.0 4.0l-4.0 -4.0zM802.5 751.3l4.0 4.0l-4.0 4.0l-4.0 -4.0zM803.2 756.2l4.0 4.0l-4.0 4.0l-4.0 -4.0zM803.9 748.4l4.0 4.0l-4.0 4.0l-4.0 -4.0zM804.5 751.6l4.0 4.0l-4.0 4.0l-4.0 -4.0zM805.2 750.1l4.0 4.0l-4.0 4.0l-4.0 -4.0zM805.9 749.7l4.0 4.0l-4.0 4.0l-4.0 -4.0zM806.5 744.6l4.0 4.0l-4.0 4.0l-4.0 -4.0zM807.2 746.7l4.0 4.0l-4.0 4.0l-4.0 -4.0zM807.8 744.0l4.0 4.0l-4.0 4.0l-4.0 -4.0zM808.5 745.2l4.0 4.0l-4.0 4.0l-4.0 -4.0zM809.2 744.3l4.0 4.0l-4.0 4.0l-4.0 -4.0zM809.8 740.0l4.0 4.0l-4.0 4.0l-4.0 -4.0zM810.5 740.0l4.0 4.0l-4.0 4.0l-4.0 -4.0zM811.2 736.8l4.0 4.0l-4.0 4.0l-4.0 -4.0zM811.8 739.5l4.0 4.0l-4.0 4.0l-4.0 -4.0zM812.5 733.2l4.0 4.0l-4.0 4.0l-4.0 -4.0zM813.1 734.8l4.0 4.0l-4.0 4.0l-4.0 -4.0zM813.8 734.6l4.0 4.0l-4.0 4.0l-4.0 -4.0zM814.5 729.9l4.0 4.0l-4.0 4.0l-4.0 -4.0zM815.1 731.9l4.0 4.0l-4.0 4.0l-4.0 -4.0zM815.8 729.7l4.0 4.0l-4.0 4.0l-4.0 -4.0zM816.5 729.8l4.0 4.0l-4.0 4.0l-4.0 -4.0zM817.1 723.6l4.0 4.0l-4.0 4.0l-4.0 -4.0zM817.8 729.7l4.0 4.0l-4.0 4.0l-4.0 -4.0zM818.5 729.7l4.0 4.0l-4.0 4.0l-4.0 -4.0zM819.1 730.2l4.0 4.0l-4.0 4.0l-4.0 -4.0zM819.8 733.4l4.0 4.0l-4.0 4.0l-4.0 -4.0zM820.4 735.4l4.0 4.0l-4.0 4.0l-4.0 -4.0zM821.1 738.1l4.0 4.0l-4.0 4.0l-4.0 -4.0zM821.8 737.9l4.0 4.0l-4.0 4.0l-4.0 -4.0zM822.4 739.0l4.0 4.0l-4.0 4.0l-4.0 -4.0zM823.1 738.6l4.0 4.0l-4.0 4.0l-4.0 -4.0zM823.8 738.3l4.0 4.0l-4.0 4.0l-4.0 -4.0zM824.4 742.0l4.0 4.0l-4.0 4.0l-4.0 -4.0zM825.1 742.2l4.0 4.0l-4.0 4.0l-4.0 -4.0zM825.7 744.5l4.0 4.0l-4.0 4.0l-4.0 -4.0zM826.4 744.3l4.0 4.0l-4.0 4.0l-4.0 -4.0zM827.1 752.6l4.0 4.0l-4.0 4.0l-4.0 -4.0zM827.7 753.9l4.0 4.0l-4.0 4.0l-4.0 -4.0zM828.4 754.8l4.0 4.0l-4.0 4.0l-4.0 -4.0zM829.1 755.8l4.0 4.0l-4.0 4.0l-4.0 -4.0zM829.7 753.4l4.0 4.0l-4.0 4.0l-4.0 -4.0zM830.4 752.7l4.0 4.0l-4.0 4.0l-4.0 -4.0zM831.0 760.3l4.0 4.0l-4.0 4.0l-4.0 -4.0zM831.7 757.0l4.0 4.0l-4.0 4.0l-4.0 -4.0zM832.4 761.4l4.0 4.0l-4.0 4.0l-4.0 -4.0zM833.0 762.5l4.0 4.0l-4.0 4.0l-4.0 -4.0zM833.7 758.3l4.0 4.0l-4.0 4.0l-4.0 -4.0zM834.4 760.9l4.0 4.0l-4.0 4.0l-4.0 -4.0zM835.0 762.3l4.0 4.0l-4.0 4.0l-4.0 -4.0zM835.7 767.8l4.0 4.0l-4.0 4.0l-4.0 -4.0zM836.3 765.2l4.0 4.0l-4.0 4.0l-4.0 -4.0zM837.0 765.4l4.0 4.0l-4.0 4.0l-4.0 -4.0zM837.7 764.6l4.0 4.0l-4.0 4.0l-4.0 -4.0zM838.3 766.9l4.0 4.0l-4.0 4.0l-4.0 -4.0zM839.0 762.5l4.0 4.0l-4.0 4.0l-4.0 -4.0zM839.7 764.1l4.0 4.0l-4.0 4.0l-4.0 -4.0zM840.3 762.2l4.0 4.0l-4.0 4.0l-4.0 -4.0zM841.0 767.7l4.0 4.0l-4.0 4.0l-4.0 -4.0zM841.6 763.8l4.0 4.0l-4.0 4.0l-4.0 -4.0zM842.3 767.8l4.0 4.0l-4.0 4.0l-4.0 -4.0zM843.0 768.1l4.0 4.0l-4.0 4.0l-4.0 -4.0zM843.6 763.7l4.0 4.0l-4.0 4.0l-4.0 -4.0zM844.3 761.3l4.0 4.0l-4.0 4.0l-4.0 -4.0zM845.0 762.0l4.0 4.0l-4.0 4.0l-4.0 -4.0zM845.6 767.1l4.0 4.0l-4.0 4.0l-4.0 -4.0zM846.3 763.6l4.0 4.0l-4.0 4.0l-4.0 -4.0zM847.0 763.0l4.0 4.0l-4.0 4.0l-4.0 -4.0zM847.6 760.1l4.0 4.0l-4.0 4.0l-4.0 -4.0zM848.3 757.6l4.0 4.0l-4.0 4.0l-4.0 -4.0zM848.9 759.2l4.0 4.0l-4.0 4.0l-4.0 -4.0zM849.6 756.7l4.0 4.0l-4.0 4.0l-4.0 -4.0zM850.3 762.7l4.0 4.0l-4.0 4.0l-4.0 -4.0zM850.9 757.0l4.0 4.0l-4.0 4.0l-4.0 -4.0zM851.6 755.7l4.0 4.0l-4.0 4.0l-4.0 -4.0zM852.3 756.2l4.0 4.0l-4.0 4.0l-4.0 -4.0zM852.9 758.6l4.0 4.0l-4.0 4.0l-4.0 -4.0zM853.6 758.4l4.0 4.0l-4.0 4.0l-4.0 -4.0zM854.2 759.5l4.0 4.0l-4.0 4.0l-4.0 -4.0zM854.9 758.2l4.0 4.0l-4.0 4.0l-4.0 -4.0zM855.6 757.7l4.0 4.0l-4.0 4.0l-4.0 -4.0zM856.2 757.8l4.0 4.0l-4.0 4.0l-4.0 -4.0zM856.9 756.9l4.0 4.0l-4.0 4.0l-4.0 -4.0zM857.6 752.4l4.0 4.0l-4.0 4.0l-4.0 -4.0zM858.2 759.7l4.0 4.0l-4.0 4.0l-4.0 -4.0zM858.9 758.3l4.0 4.0l-4.0 4.0l-4.0 -4.0zM859.5 758.8l4.0 4.0l-4.0 4.0l-4.0 -4.0zM860.2 755.4l4.0 4.0l-4.0 4.0l-4.0 -4.0zM860.9 762.3l4.0 4.0l-4.0 4.0l-4.0 -4.0zM861.5 760.2l4.0 4.0l-4.0 4.0l-4.0 -4.0zM862.2 757.5l4.0 4.0l-4.0 4.0l-4.0 -4.0zM862.9 756.9l4.0 4.0l-4.0 4.0l-4.0 -4.0zM863.5 759.4l4.0 4.0l-4.0 4.0l-4.0 -4.0zM864.2 762.9l4.0 4.0l-4.0 4.0l-4.0 -4.0zM864.8 762.8l4.0 4.0l-4.0 4.0l-4.0 -4.0zM865.5 765.3l4.0 4.0l-4.0 4.0l-4.0 -4.0zM866.2 770.4l4.0 4.0l-4.0 4.0l-4.0 -4.0zM866.8 773.1l4.0 4.0l-4.0 4.0l-4.0 -4.0zM867.5 778.2l4.0 4.0l-4.0 4.0l-4.0 -4.0z" fill="#4f81bd"/>
<text x="635.7" y="846.3" font-size="26.5" font-weight="normal" text-anchor="middle" >0</text>
<text x="714.9" y="846.3" font-size="26.5" font-weight="normal" text-anchor="middle" >120</text>
<text x="794.2" y="846.3" font-size="26.5" font-weight="normal" text-anchor="middle" >240</text>
<text x="873.4" y="846.3" font-size="26.5" font-weight="normal" text-anchor="middle" >360</text>
<text x="748.0" y="886.4" font-size="26.5" font-weight="bold" text-anchor="middle" >Degree</text>
<path d="M712.7 619.9h4.6v3.8h-4.6z" fill="none" stroke="#c0504d" stroke-width="1.6"/>
<path d="M715.0 651.0l4.0 4.0l-4.0 4.0l-4.0 -4.0z" fill="#4f81bd"/>
<text x="726.0" y="631.3" font-size="26.5" font-weight="normal" text-anchor="start" >N=&#160;&#160;0</text>
<text x="726.0" y="664.5" font-size="26.5" font-weight="normal" text-anchor="start" >N=20</text>
<text x="51.2" y="591.3" font-size="27" font-weight="bold" text-anchor="start" >b)</text>
<text x="0.0" y="0.0" font-size="27" font-weight="bold" text-anchor="middle" transform="translate(24.8,693.2) rotate(-90)">I (a.u.)</text>
<path d="M43.9,934.5H274.5V1117H43.9Z" fill="none" stroke="#000" stroke-width="1.8"/>
<path d="M35.9,934.5H43.9M35.9,980.2H43.9M35.9,1025.7H43.9M35.9,1071.7H43.9M35.9,1117.0H43.9M43.9,1117V1124.5M67.0,1117V1122.5M90.0,1117V1124.5M113.1,1117V1122.5M136.1,1117V1124.5M159.2,1117V1122.5M182.3,1117V1124.5M205.3,1117V1122.5M228.4,1117V1124.5M251.4,1117V1122.5M274.5,1117V1124.5" fill="none" stroke="#000" stroke-width="1.4"/>
<path d="M49.4 1104.7l4.7 3.8l-4.7 3.8l-4.7 -3.8zM50.2 1101.5l4.7 3.8l-4.7 3.8l-4.7 -3.8zM50.9 1100.5l4.7 3.8l-4.7 3.8l-4.7 -3.8zM51.7 1099.7l4.7 3.8l-4.7 3.8l-4.7 -3.8zM52.5 1098.9l4.7 3.8l-4.7 3.8l-4.7 -3.8zM53.3 1096.4l4.7 3.8l-4.7 3.8l-4.7 -3.8zM54.0 1093.2l4.7 3.8l-4.7 3.8l-4.7 -3.8zM54.8 1091.8l4.7 3.8l-4.7 3.8l-4.7 -3.8zM55.6 1089.9l4.7 3.8l-4.7 3.8l-4.7 -3.8zM56.4 1084.6l4.7 3.8l-4.7 3.8l-4.7 -3.8zM57.1 1081.2l4.7 3.8l-4.7 3.8l-4.7 -3.8zM57.9 1075.9l4.7 3.8l-4.7 3.8l-4.7 -3.8zM58.7 1071.0l4.7 3.8l-4.7 3.8l-4.7 -3.8zM59.5 1068.2l4.7 3.8l-4.7 3.8l-4.7 -3.8zM60.2 1066.7l4.7 3.8l-4.7 3.8l-4.7 -3.8zM61.0 1061.0l4.7 3.8l-4.7 3.8l-4.7 -3.8zM61.8 1063.0l4.7 3.8l-4.7 3.8l-4.7 -3.8zM62.6 1064.4l4.7 3.8l-4.7 3.8l-4.7 -3.8zM63.3 1065.3l4.7 3.8l-4.7 3.8l-4.7 -3.8zM64.1 1067.6l4.7 3.8l-4.7 3.8l-4.7 -3.8zM64.9 1068.1l4.7 3.8l-4.7 3.8l-4.7 -3.8zM65.7 1072.5l4.7 3.8l-4.7 3.8l-4.7 -3.8zM66.4 1072.7l4.7 3.8l-4.7 3.8l-4.7 -3.8zM67.2 1077.9l4.7 3.8l-4.7 3.8l-4.7 -3.8zM68.0 1079.9l4.7 3.8l-4.7 3.8l-4.7 -3.8zM68.8 1081.3l4.7 3.8l-4.7 3.8l-4.7 -3.8zM69.5 1082.5l4.7 3.8l-4.7 3.8l-4.7 -3.8zM70.3 1084.9l4.7 3.8l-4.7 3.8l-4.7 -3.8zM71.1 1088.6l4.7 3.8l-4.7 3.8l-4.7 -3.8zM71.9 1088.0l4.7 3.8l-4.7 3.8l-4.7 -3.8zM72.6 1091.0l4.7 3.8l-4.7 3.8l-4.7 -3.8zM73.4 1090.7l4.7 3.8l-4.7 3.8l-4.7 -3.8zM74.2 1094.4l4.7 3.8l-4.7 3.8l-4.7 -3.8zM75.0 1094.0l4.7 3.8l-4.7 3.8l-4.7 -3.8zM75.7 1095.7l4.7 3.8l-4.7 3.8l-4.7 -3.8zM76.5 1094.9l4.7 3.8l-4.7 3.8l-4.7 -3.8zM77.3 1097.8l4.7 3.8l-4.7 3.8l-4.7 -3.8zM78.1 1098.2l4.7 3.8l-4.7 3.8l-4.7 -3.8zM78.8 1098.9l4.7 3.8l-4.7 3.8l-4.7 -3.8zM79.6 1097.4l4.7 3.8l-4.7 3.8l-4.7 -3.8zM80.4 1100.0l4.7 3.8l-4.7 3.8l-4.7 -3.8zM81.2 1098.3l4.7 3.8l-4.7 3.8l-4.7 -3.8zM81.9 1098.8l4.7 3.8l-4.7 3.8l-4.7 -3.8zM82.7 1097.8l4.7 3.8l-4.7 3.8l-4.7 -3.8zM83.5 1098.8l4.7 3.8l-4.7 3.8l-4.7 -3.8zM84.3 1098.1l4.7 3.8l-4.7 3.8l-4.7 -3.8zM85.0 1096.7l4.7 3.8l-4.7 3.8l-4.7 -3.8zM85.8 1097.2l4.7 3.8l-4.7 3.8l-4.7 -3.8zM86.6 1097.8l4.7 3.8l-4.7 3.8l-4.7 -3.8zM87.4 1097.5l4.7 3.8l-4.7 3.8l-4.7 -3.8zM88.1 1097.2l4.7 3.8l-4.7 3.8l-4.7 -3.8zM88.9 1097.2l4.7 3.8l-4.7 3.8l-4.7 -3.8zM89.7 1097.1l4.7 3.8l-4.7 3.8l-4.7 -3.8zM90.4 1094.2l4.7 3.8l-4.7 3.8l-4.7 -3.8zM91.2 1093.8l4.7 3.8l-4.7 3.8l-4.7 -3.8zM92.0 1093.3l4.7 3.8l-4.7 3.8l-4.7 -3.8zM92.8 1091.7l4.7 3.8l-4.7 3.8l-4.7 -3.8zM93.5 1091.5l4.7 3.8l-4.7 3.8l-4.7 -3.8zM94.3 1090.3l4.7 3.8l-4.7 3.8l-4.7 -3.8zM95.1 1090.4l4.7 3.8l-4.7 3.8l-4.7 -3.8zM95.9 1090.1l4.7 3.8l-4.7 3.8l-4.7 -3.8zM96.6 1087.5l4.7 3.8l-4.7 3.8l-4.7 -3.8zM97.4 1086.2l4.7 3.8l-4.7 3.8l-4.7 -3.8zM98.2 1085.1l4.7 3.8l-4.7 3.8l-4.7 -3.8zM99.0 1084.9l4.7 3.8l-4.7 3.8l-4.7 -3.8zM99.7 1084.8l4.7 3.8l-4.7 3.8l-4.7 -3.8zM100.5 1080.2l4.7 3.8l-4.7 3.8l-4.7 -3.8zM101.3 1078.5l4.7 3.8l-4.7 3.8l-4.7 -3.8zM102.1 1075.2l4.7 3.8l-4.7 3.8l-4.7 -3.8zM102.8 1073.2l4.7 3.8l-4.7 3.8l-4.7 -3.8zM103.6 1071.1l4.7 3.8l-4.7 3.8l-4.7 -3.8zM104.4 1068.0l4.7 3.8l-4.7 3.8l-4.7 -3.8zM105.2 1062.2l4.7 3.8l-4.7 3.8l-4.7 -3.8zM105.9 1059.3l4.7 3.8l-4.7 3.8l-4.7 -3.8zM106.7 1054.8l4.7 3.8l-4.7 3.8l-4.7 -3.8zM107.5 1051.1l4.7 3.8l-4.7 3.8l-4.7 -3.8zM108.3 1043.4l4.7 3.8l-4.7 3.8l-4.7 -3.8zM109.0 1038.6l4.7 3.8l-4.7 3.8l-4.7 -3.8zM109.8 1029.5l4.7 3.8l-4.7 3.8l-4.7 -3.8zM110.6 1018.8l4.7 3.8l-4.7 3.8l-4.7 -3.8zM111.4 999.5l4.7 3.8l-4.7 3.8l-4.7 -3.8zM112.1 980.2l4.7 3.8l-4.7 3.8l-4.7 -3.8zM112.9 963.0l4.7 3.8l-4.7 3.8l-4.7 -3.8zM113.7 956.5l4.7 3.8l-4.7 3.8l-4.7 -3.8zM114.5 967.5l4.7 3.8l-4.7 3.8l-4.7 -3.8zM115.2 1000.8l4.7 3.8l-4.7 3.8l-4.7 -3.8zM116.0 1022.8l4.7 3.8l-4.7 3.8l-4.7 -3.8zM116.8 1034.9l4.7 3.8l-4.7 3.8l-4.7 -3.8zM117.6 1044.4l4.7 3.8l-4.7 3.8l-4.7 -3.8zM118.3 1056.6l4.7 3.8l-4.7 3.8l-4.7 -3.8zM119.1 1062.9l4.7 3.8l-4.7 3.8l-4.7 -3.8zM119.9 1064.7l4.7 3.8l-4.7 3.8l-4.7 -3.8zM120.7 1070.5l4.7 3.8l-4.7 3.8l-4.7 -3.8zM121.4 1074.2l4.7 3.8l-4.7 3.8l-4.7 -3.8zM122.2 1077.8l4.7 3.8l-4.7 3.8l-4.7 -3.8zM123.0 1077.3l4.7 3.8l-4.7 3.8l-4.7 -3.8zM123.8 1081.2l4.7 3.8l-4.7 3.8l-4.7 -3.8zM124.5 1081.2l4.7 3.8l-4.7 3.8l-4.7 -3.8zM125.3 1084.3l4.7 3.8l-4.7 3.8l-4.7 -3.8zM126.1 1085.5l4.7 3.8l-4.7 3.8l-4.7 -3.8zM126.9 1086.5l4.7 3.8l-4.7 3.8l-4.7 -3.8zM127.6 1085.4l4.7 3.8l-4.7 3.8l-4.7 -3.8zM128.4 1086.3l4.7 3.8l-4.7 3.8l-4.7 -3.8zM129.2 1086.3l4.7 3.8l-4.7 3.8l-4.7 -3.8zM129.9 1088.0l4.7 3.8l-4.7 3.8l-4.7 -3.8zM130.7 1087.6l4.7 3.8l-4.7 3.8l-4.7 -3.8zM131.5 1090.8l4.7 3.8l-4.7 3.8l-4.7 -3.8zM132.3 1089.7l4.7 3.8l-4.7 3.8l-4.7 -3.8zM133.0 1090.5l4.7 3.8l-4.7 3.8l-4.7 -3.8zM133.8 1091.2l4.7 3.8l-4.7 3.8l-4.7 -3.8zM134.6 1092.3l4.7 3.8l-4.7 3.8l-4.7 -3.8zM135.4 1091.7l4.7 3.8l-4.7 3.8l-4.7 -3.8zM136.1 1093.2l4.7 3.8l-4.7 3.8l-4.7 -3.8zM136.9 1093.1l4.7 3.8l-4.7 3.8l-4.7 -3.8zM137.7 1093.6l4.7 3.8l-4.7 3.8l-4.7 -3.8zM138.5 1092.4l4.7 3.8l-4.7 3.8l-4.7 -3.8zM139.2 1093.0l4.7 3.8l-4.7 3.8l-4.7 -3.8zM140.0 1094.8l4.7 3.8l-4.7 3.8l-4.7 -3.8zM140.8 1095.2l4.7 3.8l-4.7 3.8l-4.7 -3.8zM141.6 1094.7l4.7 3.8l-4.7 3.8l-4.7 -3.8zM142.3 1093.3l4.7 3.8l-4.7 3.8l-4.7 -3.8zM143.1 1095.6l4.7 3.8l-4.7 3.8l-4.7 -3.8zM143.9 1093.8l4.7 3.8l-4.7 3.8l-4.7 -3.8zM144.7 1094.3l4.7 3.8l-4.7 3.8l-4.7 -3.8zM145.4 1094.0l4.7 3.8l-4.7 3.8l-4.7 -3.8zM146.2 1095.0l4.7 3.8l-4.7 3.8l-4.7 -3.8zM147.0 1097.4l4.7 3.8l-4.7 3.8l-4.7 -3.8zM147.8 1095.0l4.7 3.8l-4.7 3.8l-4.7 -3.8zM148.5 1097.7l4.7 3.8l-4.7 3.8l-4.7 -3.8zM149.3 1096.0l4.7 3.8l-4.7 3.8l-4.7 -3.8zM150.1 1096.2l4.7 3.8l-4.7 3.8l-4.7 -3.8zM150.9 1096.7l4.7 3.8l-4.7 3.8l-4.7 -3.8zM151.6 1095.4l4.7 3.8l-4.7 3.8l-4.7 -3.8zM152.4 1095.8l4.7 3.8l-4.7 3.8l-4.7 -3.8zM153.2 1097.2l4.7 3.8l-4.7 3.8l-4.7 -3.8zM154.0 1096.2l4.7 3.8l-4.7 3.8l-4.7 -3.8zM154.7 1097.6l4.7 3.8l-4.7 3.8l-4.7 -3.8zM155.5 1097.0l4.7 3.8l-4.7 3.8l-4.7 -3.8zM156.3 1098.3l4.7 3.8l-4.7 3.8l-4.7 -3.8zM157.1 1095.7l4.7 3.8l-4.7 3.8l-4.7 -3.8zM157.8 1097.7l4.7 3.8l-4.7 3.8l-4.7 -3.8zM158.6 1097.8l4.7 3.8l-4.7 3.8l-4.7 -3.8zM159.4 1098.1l4.7 3.8l-4.7 3.8l-4.7 -3.8zM160.2 1095.9l4.7 3.8l-4.7 3.8l-4.7 -3.8zM160.9 1096.2l4.7 3.8l-4.7 3.8l-4.7 -3.8zM161.7 1098.0l4.7 3.8l-4.7 3.8l-4.7 -3.8zM162.5 1096.2l4.7 3.8l-4.7 3.8l-4.7 -3.8zM163.3 1097.4l4.7 3.8l-4.7 3.8l-4.7 -3.8zM164.0 1095.8l4.7 3.8l-4.7 3.8l-4.7 -3.8zM164.8 1097.1l4.7 3.8l-4.7 3.8l-4.7 -3.8zM165.6 1097.2l4.7 3.8l-4.7 3.8l-4.7 -3.8zM166.4 1096.0l4.7 3.8l-4.7 3.8l-4.7 -3.8zM167.1 1096.8l4.7 3.8l-4.7 3.8l-4.7 -3.8zM167.9 1095.3l4.7 3.8l-4.7 3.8l-4.7 -3.8zM168.7 1095.8l4.7 3.8l-4.7 3.8l-4.7 -3.8zM169.5 1097.0l4.7 3.8l-4.7 3.8l-4.7 -3.8zM170.2 1096.9l4.7 3.8l-4.7 3.8l-4.7 -3.8zM171.0 1095.6l4.7 3.8l-4.7 3.8l-4.7 -3.8zM171.8 1096.9l4.7 3.8l-4.7 3.8l-4.7 -3.8zM172.5 1095.3l4.7 3.8l-4.7 3.8l-4.7 -3.8zM173.3 1097.1l4.7 3.8l-4.7 3.8l-4.7 -3.8zM174.1 1096.9l4.7 3.8l-4.7 3.8l-4.7 -3.8zM174.9 1097.1l4.7 3.8l-4.7 3.8l-4.7 -3.8zM175.6 1095.7l4.7 3.8l-4.7 3.8l-4.7 -3.8zM176.4 1095.1l4.7 3.8l-4.7 3.8l-4.7 -3.8zM177.2 1095.3l4.7 3.8l-4.7 3.8l-4.7 -3.8zM178.0 1096.6l4.7 3.8l-4.7 3.8l-4.7 -3.8zM178.7 1098.0l4.7 3.8l-4.7 3.8l-4.7 -3.8zM179.5 1096.7l4.7 3.8l-4.7 3.8l-4.7 -3.8zM180.3 1095.8l4.7 3.8l-4.7 3.8l-4.7 -3.8zM181.1 1097.1l4.7 3.8l-4.7 3.8l-4.7 -3.8zM181.8 1097.8l4.7 3.8l-4.7 3.8l-4.7 -3.8zM182.6 1098.0l4.7 3.8l-4.7 3.8l-4.7 -3.8zM183.4 1096.0l4.7 3.8l-4.7 3.8l-4.7 -3.8zM184.2 1097.4l4.7 3.8l-4.7 3.8l-4.7 -3.8zM184.9 1098.0l4.7 3.8l-4.7 3.8l-4.7 -3.8zM185.7 1097.1l4.7 3.8l-4.7 3.8l-4.7 -3.8zM186.5 1098.4l4.7 3.8l-4.7 3.8l-4.7 -3.8zM187.3 1097.5l4.7 3.8l-4.7 3.8l-4.7 -3.8zM188.0 1099.2l4.7 3.8l-4.7 3.8l-4.7 -3.8zM188.8 1098.4l4.7 3.8l-4.7 3.8l-4.7 -3.8zM189.6 1098.0l4.7 3.8l-4.7 3.8l-4.7 -3.8zM190.4 1097.6l4.7 3.8l-4.7 3.8l-4.7 -3.8zM191.1 1099.8l4.7 3.8l-4.7 3.8l-4.7 -3.8zM191.9 1097.3l4.7 3.8l-4.7 3.8l-4.7 -3.8zM192.7 1098.9l4.7 3.8l-4.7 3.8l-4.7 -3.8zM193.5 1097.4l4.7 3.8l-4.7 3.8l-4.7 -3.8zM194.2 1099.6l4.7 3.8l-4.7 3.8l-4.7 -3.8zM195.0 1097.6l4.7 3.8l-4.7 3.8l-4.7 -3.8zM195.8 1097.8l4.7 3.8l-4.7 3.8l-4.7 -3.8zM196.6 1097.7l4.7 3.8l-4.7 3.8l-4.7 -3.8zM197.3 1100.0l4.7 3.8l-4.7 3.8l-4.7 -3.8zM198.1 1098.1l4.7 3.8l-4.7 3.8l-4.7 -3.8zM198.9 1098.4l4.7 3.8l-4.7 3.8l-4.7 -3.8zM199.7 1100.5l4.7 3.8l-4.7 3.8l-4.7 -3.8zM200.4 1098.6l4.7 3.8l-4.7 3.8l-4.7 -3.8zM201.2 1099.5l4.7 3.8l-4.7 3.8l-4.7 -3.8zM202.0 1098.7l4.7 3.8l-4.7 3.8l-4.7 -3.8zM202.8 1101.3l4.7 3.8l-4.7 3.8l-4.7 -3.8zM203.5 1099.3l4.7 3.8l-4.7 3.8l-4.7 -3.8zM204.3 1101.3l4.7 3.8l-4.7 3.8l-4.7 -3.8zM205.1 1100.1l4.7 3.8l-4.7 3.8l-4.7 -3.8zM205.9 1100.6l4.7 3.8l-4.7 3.8l-4.7 -3.8zM206.6 1100.3l4.7 3.8l-4.7 3.8l-4.7 -3.8zM207.4 1101.1l4.7 3.8l-4.7 3.8l-4.7 -3.8zM208.2 1099.6l4.7 3.8l-4.7 3.8l-4.7 -3.8zM209.0 1099.4l4.7 3.8l-4.7 3.8l-4.7 -3.8zM209.7 1100.2l4.7 3.8l-4.7 3.8l-4.7 -3.8zM210.5 1100.0l4.7 3.8l-4.7 3.8l-4.7 -3.8zM211.3 1102.3l4.7 3.8l-4.7 3.8l-4.7 -3.8zM212.0 1102.0l4.7 3.8l-4.7 3.8l-4.7 -3.8zM212.8 1100.0l4.7 3.8l-4.7 3.8l-4.7 -3.8zM213.6 1100.6l4.7 3.8l-4.7 3.8l-4.7 -3.8zM214.4 1100.9l4.7 3.8l-4.7 3.8l-4.7 -3.8zM215.1 1102.3l4.7 3.8l-4.7 3.8l-4.7 -3.8zM215.9 1099.8l4.7 3.8l-4.7 3.8l-4.7 -3.8zM216.7 1101.7l4.7 3.8l-4.7 3.8l-4.7 -3.8zM217.5 1102.8l4.7 3.8l-4.7 3.8l-4.7 -3.8zM218.2 1102.6l4.7 3.8l-4.7 3.8l-4.7 -3.8zM219.0 1100.9l4.7 3.8l-4.7 3.8l-4.7 -3.8zM219.8 1101.3l4.7 3.8l-4.7 3.8l-4.7 -3.8zM220.6 1101.4l4.7 3.8l-4.7 3.8l-4.7 -3.8zM221.3 1100.9l4.7 3.8l-4.7 3.8l-4.7 -3.8zM222.1 1101.5l4.7 3.8l-4.7 3.8l-4.7 -3.8zM222.9 1103.0l4.7 3.8l-4.7 3.8l-4.7 -3.8zM223.7 1101.1l4.7 3.8l-4.7 3.8l-4.7 -3.8zM224.4 1102.8l4.7 3.8l-4.7 3.8l-4.7 -3.8zM225.2 1102.6l4.7 3.8l-4.7 3.8l-4.7 -3.8zM226.0 1102.8l4.7 3.8l-4.7 3.8l-4.7 -3.8zM226.8 1102.4l4.7 3.8l-4.7 3.8l-4.7 -3.8zM227.5 1103.0l4.7 3.8l-4.7 3.8l-4.7 -3.8zM228.3 1102.1l4.7 3.8l-4.7 3.8l-4.7 -3.8zM229.1 1103.0l4.7 3.8l-4.7 3.8l-4.7 -3.8zM229.9 1103.1l4.7 3.8l-4.7 3.8l-4.7 -3.8zM230.6 1103.2l4.7 3.8l-4.7 3.8l-4.7 -3.8zM231.4 1103.4l4.7 3.8l-4.7 3.8l-4.7 -3.8zM232.2 1102.6l4.7 3.8l-4.7 3.8l-4.7 -3.8zM233.0 1100.8l4.7 3.8l-4.7 3.8l-4.7 -3.8zM233.7 1102.3l4.7 3.8l-4.7 3.8l-4.7 -3.8zM234.5 1101.7l4.7 3.8l-4.7 3.8l-4.7 -3.8zM235.3 1103.1l4.7 3.8l-4.7 3.8l-4.7 -3.8zM236.1 1101.4l4.7 3.8l-4.7 3.8l-4.7 -3.8zM236.8 1101.5l4.7 3.8l-4.7 3.8l-4.7 -3.8zM237.6 1101.8l4.7 3.8l-4.7 3.8l-4.7 -3.8zM238.4 1103.2l4.7 3.8l-4.7 3.8l-4.7 -3.8zM239.2 1101.1l4.7 3.8l-4.7 3.8l-4.7 -3.8zM239.9 1103.1l4.7 3.8l-4.7 3.8l-4.7 -3.8zM240.7 1102.3l4.7 3.8l-4.7 3.8l-4.7 -3.8zM241.5 1103.3l4.7 3.8l-4.7 3.8l-4.7 -3.8zM242.3 1101.9l4.7 3.8l-4.7 3.8l-4.7 -3.8zM243.0 1103.7l4.7 3.8l-4.7 3.8l-4.7 -3.8zM243.8 1103.7l4.7 3.8l-4.7 3.8l-4.7 -3.8zM244.6 1102.0l4.7 3.8l-4.7 3.8l-4.7 -3.8zM245.4 1102.8l4.7 3.8l-4.7 3.8l-4.7 -3.8zM246.1 1102.8l4.7 3.8l-4.7 3.8l-4.7 -3.8zM246.9 1102.7l4.7 3.8l-4.7 3.8l-4.7 -3.8zM247.7 1102.4l4.7 3.8l-4.7 3.8l-4.7 -3.8zM248.5 1103.1l4.7 3.8l-4.7 3.8l-4.7 -3.8zM249.2 1102.3l4.7 3.8l-4.7 3.8l-4.7 -3.8zM250.0 1104.1l4.7 3.8l-4.7 3.8l-4.7 -3.8z" fill="none" stroke="#e46c0a" stroke-width="1.6" stroke-linejoin="miter"/>
<path d="M45.4 1106.7h8v8h-8zM46.0 1106.6h8v8h-8zM46.5 1107.6h8v8h-8zM47.1 1107.7h8v8h-8zM47.6 1108.0h8v8h-8zM48.2 1108.8h8v8h-8zM48.7 1107.3h8v8h-8zM49.3 1108.9h8v8h-8zM49.8 1109.2h8v8h-8zM50.4 1108.1h8v8h-8zM50.9 1108.9h8v8h-8zM51.5 1107.6h8v8h-8zM52.0 1107.7h8v8h-8zM52.6 1106.7h8v8h-8zM53.1 1107.0h8v8h-8zM53.7 1105.5h8v8h-8zM54.2 1107.2h8v8h-8zM54.8 1106.1h8v8h-8zM55.3 1105.9h8v8h-8zM55.9 1104.9h8v8h-8zM56.4 1103.3h8v8h-8zM57.0 1102.4h8v8h-8zM57.5 1102.6h8v8h-8zM58.1 1103.1h8v8h-8zM58.6 1101.6h8v8h-8zM59.2 1101.2h8v8h-8zM59.7 1100.8h8v8h-8zM60.3 1099.7h8v8h-8zM60.8 1098.8h8v8h-8zM61.4 1098.8h8v8h-8zM61.9 1098.7h8v8h-8zM62.5 1097.4h8v8h-8zM63.0 1099.1h8v8h-8zM63.6 1097.7h8v8h-8zM64.1 1098.3h8v8h-8zM64.7 1098.4h8v8h-8zM65.2 1097.2h8v8h-8zM65.8 1098.4h8v8h-8zM66.3 1098.3h8v8h-8zM66.9 1097.0h8v8h-8zM67.4 1098.5h8v8h-8zM68.0 1098.2h8v8h-8zM68.5 1095.6h8v8h-8zM69.1 1097.0h8v8h-8zM69.6 1094.9h8v8h-8zM70.2 1095.7h8v8h-8zM70.7 1094.5h8v8h-8zM71.3 1093.9h8v8h-8zM71.8 1093.2h8v8h-8zM72.4 1094.0h8v8h-8zM72.9 1092.4h8v8h-8zM73.5 1091.8h8v8h-8zM74.0 1092.0h8v8h-8zM74.6 1091.3h8v8h-8zM75.1 1091.6h8v8h-8zM75.7 1091.4h8v8h-8zM76.2 1091.0h8v8h-8zM76.8 1091.0h8v8h-8zM77.3 1089.5h8v8h-8zM77.9 1090.5h8v8h-8zM78.4 1089.4h8v8h-8zM79.0 1089.6h8v8h-8zM79.5 1090.4h8v8h-8zM80.1 1089.2h8v8h-8zM80.6 1090.5h8v8h-8zM81.2 1091.4h8v8h-8zM81.7 1090.3h8v8h-8zM82.3 1091.9h8v8h-8zM82.8 1090.8h8v8h-8zM83.4 1091.2h8v8h-8zM83.9 1091.7h8v8h-8zM84.5 1090.2h8v8h-8zM85.0 1092.0h8v8h-8zM85.6 1091.3h8v8h-8zM86.1 1090.7h8v8h-8zM86.7 1091.2h8v8h-8zM87.2 1090.3h8v8h-8zM87.8 1092.1h8v8h-8zM88.3 1089.9h8v8h-8zM88.9 1091.0h8v8h-8zM89.4 1090.7h8v8h-8zM90.0 1090.6h8v8h-8zM90.5 1092.0h8v8h-8zM91.1 1090.7h8v8h-8zM91.6 1090.4h8v8h-8zM92.2 1091.3h8v8h-8zM92.7 1090.1h8v8h-8zM93.3 1090.0h8v8h-8zM93.8 1090.4h8v8h-8zM94.4 1089.7h8v8h-8zM94.9 1089.2h8v8h-8zM95.5 1088.7h8v8h-8zM96.0 1088.7h8v8h-8zM96.6 1088.8h8v8h-8zM97.1 1088.5h8v8h-8zM97.7 1089.8h8v8h-8zM98.2 1089.7h8v8h-8zM98.8 1088.3h8v8h-8zM99.3 1086.5h8v8h-8zM99.9 1086.9h8v8h-8zM100.4 1087.2h8v8h-8zM101.0 1085.7h8v8h-8zM101.5 1086.4h8v8h-8zM102.1 1085.2h8v8h-8zM102.6 1082.6h8v8h-8zM103.2 1081.7h8v8h-8zM103.7 1082.1h8v8h-8zM104.3 1079.5h8v8h-8zM104.8 1078.5h8v8h-8zM105.4 1078.7h8v8h-8zM105.9 1076.8h8v8h-8zM106.5 1075.8h8v8h-8zM107.0 1074.1h8v8h-8zM107.6 1074.6h8v8h-8zM108.1 1072.6h8v8h-8zM108.7 1069.8h8v8h-8zM109.2 1068.9h8v8h-8zM109.8 1066.7h8v8h-8zM110.3 1067.6h8v8h-8zM110.9 1066.4h8v8h-8zM111.4 1066.2h8v8h-8zM112.0 1066.5h8v8h-8zM112.5 1064.5h8v8h-8zM113.1 1065.6h8v8h-8zM113.6 1066.6h8v8h-8zM114.2 1065.7h8v8h-8zM114.7 1067.4h8v8h-8zM115.3 1067.6h8v8h-8zM115.9 1070.7h8v8h-8zM116.4 1070.0h8v8h-8zM117.0 1072.7h8v8h-8zM117.5 1074.7h8v8h-8zM118.1 1075.9h8v8h-8zM118.6 1078.9h8v8h-8zM119.2 1079.7h8v8h-8zM119.7 1080.4h8v8h-8zM120.3 1082.9h8v8h-8zM120.8 1083.7h8v8h-8zM121.4 1085.3h8v8h-8zM121.9 1084.7h8v8h-8zM122.5 1085.7h8v8h-8zM123.0 1086.5h8v8h-8zM123.6 1088.5h8v8h-8zM124.1 1090.7h8v8h-8zM124.7 1091.2h8v8h-8zM125.2 1089.6h8v8h-8zM125.8 1091.2h8v8h-8zM126.3 1091.6h8v8h-8zM126.9 1093.0h8v8h-8zM127.4 1093.1h8v8h-8zM128.0 1092.2h8v8h-8zM128.5 1094.2h8v8h-8zM129.1 1094.3h8v8h-8zM129.6 1094.7h8v8h-8zM130.2 1093.6h8v8h-8zM130.7 1095.5h8v8h-8zM131.3 1095.5h8v8h-8zM131.8 1095.0h8v8h-8zM132.4 1096.6h8v8h-8zM132.9 1095.5h8v8h-8zM133.5 1096.7h8v8h-8zM134.0 1095.9h8v8h-8zM134.6 1096.0h8v8h-8zM135.1 1096.4h8v8h-8zM135.7 1097.3h8v8h-8zM136.2 1097.3h8v8h-8zM136.8 1098.3h8v8h-8zM137.3 1097.8h8v8h-8zM137.9 1097.7h8v8h-8zM138.4 1096.9h8v8h-8zM139.0 1096.5h8v8h-8zM139.5 1096.7h8v8h-8zM140.1 1098.9h8v8h-8zM140.6 1097.9h8v8h-8zM141.2 1098.7h8v8h-8zM141.7 1097.8h8v8h-8zM142.3 1097.6h8v8h-8zM142.8 1099.3h8v8h-8zM143.4 1097.8h8v8h-8zM143.9 1098.3h8v8h-8zM144.5 1100.0h8v8h-8zM145.0 1099.7h8v8h-8zM145.6 1100.2h8v8h-8zM146.1 1100.3h8v8h-8zM146.7 1100.4h8v8h-8zM147.2 1099.5h8v8h-8zM147.8 1100.1h8v8h-8zM148.3 1098.2h8v8h-8zM148.9 1100.0h8v8h-8zM149.4 1099.8h8v8h-8zM150.0 1099.1h8v8h-8zM150.5 1100.4h8v8h-8zM151.1 1098.3h8v8h-8zM151.6 1099.3h8v8h-8zM152.2 1098.3h8v8h-8zM152.7 1099.1h8v8h-8zM153.3 1098.6h8v8h-8zM153.8 1099.3h8v8h-8zM154.4 1099.4h8v8h-8zM154.9 1100.2h8v8h-8zM155.5 1100.4h8v8h-8zM156.0 1098.2h8v8h-8zM156.6 1100.3h8v8h-8zM157.1 1099.2h8v8h-8zM157.7 1097.8h8v8h-8zM158.2 1098.0h8v8h-8zM158.8 1099.3h8v8h-8zM159.3 1100.1h8v8h-8zM159.9 1098.6h8v8h-8zM160.4 1099.2h8v8h-8zM161.0 1099.8h8v8h-8zM161.5 1098.4h8v8h-8zM162.1 1098.3h8v8h-8zM162.6 1098.1h8v8h-8zM163.2 1097.6h8v8h-8zM163.7 1098.8h8v8h-8zM164.3 1098.7h8v8h-8zM164.8 1099.5h8v8h-8zM165.4 1099.0h8v8h-8zM165.9 1099.8h8v8h-8zM166.5 1099.0h8v8h-8zM167.0 1097.3h8v8h-8zM167.6 1099.6h8v8h-8zM168.1 1098.6h8v8h-8zM168.7 1098.1h8v8h-8zM169.2 1098.5h8v8h-8zM169.8 1097.0h8v8h-8zM170.3 1097.4h8v8h-8zM170.9 1097.2h8v8h-8zM171.4 1097.7h8v8h-8zM172.0 1098.4h8v8h-8zM172.5 1099.6h8v8h-8zM173.1 1099.0h8v8h-8zM173.6 1099.4h8v8h-8zM174.2 1097.6h8v8h-8zM174.7 1098.1h8v8h-8zM175.3 1098.4h8v8h-8zM175.8 1100.0h8v8h-8zM176.4 1100.2h8v8h-8zM176.9 1099.4h8v8h-8zM177.5 1099.7h8v8h-8zM178.0 1098.8h8v8h-8zM178.6 1098.6h8v8h-8zM179.1 1098.4h8v8h-8zM179.7 1099.6h8v8h-8zM180.2 1098.6h8v8h-8zM180.8 1099.7h8v8h-8zM181.3 1099.4h8v8h-8zM181.9 1098.4h8v8h-8zM182.4 1099.6h8v8h-8zM183.0 1100.5h8v8h-8zM183.5 1100.7h8v8h-8zM184.1 1098.9h8v8h-8zM184.7 1099.8h8v8h-8zM185.2 1100.8h8v8h-8zM185.8 1100.6h8v8h-8zM186.3 1100.2h8v8h-8zM186.9 1101.5h8v8h-8zM187.4 1099.6h8v8h-8zM188.0 1099.4h8v8h-8zM188.5 1099.5h8v8h-8zM189.1 1100.5h8v8h-8zM189.6 1100.8h8v8h-8zM190.2 1100.1h8v8h-8zM190.7 1100.4h8v8h-8zM191.3 1102.0h8v8h-8zM191.8 1100.8h8v8h-8zM192.4 1099.9h8v8h-8zM192.9 1102.1h8v8h-8zM193.5 1100.4h8v8h-8zM194.0 1100.2h8v8h-8zM194.6 1101.0h8v8h-8zM195.1 1102.1h8v8h-8zM195.7 1101.6h8v8h-8zM196.2 1102.1h8v8h-8zM196.8 1102.1h8v8h-8zM197.3 1102.7h8v8h-8zM197.9 1101.0h8v8h-8zM198.4 1101.0h8v8h-8zM199.0 1102.3h8v8h-8zM199.5 1101.4h8v8h-8zM200.1 1102.4h8v8h-8zM200.6 1101.7h8v8h-8zM201.2 1101.8h8v8h-8zM201.7 1100.9h8v8h-8zM202.3 1103.4h8v8h-8zM202.8 1101.1h8v8h-8zM203.4 1102.1h8v8h-8zM203.9 1102.6h8v8h-8zM204.5 1103.1h8v8h-8zM205.0 1103.4h8v8h-8zM205.6 1102.3h8v8h-8zM206.1 1102.3h8v8h-8zM206.7 1102.9h8v8h-8zM207.2 1102.7h8v8h-8zM207.8 1101.3h8v8h-8zM208.3 1103.3h8v8h-8zM208.9 1102.1h8v8h-8zM209.4 1102.8h8v8h-8zM210.0 1102.3h8v8h-8zM210.5 1102.4h8v8h-8zM211.1 1102.2h8v8h-8zM211.6 1102.6h8v8h-8zM212.2 1101.8h8v8h-8zM212.7 1103.8h8v8h-8zM213.3 1102.0h8v8h-8zM213.8 1103.5h8v8h-8zM214.4 1102.7h8v8h-8zM214.9 1101.8h8v8h-8zM215.5 1102.7h8v8h-8zM216.0 1104.4h8v8h-8zM216.6 1104.2h8v8h-8zM217.1 1104.2h8v8h-8zM217.7 1104.5h8v8h-8zM218.2 1104.5h8v8h-8zM218.8 1102.6h8v8h-8zM219.3 1103.3h8v8h-8zM219.9 1103.1h8v8h-8zM220.4 1103.7h8v8h-8zM221.0 1102.9h8v8h-8zM221.5 1103.6h8v8h-8zM222.1 1104.0h8v8h-8zM222.6 1103.7h8v8h-8zM223.2 1104.4h8v8h-8zM223.7 1104.5h8v8h-8zM224.3 1103.1h8v8h-8zM224.8 1103.8h8v8h-8zM225.4 1103.3h8v8h-8zM225.9 1104.4h8v8h-8zM226.5 1103.9h8v8h-8zM227.0 1103.2h8v8h-8zM227.6 1103.6h8v8h-8zM228.1 1103.6h8v8h-8zM228.7 1104.6h8v8h-8zM229.2 1103.3h8v8h-8zM229.8 1104.4h8v8h-8zM230.3 1104.4h8v8h-8zM230.9 1103.4h8v8h-8zM231.4 1103.7h8v8h-8zM232.0 1105.3h8v8h-8zM232.5 1104.5h8v8h-8zM233.1 1104.9h8v8h-8zM233.6 1103.7h8v8h-8zM234.2 1104.9h8v8h-8zM234.7 1104.1h8v8h-8zM235.3 1103.5h8v8h-8zM235.8 1104.7h8v8h-8zM236.4 1105.1h8v8h-8zM236.9 1104.0h8v8h-8zM237.5 1103.7h8v8h-8zM238.0 1103.4h8v8h-8zM238.6 1103.6h8v8h-8zM239.1 1105.1h8v8h-8zM239.7 1105.2h8v8h-8zM240.2 1104.1h8v8h-8zM240.8 1105.0h8v8h-8zM241.3 1103.3h8v8h-8zM241.9 1104.1h8v8h-8zM242.4 1104.6h8v8h-8zM243.0 1103.1h8v8h-8zM243.5 1104.0h8v8h-8zM244.1 1104.0h8v8h-8zM244.6 1103.9h8v8h-8zM245.2 1104.7h8v8h-8zM245.7 1103.1h8v8h-8zM246.3 1104.7h8v8h-8zM246.8 1103.6h8v8h-8zM247.4 1105.5h8v8h-8zM247.9 1104.7h8v8h-8zM248.5 1104.0h8v8h-8zM249.0 1104.0h8v8h-8zM249.6 1104.8h8v8h-8zM250.1 1103.5h8v8h-8zM250.7 1104.0h8v8h-8zM251.2 1104.2h8v8h-8zM251.8 1103.5h8v8h-8zM252.3 1103.9h8v8h-8zM252.9 1103.9h8v8h-8zM253.4 1104.3h8v8h-8zM254.0 1105.4h8v8h-8z" fill="#604a7b"/>
<text x="43.9" y="1164.8" font-size="26.5" font-weight="normal" text-anchor="middle" >0</text>
<text x="90.0" y="1164.8" font-size="26.5" font-weight="normal" text-anchor="middle" >1</text>
<text x="136.1" y="1164.8" font-size="26.5" font-weight="normal" text-anchor="middle" >2</text>
<text x="182.3" y="1164.8" font-size="26.5" font-weight="normal" text-anchor="middle" >3</text>
<text x="228.4" y="1164.8" font-size="26.5" font-weight="normal" text-anchor="middle" >4</text>
<text x="274.5" y="1164.8" font-size="26.5" font-weight="normal" text-anchor="middle" >5</text>
<text x="125.7" y="1192" font-size="27.5" font-weight="bold">q(&#197;<tspan font-size="16" dy="-10.5">-1</tspan><tspan dy="10.5">)</tspan></text>
<path d="M224.6 1042.9l4.7 3.9l-4.7 3.9l-4.7 -3.9z" fill="none" stroke="#e46c0a" stroke-width="1.6" stroke-linejoin="miter"/>
<path d="M220.6 1073.7h8v8h-8z" fill="#604a7b"/>
<text x="237.6" y="1057.8" font-size="26.5" font-weight="normal" text-anchor="start" >X</text>
<text x="237.6" y="1088.7" font-size="26.5" font-weight="normal" text-anchor="start" >Y</text>
<path d="M351.3,934.5H581.9V1116.5H351.3Z" fill="none" stroke="#000" stroke-width="1.8"/>
<path d="M343.3,934.5H351.3M343.3,980.2H351.3M343.3,1025.7H351.3M343.3,1071.4H351.3M343.3,1116.5H351.3M351.3,1116.5V1124.0M374.4,1116.5V1122.0M397.4,1116.5V1124.0M420.5,1116.5V1122.0M443.5,1116.5V1124.0M466.6,1116.5V1122.0M489.7,1116.5V1124.0M512.7,1116.5V1122.0M535.8,1116.5V1124.0M558.8,1116.5V1122.0M581.9,1116.5V1124.0" fill="none" stroke="#000" stroke-width="1.4"/>
<path d="M357.0 1096.5l4.7 3.8l-4.7 3.8l-4.7 -3.8zM357.8 1096.2l4.7 3.8l-4.7 3.8l-4.7 -3.8zM358.5 1093.9l4.7 3.8l-4.7 3.8l-4.7 -3.8zM359.3 1093.5l4.7 3.8l-4.7 3.8l-4.7 -3.8zM360.1 1094.2l4.7 3.8l-4.7 3.8l-4.7 -3.8zM360.9 1092.5l4.7 3.8l-4.7 3.8l-4.7 -3.8zM361.6 1092.1l4.7 3.8l-4.7 3.8l-4.7 -3.8zM362.4 1089.3l4.7 3.8l-4.7 3.8l-4.7 -3.8zM363.2 1088.6l4.7 3.8l-4.7 3.8l-4.7 -3.8zM363.9 1086.3l4.7 3.8l-4.7 3.8l-4.7 -3.8zM364.7 1085.4l4.7 3.8l-4.7 3.8l-4.7 -3.8zM365.5 1083.8l4.7 3.8l-4.7 3.8l-4.7 -3.8zM366.2 1083.4l4.7 3.8l-4.7 3.8l-4.7 -3.8zM367.0 1082.6l4.7 3.8l-4.7 3.8l-4.7 -3.8zM367.8 1082.0l4.7 3.8l-4.7 3.8l-4.7 -3.8zM368.6 1081.6l4.7 3.8l-4.7 3.8l-4.7 -3.8zM369.3 1078.9l4.7 3.8l-4.7 3.8l-4.7 -3.8zM370.1 1077.3l4.7 3.8l-4.7 3.8l-4.7 -3.8zM370.9 1075.5l4.7 3.8l-4.7 3.8l-4.7 -3.8zM371.6 1075.0l4.7 3.8l-4.7 3.8l-4.7 -3.8zM372.4 1074.9l4.7 3.8l-4.7 3.8l-4.7 -3.8zM373.2 1073.0l4.7 3.8l-4.7 3.8l-4.7 -3.8zM373.9 1074.1l4.7 3.8l-4.7 3.8l-4.7 -3.8zM374.7 1070.7l4.7 3.8l-4.7 3.8l-4.7 -3.8zM375.5 1071.1l4.7 3.8l-4.7 3.8l-4.7 -3.8zM376.3 1069.6l4.7 3.8l-4.7 3.8l-4.7 -3.8zM377.0 1068.7l4.7 3.8l-4.7 3.8l-4.7 -3.8zM377.8 1069.3l4.7 3.8l-4.7 3.8l-4.7 -3.8zM378.6 1066.5l4.7 3.8l-4.7 3.8l-4.7 -3.8zM379.3 1066.1l4.7 3.8l-4.7 3.8l-4.7 -3.8zM380.1 1064.2l4.7 3.8l-4.7 3.8l-4.7 -3.8zM380.9 1062.4l4.7 3.8l-4.7 3.8l-4.7 -3.8zM381.6 1061.5l4.7 3.8l-4.7 3.8l-4.7 -3.8zM382.4 1058.6l4.7 3.8l-4.7 3.8l-4.7 -3.8zM383.2 1054.8l4.7 3.8l-4.7 3.8l-4.7 -3.8zM384.0 1054.9l4.7 3.8l-4.7 3.8l-4.7 -3.8zM384.7 1051.2l4.7 3.8l-4.7 3.8l-4.7 -3.8zM385.5 1047.6l4.7 3.8l-4.7 3.8l-4.7 -3.8zM386.3 1043.8l4.7 3.8l-4.7 3.8l-4.7 -3.8zM387.0 1042.3l4.7 3.8l-4.7 3.8l-4.7 -3.8zM387.8 1039.7l4.7 3.8l-4.7 3.8l-4.7 -3.8zM388.6 1039.7l4.7 3.8l-4.7 3.8l-4.7 -3.8zM389.4 1039.6l4.7 3.8l-4.7 3.8l-4.7 -3.8zM390.1 1039.9l4.7 3.8l-4.7 3.8l-4.7 -3.8zM390.9 1039.8l4.7 3.8l-4.7 3.8l-4.7 -3.8zM391.7 1038.9l4.7 3.8l-4.7 3.8l-4.7 -3.8zM392.4 1040.7l4.7 3.8l-4.7 3.8l-4.7 -3.8zM393.2 1042.4l4.7 3.8l-4.7 3.8l-4.7 -3.8zM394.0 1044.2l4.7 3.8l-4.7 3.8l-4.7 -3.8zM394.7 1045.8l4.7 3.8l-4.7 3.8l-4.7 -3.8zM395.5 1048.2l4.7 3.8l-4.7 3.8l-4.7 -3.8zM396.3 1047.6l4.7 3.8l-4.7 3.8l-4.7 -3.8zM397.1 1049.1l4.7 3.8l-4.7 3.8l-4.7 -3.8zM397.8 1048.0l4.7 3.8l-4.7 3.8l-4.7 -3.8zM398.6 1047.6l4.7 3.8l-4.7 3.8l-4.7 -3.8zM399.4 1048.3l4.7 3.8l-4.7 3.8l-4.7 -3.8zM400.1 1047.4l4.7 3.8l-4.7 3.8l-4.7 -3.8zM400.9 1047.6l4.7 3.8l-4.7 3.8l-4.7 -3.8zM401.7 1047.3l4.7 3.8l-4.7 3.8l-4.7 -3.8zM402.4 1044.3l4.7 3.8l-4.7 3.8l-4.7 -3.8zM403.2 1045.0l4.7 3.8l-4.7 3.8l-4.7 -3.8zM404.0 1045.1l4.7 3.8l-4.7 3.8l-4.7 -3.8zM404.8 1045.0l4.7 3.8l-4.7 3.8l-4.7 -3.8zM405.5 1044.5l4.7 3.8l-4.7 3.8l-4.7 -3.8zM406.3 1041.3l4.7 3.8l-4.7 3.8l-4.7 -3.8zM407.1 1040.8l4.7 3.8l-4.7 3.8l-4.7 -3.8zM407.8 1041.9l4.7 3.8l-4.7 3.8l-4.7 -3.8zM408.6 1039.1l4.7 3.8l-4.7 3.8l-4.7 -3.8zM409.4 1037.3l4.7 3.8l-4.7 3.8l-4.7 -3.8zM410.1 1037.0l4.7 3.8l-4.7 3.8l-4.7 -3.8zM410.9 1035.1l4.7 3.8l-4.7 3.8l-4.7 -3.8zM411.7 1032.4l4.7 3.8l-4.7 3.8l-4.7 -3.8zM412.5 1030.7l4.7 3.8l-4.7 3.8l-4.7 -3.8zM413.2 1026.2l4.7 3.8l-4.7 3.8l-4.7 -3.8zM414.0 1018.1l4.7 3.8l-4.7 3.8l-4.7 -3.8zM414.8 1013.2l4.7 3.8l-4.7 3.8l-4.7 -3.8zM415.5 1001.5l4.7 3.8l-4.7 3.8l-4.7 -3.8zM416.3 988.7l4.7 3.8l-4.7 3.8l-4.7 -3.8zM417.1 981.2l4.7 3.8l-4.7 3.8l-4.7 -3.8zM417.9 971.8l4.7 3.8l-4.7 3.8l-4.7 -3.8zM418.6 967.7l4.7 3.8l-4.7 3.8l-4.7 -3.8zM419.4 965.7l4.7 3.8l-4.7 3.8l-4.7 -3.8zM420.2 961.7l4.7 3.8l-4.7 3.8l-4.7 -3.8zM420.9 957.7l4.7 3.8l-4.7 3.8l-4.7 -3.8zM421.7 961.5l4.7 3.8l-4.7 3.8l-4.7 -3.8zM422.5 961.8l4.7 3.8l-4.7 3.8l-4.7 -3.8zM423.2 962.1l4.7 3.8l-4.7 3.8l-4.7 -3.8zM424.0 965.9l4.7 3.8l-4.7 3.8l-4.7 -3.8zM424.8 968.6l4.7 3.8l-4.7 3.8l-4.7 -3.8zM425.6 976.3l4.7 3.8l-4.7 3.8l-4.7 -3.8zM426.3 984.9l4.7 3.8l-4.7 3.8l-4.7 -3.8zM427.1 991.1l4.7 3.8l-4.7 3.8l-4.7 -3.8zM427.9 998.6l4.7 3.8l-4.7 3.8l-4.7 -3.8zM428.6 1003.6l4.7 3.8l-4.7 3.8l-4.7 -3.8zM429.4 1008.6l4.7 3.8l-4.7 3.8l-4.7 -3.8zM430.2 1013.9l4.7 3.8l-4.7 3.8l-4.7 -3.8zM430.9 1017.9l4.7 3.8l-4.7 3.8l-4.7 -3.8zM431.7 1024.3l4.7 3.8l-4.7 3.8l-4.7 -3.8zM432.5 1028.1l4.7 3.8l-4.7 3.8l-4.7 -3.8zM433.3 1030.3l4.7 3.8l-4.7 3.8l-4.7 -3.8zM434.0 1032.2l4.7 3.8l-4.7 3.8l-4.7 -3.8zM434.8 1035.6l4.7 3.8l-4.7 3.8l-4.7 -3.8zM435.6 1039.1l4.7 3.8l-4.7 3.8l-4.7 -3.8zM436.3 1042.0l4.7 3.8l-4.7 3.8l-4.7 -3.8zM437.1 1045.0l4.7 3.8l-4.7 3.8l-4.7 -3.8zM437.9 1046.8l4.7 3.8l-4.7 3.8l-4.7 -3.8zM438.6 1047.7l4.7 3.8l-4.7 3.8l-4.7 -3.8zM439.4 1048.4l4.7 3.8l-4.7 3.8l-4.7 -3.8zM440.2 1051.4l4.7 3.8l-4.7 3.8l-4.7 -3.8zM441.0 1050.4l4.7 3.8l-4.7 3.8l-4.7 -3.8zM441.7 1053.0l4.7 3.8l-4.7 3.8l-4.7 -3.8zM442.5 1053.6l4.7 3.8l-4.7 3.8l-4.7 -3.8zM443.3 1055.6l4.7 3.8l-4.7 3.8l-4.7 -3.8zM444.0 1055.8l4.7 3.8l-4.7 3.8l-4.7 -3.8zM444.8 1056.6l4.7 3.8l-4.7 3.8l-4.7 -3.8zM445.6 1058.3l4.7 3.8l-4.7 3.8l-4.7 -3.8zM446.4 1058.9l4.7 3.8l-4.7 3.8l-4.7 -3.8zM447.1 1058.1l4.7 3.8l-4.7 3.8l-4.7 -3.8zM447.9 1059.4l4.7 3.8l-4.7 3.8l-4.7 -3.8zM448.7 1061.8l4.7 3.8l-4.7 3.8l-4.7 -3.8zM449.4 1061.8l4.7 3.8l-4.7 3.8l-4.7 -3.8zM450.2 1063.2l4.7 3.8l-4.7 3.8l-4.7 -3.8zM451.0 1063.8l4.7 3.8l-4.7 3.8l-4.7 -3.8zM451.7 1064.0l4.7 3.8l-4.7 3.8l-4.7 -3.8zM452.5 1063.8l4.7 3.8l-4.7 3.8l-4.7 -3.8zM453.3 1063.0l4.7 3.8l-4.7 3.8l-4.7 -3.8zM454.1 1064.9l4.7 3.8l-4.7 3.8l-4.7 -3.8zM454.8 1064.6l4.7 3.8l-4.7 3.8l-4.7 -3.8zM455.6 1063.3l4.7 3.8l-4.7 3.8l-4.7 -3.8zM456.4 1065.7l4.7 3.8l-4.7 3.8l-4.7 -3.8zM457.1 1063.9l4.7 3.8l-4.7 3.8l-4.7 -3.8zM457.9 1064.0l4.7 3.8l-4.7 3.8l-4.7 -3.8zM458.7 1064.8l4.7 3.8l-4.7 3.8l-4.7 -3.8zM459.4 1064.3l4.7 3.8l-4.7 3.8l-4.7 -3.8zM460.2 1064.5l4.7 3.8l-4.7 3.8l-4.7 -3.8zM461.0 1065.7l4.7 3.8l-4.7 3.8l-4.7 -3.8zM461.8 1064.2l4.7 3.8l-4.7 3.8l-4.7 -3.8zM462.5 1064.6l4.7 3.8l-4.7 3.8l-4.7 -3.8zM463.3 1065.8l4.7 3.8l-4.7 3.8l-4.7 -3.8zM464.1 1066.3l4.7 3.8l-4.7 3.8l-4.7 -3.8zM464.8 1063.1l4.7 3.8l-4.7 3.8l-4.7 -3.8zM465.6 1063.9l4.7 3.8l-4.7 3.8l-4.7 -3.8zM466.4 1063.5l4.7 3.8l-4.7 3.8l-4.7 -3.8zM467.1 1062.3l4.7 3.8l-4.7 3.8l-4.7 -3.8zM467.9 1063.2l4.7 3.8l-4.7 3.8l-4.7 -3.8zM468.7 1062.7l4.7 3.8l-4.7 3.8l-4.7 -3.8zM469.5 1063.6l4.7 3.8l-4.7 3.8l-4.7 -3.8zM470.2 1061.3l4.7 3.8l-4.7 3.8l-4.7 -3.8zM471.0 1063.1l4.7 3.8l-4.7 3.8l-4.7 -3.8zM471.8 1062.1l4.7 3.8l-4.7 3.8l-4.7 -3.8zM472.5 1061.2l4.7 3.8l-4.7 3.8l-4.7 -3.8zM473.3 1060.6l4.7 3.8l-4.7 3.8l-4.7 -3.8zM474.1 1062.6l4.7 3.8l-4.7 3.8l-4.7 -3.8zM474.9 1061.3l4.7 3.8l-4.7 3.8l-4.7 -3.8zM475.6 1063.3l4.7 3.8l-4.7 3.8l-4.7 -3.8zM476.4 1062.5l4.7 3.8l-4.7 3.8l-4.7 -3.8zM477.2 1063.3l4.7 3.8l-4.7 3.8l-4.7 -3.8zM477.9 1061.3l4.7 3.8l-4.7 3.8l-4.7 -3.8zM478.7 1063.3l4.7 3.8l-4.7 3.8l-4.7 -3.8zM479.5 1061.9l4.7 3.8l-4.7 3.8l-4.7 -3.8zM480.2 1063.5l4.7 3.8l-4.7 3.8l-4.7 -3.8zM481.0 1061.7l4.7 3.8l-4.7 3.8l-4.7 -3.8zM481.8 1062.8l4.7 3.8l-4.7 3.8l-4.7 -3.8zM482.6 1063.0l4.7 3.8l-4.7 3.8l-4.7 -3.8zM483.3 1064.2l4.7 3.8l-4.7 3.8l-4.7 -3.8zM484.1 1064.8l4.7 3.8l-4.7 3.8l-4.7 -3.8zM484.9 1064.2l4.7 3.8l-4.7 3.8l-4.7 -3.8zM485.6 1063.2l4.7 3.8l-4.7 3.8l-4.7 -3.8zM486.4 1063.4l4.7 3.8l-4.7 3.8l-4.7 -3.8zM487.2 1063.6l4.7 3.8l-4.7 3.8l-4.7 -3.8zM487.9 1065.0l4.7 3.8l-4.7 3.8l-4.7 -3.8zM488.7 1065.5l4.7 3.8l-4.7 3.8l-4.7 -3.8zM489.5 1065.9l4.7 3.8l-4.7 3.8l-4.7 -3.8zM490.3 1066.6l4.7 3.8l-4.7 3.8l-4.7 -3.8zM491.0 1068.3l4.7 3.8l-4.7 3.8l-4.7 -3.8zM491.8 1067.0l4.7 3.8l-4.7 3.8l-4.7 -3.8zM492.6 1069.0l4.7 3.8l-4.7 3.8l-4.7 -3.8zM493.3 1068.4l4.7 3.8l-4.7 3.8l-4.7 -3.8zM494.1 1068.0l4.7 3.8l-4.7 3.8l-4.7 -3.8zM494.9 1068.0l4.7 3.8l-4.7 3.8l-4.7 -3.8zM495.6 1067.7l4.7 3.8l-4.7 3.8l-4.7 -3.8zM496.4 1070.5l4.7 3.8l-4.7 3.8l-4.7 -3.8zM497.2 1069.6l4.7 3.8l-4.7 3.8l-4.7 -3.8zM498.0 1069.5l4.7 3.8l-4.7 3.8l-4.7 -3.8zM498.7 1070.4l4.7 3.8l-4.7 3.8l-4.7 -3.8zM499.5 1071.8l4.7 3.8l-4.7 3.8l-4.7 -3.8zM500.3 1069.9l4.7 3.8l-4.7 3.8l-4.7 -3.8zM501.0 1070.6l4.7 3.8l-4.7 3.8l-4.7 -3.8zM501.8 1070.9l4.7 3.8l-4.7 3.8l-4.7 -3.8zM502.6 1070.7l4.7 3.8l-4.7 3.8l-4.7 -3.8zM503.4 1072.1l4.7 3.8l-4.7 3.8l-4.7 -3.8zM504.1 1072.9l4.7 3.8l-4.7 3.8l-4.7 -3.8zM504.9 1071.2l4.7 3.8l-4.7 3.8l-4.7 -3.8zM505.7 1070.5l4.7 3.8l-4.7 3.8l-4.7 -3.8zM506.4 1071.0l4.7 3.8l-4.7 3.8l-4.7 -3.8zM507.2 1070.9l4.7 3.8l-4.7 3.8l-4.7 -3.8zM508.0 1071.7l4.7 3.8l-4.7 3.8l-4.7 -3.8zM508.7 1071.5l4.7 3.8l-4.7 3.8l-4.7 -3.8zM509.5 1072.9l4.7 3.8l-4.7 3.8l-4.7 -3.8zM510.3 1074.0l4.7 3.8l-4.7 3.8l-4.7 -3.8zM511.1 1072.5l4.7 3.8l-4.7 3.8l-4.7 -3.8zM511.8 1074.3l4.7 3.8l-4.7 3.8l-4.7 -3.8zM512.6 1074.1l4.7 3.8l-4.7 3.8l-4.7 -3.8zM513.4 1074.7l4.7 3.8l-4.7 3.8l-4.7 -3.8zM514.1 1073.8l4.7 3.8l-4.7 3.8l-4.7 -3.8zM514.9 1072.3l4.7 3.8l-4.7 3.8l-4.7 -3.8zM515.7 1074.2l4.7 3.8l-4.7 3.8l-4.7 -3.8zM516.4 1074.3l4.7 3.8l-4.7 3.8l-4.7 -3.8zM517.2 1073.7l4.7 3.8l-4.7 3.8l-4.7 -3.8zM518.0 1073.6l4.7 3.8l-4.7 3.8l-4.7 -3.8zM518.8 1074.1l4.7 3.8l-4.7 3.8l-4.7 -3.8zM519.5 1073.2l4.7 3.8l-4.7 3.8l-4.7 -3.8zM520.3 1072.7l4.7 3.8l-4.7 3.8l-4.7 -3.8zM521.1 1074.0l4.7 3.8l-4.7 3.8l-4.7 -3.8zM521.8 1072.9l4.7 3.8l-4.7 3.8l-4.7 -3.8zM522.6 1074.1l4.7 3.8l-4.7 3.8l-4.7 -3.8zM523.4 1073.8l4.7 3.8l-4.7 3.8l-4.7 -3.8zM524.1 1075.5l4.7 3.8l-4.7 3.8l-4.7 -3.8zM524.9 1075.9l4.7 3.8l-4.7 3.8l-4.7 -3.8zM525.7 1076.0l4.7 3.8l-4.7 3.8l-4.7 -3.8zM526.5 1073.9l4.7 3.8l-4.7 3.8l-4.7 -3.8zM527.2 1075.1l4.7 3.8l-4.7 3.8l-4.7 -3.8zM528.0 1076.4l4.7 3.8l-4.7 3.8l-4.7 -3.8zM528.8 1076.0l4.7 3.8l-4.7 3.8l-4.7 -3.8zM529.5 1073.9l4.7 3.8l-4.7 3.8l-4.7 -3.8zM530.3 1074.3l4.7 3.8l-4.7 3.8l-4.7 -3.8zM531.1 1075.7l4.7 3.8l-4.7 3.8l-4.7 -3.8zM531.9 1075.4l4.7 3.8l-4.7 3.8l-4.7 -3.8zM532.6 1074.4l4.7 3.8l-4.7 3.8l-4.7 -3.8zM533.4 1074.6l4.7 3.8l-4.7 3.8l-4.7 -3.8zM534.2 1076.3l4.7 3.8l-4.7 3.8l-4.7 -3.8zM534.9 1074.6l4.7 3.8l-4.7 3.8l-4.7 -3.8zM535.7 1077.5l4.7 3.8l-4.7 3.8l-4.7 -3.8zM536.5 1075.7l4.7 3.8l-4.7 3.8l-4.7 -3.8zM537.2 1075.6l4.7 3.8l-4.7 3.8l-4.7 -3.8zM538.0 1074.6l4.7 3.8l-4.7 3.8l-4.7 -3.8zM538.8 1073.5l4.7 3.8l-4.7 3.8l-4.7 -3.8zM539.6 1071.5l4.7 3.8l-4.7 3.8l-4.7 -3.8zM540.3 1072.9l4.7 3.8l-4.7 3.8l-4.7 -3.8zM541.1 1072.1l4.7 3.8l-4.7 3.8l-4.7 -3.8zM541.9 1070.8l4.7 3.8l-4.7 3.8l-4.7 -3.8zM542.6 1069.6l4.7 3.8l-4.7 3.8l-4.7 -3.8zM543.4 1069.3l4.7 3.8l-4.7 3.8l-4.7 -3.8zM544.2 1068.3l4.7 3.8l-4.7 3.8l-4.7 -3.8zM544.9 1067.1l4.7 3.8l-4.7 3.8l-4.7 -3.8zM545.7 1066.6l4.7 3.8l-4.7 3.8l-4.7 -3.8zM546.5 1069.2l4.7 3.8l-4.7 3.8l-4.7 -3.8zM547.3 1070.4l4.7 3.8l-4.7 3.8l-4.7 -3.8zM548.0 1069.4l4.7 3.8l-4.7 3.8l-4.7 -3.8zM548.8 1071.7l4.7 3.8l-4.7 3.8l-4.7 -3.8zM549.6 1072.1l4.7 3.8l-4.7 3.8l-4.7 -3.8zM550.3 1072.3l4.7 3.8l-4.7 3.8l-4.7 -3.8zM551.1 1072.9l4.7 3.8l-4.7 3.8l-4.7 -3.8zM551.9 1073.6l4.7 3.8l-4.7 3.8l-4.7 -3.8zM552.6 1073.8l4.7 3.8l-4.7 3.8l-4.7 -3.8zM553.4 1074.5l4.7 3.8l-4.7 3.8l-4.7 -3.8zM554.2 1074.9l4.7 3.8l-4.7 3.8l-4.7 -3.8zM555.0 1074.0l4.7 3.8l-4.7 3.8l-4.7 -3.8zM555.7 1075.5l4.7 3.8l-4.7 3.8l-4.7 -3.8zM556.5 1077.6l4.7 3.8l-4.7 3.8l-4.7 -3.8z" fill="none" stroke="#e46c0a" stroke-width="1.6" stroke-linejoin="miter"/>
<path d="M357.0 1093.9h8v8h-8zM357.5 1092.1h8v8h-8zM358.1 1095.5h8v8h-8zM358.6 1092.2h8v8h-8zM359.2 1097.5h8v8h-8zM359.7 1097.1h8v8h-8zM360.2 1089.6h8v8h-8zM360.8 1088.2h8v8h-8zM361.3 1094.0h8v8h-8zM361.9 1091.1h8v8h-8zM362.4 1086.7h8v8h-8zM362.9 1086.3h8v8h-8zM363.5 1084.5h8v8h-8zM364.0 1086.3h8v8h-8zM364.6 1085.4h8v8h-8zM365.1 1086.5h8v8h-8zM365.6 1082.4h8v8h-8zM366.2 1084.1h8v8h-8zM366.7 1076.5h8v8h-8zM367.3 1080.7h8v8h-8zM367.8 1079.5h8v8h-8zM368.3 1081.2h8v8h-8zM368.9 1076.6h8v8h-8zM369.4 1078.5h8v8h-8zM369.9 1072.6h8v8h-8zM370.5 1077.5h8v8h-8zM371.0 1075.8h8v8h-8zM371.6 1070.7h8v8h-8zM372.1 1073.0h8v8h-8zM372.6 1076.0h8v8h-8zM373.2 1071.2h8v8h-8zM373.7 1072.0h8v8h-8zM374.3 1074.0h8v8h-8zM374.8 1066.1h8v8h-8zM375.3 1065.0h8v8h-8zM375.9 1067.4h8v8h-8zM376.4 1066.7h8v8h-8zM377.0 1068.9h8v8h-8zM377.5 1063.9h8v8h-8zM378.0 1064.0h8v8h-8zM378.6 1063.3h8v8h-8zM379.1 1058.8h8v8h-8zM379.7 1062.3h8v8h-8zM380.2 1055.1h8v8h-8zM380.7 1051.2h8v8h-8zM381.3 1051.6h8v8h-8zM381.8 1051.6h8v8h-8zM382.4 1050.5h8v8h-8zM382.9 1046.3h8v8h-8zM383.4 1042.5h8v8h-8zM384.0 1043.4h8v8h-8zM384.5 1042.7h8v8h-8zM385.1 1042.3h8v8h-8zM385.6 1039.2h8v8h-8zM386.1 1044.8h8v8h-8zM386.7 1039.3h8v8h-8zM387.2 1045.4h8v8h-8zM387.8 1044.5h8v8h-8zM388.3 1045.4h8v8h-8zM388.8 1041.6h8v8h-8zM389.4 1047.7h8v8h-8zM389.9 1044.7h8v8h-8zM390.5 1047.4h8v8h-8zM391.0 1052.1h8v8h-8zM391.5 1050.3h8v8h-8zM392.1 1055.1h8v8h-8zM392.6 1054.9h8v8h-8zM393.2 1055.4h8v8h-8zM393.7 1051.0h8v8h-8zM394.2 1053.0h8v8h-8zM394.8 1052.0h8v8h-8zM395.3 1052.0h8v8h-8zM395.8 1052.4h8v8h-8zM396.4 1046.8h8v8h-8zM396.9 1053.5h8v8h-8zM397.5 1052.7h8v8h-8zM398.0 1051.4h8v8h-8zM398.5 1047.7h8v8h-8zM399.1 1047.2h8v8h-8zM399.6 1049.2h8v8h-8zM400.2 1047.2h8v8h-8zM400.7 1051.8h8v8h-8zM401.2 1051.4h8v8h-8zM401.8 1047.5h8v8h-8zM402.3 1045.7h8v8h-8zM402.9 1043.9h8v8h-8zM403.4 1048.3h8v8h-8zM403.9 1041.8h8v8h-8zM404.5 1044.7h8v8h-8zM405.0 1040.6h8v8h-8zM405.6 1041.1h8v8h-8zM406.1 1043.9h8v8h-8zM406.6 1037.6h8v8h-8zM407.2 1034.6h8v8h-8zM407.7 1037.7h8v8h-8zM408.3 1031.7h8v8h-8zM408.8 1033.3h8v8h-8zM409.3 1033.2h8v8h-8zM409.9 1025.4h8v8h-8zM410.4 1027.2h8v8h-8zM411.0 1017.8h8v8h-8zM411.5 1021.5h8v8h-8zM412.0 1018.1h8v8h-8zM412.6 1004.9h8v8h-8zM413.1 999.5h8v8h-8zM413.7 993.7h8v8h-8zM414.2 984.9h8v8h-8zM414.7 983.3h8v8h-8zM415.3 977.7h8v8h-8zM415.8 969.9h8v8h-8zM416.4 963.7h8v8h-8zM416.9 965.5h8v8h-8zM417.4 965.3h8v8h-8zM418.0 961.9h8v8h-8zM418.5 968.3h8v8h-8zM419.1 964.3h8v8h-8zM419.6 970.9h8v8h-8zM420.1 972.5h8v8h-8zM420.7 968.1h8v8h-8zM421.2 975.6h8v8h-8zM421.7 972.7h8v8h-8zM422.3 979.2h8v8h-8zM422.8 985.6h8v8h-8zM423.4 994.9h8v8h-8zM423.9 995.9h8v8h-8zM424.4 995.9h8v8h-8zM425.0 1000.6h8v8h-8zM425.5 1007.4h8v8h-8zM426.1 1008.9h8v8h-8zM426.6 1008.8h8v8h-8zM427.1 1013.3h8v8h-8zM427.7 1020.0h8v8h-8zM428.2 1019.9h8v8h-8zM428.8 1027.4h8v8h-8zM429.3 1027.5h8v8h-8zM429.8 1033.2h8v8h-8zM430.4 1031.4h8v8h-8zM430.9 1036.7h8v8h-8zM431.5 1033.9h8v8h-8zM432.0 1037.8h8v8h-8zM432.5 1037.0h8v8h-8zM433.1 1045.7h8v8h-8zM433.6 1042.8h8v8h-8zM434.2 1048.8h8v8h-8zM434.7 1043.8h8v8h-8zM435.2 1050.0h8v8h-8zM435.8 1050.6h8v8h-8zM436.3 1050.6h8v8h-8zM436.9 1051.3h8v8h-8zM437.4 1056.2h8v8h-8zM437.9 1057.6h8v8h-8zM438.5 1059.1h8v8h-8zM439.0 1059.9h8v8h-8zM439.6 1060.8h8v8h-8zM440.1 1062.9h8v8h-8zM440.6 1062.7h8v8h-8zM441.2 1059.5h8v8h-8zM441.7 1058.7h8v8h-8zM442.3 1061.3h8v8h-8zM442.8 1059.7h8v8h-8zM443.3 1064.5h8v8h-8zM443.9 1067.0h8v8h-8zM444.4 1062.8h8v8h-8zM445.0 1064.9h8v8h-8zM445.5 1068.4h8v8h-8zM446.0 1064.3h8v8h-8zM446.6 1062.5h8v8h-8zM447.1 1067.2h8v8h-8zM447.6 1070.9h8v8h-8zM448.2 1066.4h8v8h-8zM448.7 1065.0h8v8h-8zM449.3 1068.5h8v8h-8zM449.8 1067.2h8v8h-8zM450.3 1066.4h8v8h-8zM450.9 1067.5h8v8h-8zM451.4 1068.5h8v8h-8zM452.0 1064.5h8v8h-8zM452.5 1067.0h8v8h-8zM453.0 1071.4h8v8h-8zM453.6 1070.6h8v8h-8zM454.1 1068.7h8v8h-8zM454.7 1064.8h8v8h-8zM455.2 1069.9h8v8h-8zM455.7 1067.7h8v8h-8zM456.3 1071.3h8v8h-8zM456.8 1065.3h8v8h-8zM457.4 1070.1h8v8h-8zM457.9 1065.3h8v8h-8zM458.4 1065.3h8v8h-8zM459.0 1070.1h8v8h-8zM459.5 1068.5h8v8h-8zM460.1 1066.2h8v8h-8zM460.6 1071.1h8v8h-8zM461.1 1070.0h8v8h-8zM461.7 1070.5h8v8h-8zM462.2 1069.1h8v8h-8zM462.8 1068.1h8v8h-8zM463.3 1071.2h8v8h-8zM463.8 1067.5h8v8h-8zM464.4 1063.8h8v8h-8zM464.9 1064.6h8v8h-8zM465.5 1062.6h8v8h-8zM466.0 1069.3h8v8h-8zM466.5 1067.8h8v8h-8zM467.1 1063.7h8v8h-8zM467.6 1064.0h8v8h-8zM468.2 1064.2h8v8h-8zM468.7 1065.8h8v8h-8zM469.2 1069.2h8v8h-8zM469.8 1069.3h8v8h-8zM470.3 1068.5h8v8h-8zM470.9 1066.0h8v8h-8zM471.4 1067.9h8v8h-8zM471.9 1063.5h8v8h-8zM472.5 1066.3h8v8h-8zM473.0 1066.0h8v8h-8zM473.5 1068.3h8v8h-8zM474.1 1066.0h8v8h-8zM474.6 1064.4h8v8h-8zM475.2 1068.6h8v8h-8zM475.7 1066.1h8v8h-8zM476.2 1068.0h8v8h-8zM476.8 1067.1h8v8h-8zM477.3 1068.7h8v8h-8zM477.9 1065.5h8v8h-8zM478.4 1063.9h8v8h-8zM478.9 1069.1h8v8h-8zM479.5 1064.7h8v8h-8zM480.0 1064.4h8v8h-8zM480.6 1064.7h8v8h-8zM481.1 1065.7h8v8h-8zM481.6 1066.0h8v8h-8zM482.2 1071.6h8v8h-8zM482.7 1070.4h8v8h-8zM483.3 1069.1h8v8h-8zM483.8 1072.5h8v8h-8zM484.3 1065.3h8v8h-8zM484.9 1068.0h8v8h-8zM485.4 1069.2h8v8h-8zM486.0 1066.2h8v8h-8zM486.5 1068.7h8v8h-8zM487.0 1073.7h8v8h-8zM487.6 1068.5h8v8h-8zM488.1 1070.0h8v8h-8zM488.7 1068.8h8v8h-8zM489.2 1072.3h8v8h-8zM489.7 1070.3h8v8h-8zM490.3 1074.4h8v8h-8zM490.8 1071.2h8v8h-8zM491.4 1075.0h8v8h-8zM491.9 1072.8h8v8h-8zM492.4 1070.3h8v8h-8zM493.0 1074.4h8v8h-8zM493.5 1077.2h8v8h-8zM494.1 1070.3h8v8h-8zM494.6 1072.2h8v8h-8zM495.1 1077.1h8v8h-8zM495.7 1074.6h8v8h-8zM496.2 1072.3h8v8h-8zM496.8 1074.3h8v8h-8zM497.3 1072.6h8v8h-8zM497.8 1071.5h8v8h-8zM498.4 1072.3h8v8h-8zM498.9 1075.8h8v8h-8zM499.4 1078.1h8v8h-8zM500.0 1076.8h8v8h-8zM500.5 1073.0h8v8h-8zM501.1 1078.3h8v8h-8zM501.6 1079.8h8v8h-8zM502.1 1075.7h8v8h-8zM502.7 1075.4h8v8h-8zM503.2 1080.0h8v8h-8zM503.8 1077.4h8v8h-8zM504.3 1074.1h8v8h-8zM504.8 1079.5h8v8h-8zM505.4 1078.3h8v8h-8zM505.9 1081.3h8v8h-8zM506.5 1080.1h8v8h-8zM507.0 1076.5h8v8h-8zM507.5 1077.3h8v8h-8zM508.1 1074.4h8v8h-8zM508.6 1077.2h8v8h-8zM509.2 1077.9h8v8h-8zM509.7 1076.6h8v8h-8zM510.2 1074.5h8v8h-8zM510.8 1074.9h8v8h-8zM511.3 1079.8h8v8h-8zM511.9 1082.2h8v8h-8zM512.4 1082.1h8v8h-8zM512.9 1080.2h8v8h-8zM513.5 1079.4h8v8h-8zM514.0 1082.0h8v8h-8zM514.6 1079.5h8v8h-8zM515.1 1077.0h8v8h-8zM515.6 1082.2h8v8h-8zM516.2 1075.2h8v8h-8zM516.7 1082.9h8v8h-8zM517.3 1076.6h8v8h-8zM517.8 1082.2h8v8h-8zM518.3 1079.7h8v8h-8zM518.9 1078.4h8v8h-8zM519.4 1075.2h8v8h-8zM520.0 1075.7h8v8h-8zM520.5 1076.2h8v8h-8zM521.0 1082.2h8v8h-8zM521.6 1075.8h8v8h-8zM522.1 1079.5h8v8h-8zM522.7 1076.8h8v8h-8zM523.2 1082.2h8v8h-8zM523.7 1082.8h8v8h-8zM524.3 1078.0h8v8h-8zM524.8 1079.7h8v8h-8zM525.3 1080.6h8v8h-8zM525.9 1080.2h8v8h-8zM526.4 1084.1h8v8h-8zM527.0 1076.4h8v8h-8zM527.5 1078.9h8v8h-8zM528.0 1079.8h8v8h-8zM528.6 1083.9h8v8h-8zM529.1 1083.7h8v8h-8zM529.7 1082.6h8v8h-8zM530.2 1079.2h8v8h-8zM530.7 1078.5h8v8h-8zM531.3 1081.7h8v8h-8zM531.8 1078.4h8v8h-8zM532.4 1083.7h8v8h-8zM532.9 1085.0h8v8h-8zM533.4 1079.0h8v8h-8zM534.0 1083.2h8v8h-8zM534.5 1082.6h8v8h-8zM535.1 1081.7h8v8h-8zM535.6 1085.0h8v8h-8zM536.1 1082.9h8v8h-8zM536.7 1081.7h8v8h-8zM537.2 1082.4h8v8h-8zM537.8 1081.3h8v8h-8zM538.3 1081.5h8v8h-8zM538.8 1081.0h8v8h-8zM539.4 1081.6h8v8h-8zM539.9 1086.0h8v8h-8zM540.5 1078.5h8v8h-8zM541.0 1081.6h8v8h-8zM541.5 1083.2h8v8h-8zM542.1 1080.5h8v8h-8zM542.6 1085.6h8v8h-8zM543.2 1081.0h8v8h-8zM543.7 1081.4h8v8h-8zM544.2 1086.0h8v8h-8zM544.8 1080.9h8v8h-8zM545.3 1084.7h8v8h-8zM545.9 1082.9h8v8h-8zM546.4 1081.1h8v8h-8zM546.9 1086.3h8v8h-8zM547.5 1080.4h8v8h-8zM548.0 1087.4h8v8h-8zM548.6 1083.3h8v8h-8zM549.1 1080.2h8v8h-8zM549.6 1080.4h8v8h-8zM550.2 1085.2h8v8h-8zM550.7 1087.1h8v8h-8zM551.2 1085.0h8v8h-8zM551.8 1084.9h8v8h-8zM552.3 1082.3h8v8h-8zM552.9 1086.2h8v8h-8zM553.4 1082.3h8v8h-8zM553.9 1085.1h8v8h-8zM554.5 1084.2h8v8h-8zM555.0 1082.2h8v8h-8zM555.6 1083.5h8v8h-8zM556.1 1088.5h8v8h-8zM556.6 1085.7h8v8h-8zM557.2 1084.0h8v8h-8zM557.7 1085.8h8v8h-8zM558.3 1080.9h8v8h-8zM558.8 1085.0h8v8h-8zM559.3 1082.9h8v8h-8zM559.9 1087.6h8v8h-8zM560.4 1082.4h8v8h-8zM561.0 1082.5h8v8h-8zM561.5 1081.4h8v8h-8z" fill="#604a7b"/>
<text x="351.3" y="1164.8" font-size="26.5" font-weight="normal" text-anchor="middle" >0</text>
<text x="397.4" y="1164.8" font-size="26.5" font-weight="normal" text-anchor="middle" >1</text>
<text x="443.5" y="1164.8" font-size="26.5" font-weight="normal" text-anchor="middle" >2</text>
<text x="489.7" y="1164.8" font-size="26.5" font-weight="normal" text-anchor="middle" >3</text>
<text x="535.8" y="1164.8" font-size="26.5" font-weight="normal" text-anchor="middle" >4</text>
<text x="581.9" y="1164.8" font-size="26.5" font-weight="normal" text-anchor="middle" >5</text>
<text x="433.1" y="1192" font-size="27.5" font-weight="bold">q(&#197;<tspan font-size="16" dy="-10.5">-1</tspan><tspan dy="10.5">)</tspan></text>
<path d="M496.3 981.3l4.7 3.9l-4.7 3.9l-4.7 -3.9z" fill="none" stroke="#e46c0a" stroke-width="1.6" stroke-linejoin="miter"/>
<path d="M492.3 1012.0h8v8h-8z" fill="#604a7b"/>
<text x="509.3" y="994.7" font-size="26.5" font-weight="normal" text-anchor="start" >X</text>
<text x="509.3" y="1025.5" font-size="26.5" font-weight="normal" text-anchor="start" >Y</text>
<path d="M636.6,934.8H867.2V1116.5H636.6Z" fill="none" stroke="#000" stroke-width="1.8"/>
<path d="M628.6,934.8H636.6M628.6,971.1H636.6M628.6,1007.5H636.6M628.6,1043.8H636.6M628.6,1080.2H636.6M628.6,1116.5H636.6M636.6,1116.5V1124.0M659.7,1116.5V1122.0M682.7,1116.5V1124.0M705.8,1116.5V1122.0M728.8,1116.5V1124.0M751.9,1116.5V1122.0M775.0,1116.5V1124.0M798.0,1116.5V1122.0M821.1,1116.5V1124.0M844.1,1116.5V1122.0M867.2,1116.5V1124.0" fill="none" stroke="#000" stroke-width="1.4"/>
<path d="M642.6 1103.7l4.7 3.8l-4.7 3.8l-4.7 -3.8zM643.4 1101.0l4.7 3.8l-4.7 3.8l-4.7 -3.8zM644.1 1098.9l4.7 3.8l-4.7 3.8l-4.7 -3.8zM644.9 1097.6l4.7 3.8l-4.7 3.8l-4.7 -3.8zM645.7 1096.9l4.7 3.8l-4.7 3.8l-4.7 -3.8zM646.4 1092.1l4.7 3.8l-4.7 3.8l-4.7 -3.8zM647.2 1088.9l4.7 3.8l-4.7 3.8l-4.7 -3.8zM648.0 1083.9l4.7 3.8l-4.7 3.8l-4.7 -3.8zM648.8 1079.6l4.7 3.8l-4.7 3.8l-4.7 -3.8zM649.5 1076.7l4.7 3.8l-4.7 3.8l-4.7 -3.8zM650.3 1072.6l4.7 3.8l-4.7 3.8l-4.7 -3.8zM651.1 1068.3l4.7 3.8l-4.7 3.8l-4.7 -3.8zM651.8 1065.5l4.7 3.8l-4.7 3.8l-4.7 -3.8zM652.6 1062.3l4.7 3.8l-4.7 3.8l-4.7 -3.8zM653.4 1059.8l4.7 3.8l-4.7 3.8l-4.7 -3.8zM654.1 1059.2l4.7 3.8l-4.7 3.8l-4.7 -3.8zM654.9 1058.8l4.7 3.8l-4.7 3.8l-4.7 -3.8zM655.7 1059.9l4.7 3.8l-4.7 3.8l-4.7 -3.8zM656.5 1059.6l4.7 3.8l-4.7 3.8l-4.7 -3.8zM657.2 1061.6l4.7 3.8l-4.7 3.8l-4.7 -3.8zM658.0 1064.1l4.7 3.8l-4.7 3.8l-4.7 -3.8zM658.8 1066.0l4.7 3.8l-4.7 3.8l-4.7 -3.8zM659.5 1069.6l4.7 3.8l-4.7 3.8l-4.7 -3.8zM660.3 1074.7l4.7 3.8l-4.7 3.8l-4.7 -3.8zM661.1 1077.4l4.7 3.8l-4.7 3.8l-4.7 -3.8zM661.8 1079.6l4.7 3.8l-4.7 3.8l-4.7 -3.8zM662.6 1080.1l4.7 3.8l-4.7 3.8l-4.7 -3.8zM663.4 1083.1l4.7 3.8l-4.7 3.8l-4.7 -3.8zM664.2 1086.6l4.7 3.8l-4.7 3.8l-4.7 -3.8zM664.9 1086.7l4.7 3.8l-4.7 3.8l-4.7 -3.8zM665.7 1089.6l4.7 3.8l-4.7 3.8l-4.7 -3.8zM666.5 1088.9l4.7 3.8l-4.7 3.8l-4.7 -3.8zM667.2 1092.0l4.7 3.8l-4.7 3.8l-4.7 -3.8zM668.0 1092.5l4.7 3.8l-4.7 3.8l-4.7 -3.8zM668.8 1092.2l4.7 3.8l-4.7 3.8l-4.7 -3.8zM669.5 1093.2l4.7 3.8l-4.7 3.8l-4.7 -3.8zM670.3 1091.2l4.7 3.8l-4.7 3.8l-4.7 -3.8zM671.1 1093.6l4.7 3.8l-4.7 3.8l-4.7 -3.8zM671.9 1093.4l4.7 3.8l-4.7 3.8l-4.7 -3.8zM672.6 1092.6l4.7 3.8l-4.7 3.8l-4.7 -3.8zM673.4 1092.4l4.7 3.8l-4.7 3.8l-4.7 -3.8zM674.2 1092.5l4.7 3.8l-4.7 3.8l-4.7 -3.8zM674.9 1093.8l4.7 3.8l-4.7 3.8l-4.7 -3.8zM675.7 1094.2l4.7 3.8l-4.7 3.8l-4.7 -3.8zM676.5 1093.2l4.7 3.8l-4.7 3.8l-4.7 -3.8zM677.2 1093.9l4.7 3.8l-4.7 3.8l-4.7 -3.8zM678.0 1093.1l4.7 3.8l-4.7 3.8l-4.7 -3.8zM678.8 1093.7l4.7 3.8l-4.7 3.8l-4.7 -3.8zM679.6 1091.2l4.7 3.8l-4.7 3.8l-4.7 -3.8zM680.3 1091.7l4.7 3.8l-4.7 3.8l-4.7 -3.8zM681.1 1091.4l4.7 3.8l-4.7 3.8l-4.7 -3.8zM681.9 1092.0l4.7 3.8l-4.7 3.8l-4.7 -3.8zM682.6 1088.9l4.7 3.8l-4.7 3.8l-4.7 -3.8zM683.4 1088.4l4.7 3.8l-4.7 3.8l-4.7 -3.8zM684.2 1087.7l4.7 3.8l-4.7 3.8l-4.7 -3.8zM684.9 1088.5l4.7 3.8l-4.7 3.8l-4.7 -3.8zM685.7 1085.8l4.7 3.8l-4.7 3.8l-4.7 -3.8zM686.5 1085.9l4.7 3.8l-4.7 3.8l-4.7 -3.8zM687.3 1084.7l4.7 3.8l-4.7 3.8l-4.7 -3.8zM688.0 1082.7l4.7 3.8l-4.7 3.8l-4.7 -3.8zM688.8 1082.3l4.7 3.8l-4.7 3.8l-4.7 -3.8zM689.6 1079.6l4.7 3.8l-4.7 3.8l-4.7 -3.8zM690.3 1078.4l4.7 3.8l-4.7 3.8l-4.7 -3.8zM691.1 1076.0l4.7 3.8l-4.7 3.8l-4.7 -3.8zM691.9 1074.2l4.7 3.8l-4.7 3.8l-4.7 -3.8zM692.6 1072.6l4.7 3.8l-4.7 3.8l-4.7 -3.8zM693.4 1068.4l4.7 3.8l-4.7 3.8l-4.7 -3.8zM694.2 1066.9l4.7 3.8l-4.7 3.8l-4.7 -3.8zM695.0 1063.6l4.7 3.8l-4.7 3.8l-4.7 -3.8zM695.7 1060.7l4.7 3.8l-4.7 3.8l-4.7 -3.8zM696.5 1055.2l4.7 3.8l-4.7 3.8l-4.7 -3.8zM697.3 1051.2l4.7 3.8l-4.7 3.8l-4.7 -3.8zM698.0 1048.0l4.7 3.8l-4.7 3.8l-4.7 -3.8zM698.8 1044.7l4.7 3.8l-4.7 3.8l-4.7 -3.8zM699.6 1039.6l4.7 3.8l-4.7 3.8l-4.7 -3.8zM700.3 1032.3l4.7 3.8l-4.7 3.8l-4.7 -3.8zM701.1 1023.6l4.7 3.8l-4.7 3.8l-4.7 -3.8zM701.9 1018.1l4.7 3.8l-4.7 3.8l-4.7 -3.8zM702.7 1005.1l4.7 3.8l-4.7 3.8l-4.7 -3.8zM703.4 984.1l4.7 3.8l-4.7 3.8l-4.7 -3.8zM704.2 968.7l4.7 3.8l-4.7 3.8l-4.7 -3.8zM705.0 956.3l4.7 3.8l-4.7 3.8l-4.7 -3.8zM705.7 950.2l4.7 3.8l-4.7 3.8l-4.7 -3.8zM706.5 960.4l4.7 3.8l-4.7 3.8l-4.7 -3.8zM707.3 988.4l4.7 3.8l-4.7 3.8l-4.7 -3.8zM708.0 1010.9l4.7 3.8l-4.7 3.8l-4.7 -3.8zM708.8 1027.2l4.7 3.8l-4.7 3.8l-4.7 -3.8zM709.6 1038.1l4.7 3.8l-4.7 3.8l-4.7 -3.8zM710.3 1048.8l4.7 3.8l-4.7 3.8l-4.7 -3.8zM711.1 1049.7l4.7 3.8l-4.7 3.8l-4.7 -3.8zM711.9 1055.3l4.7 3.8l-4.7 3.8l-4.7 -3.8zM712.7 1057.9l4.7 3.8l-4.7 3.8l-4.7 -3.8zM713.4 1060.2l4.7 3.8l-4.7 3.8l-4.7 -3.8zM714.2 1062.3l4.7 3.8l-4.7 3.8l-4.7 -3.8zM715.0 1063.9l4.7 3.8l-4.7 3.8l-4.7 -3.8zM715.7 1066.5l4.7 3.8l-4.7 3.8l-4.7 -3.8zM716.5 1070.8l4.7 3.8l-4.7 3.8l-4.7 -3.8zM717.3 1073.8l4.7 3.8l-4.7 3.8l-4.7 -3.8zM718.0 1076.7l4.7 3.8l-4.7 3.8l-4.7 -3.8zM718.8 1075.4l4.7 3.8l-4.7 3.8l-4.7 -3.8zM719.6 1079.0l4.7 3.8l-4.7 3.8l-4.7 -3.8zM720.4 1079.6l4.7 3.8l-4.7 3.8l-4.7 -3.8zM721.1 1079.9l4.7 3.8l-4.7 3.8l-4.7 -3.8zM721.9 1083.4l4.7 3.8l-4.7 3.8l-4.7 -3.8zM722.7 1083.3l4.7 3.8l-4.7 3.8l-4.7 -3.8zM723.4 1084.3l4.7 3.8l-4.7 3.8l-4.7 -3.8zM724.2 1087.1l4.7 3.8l-4.7 3.8l-4.7 -3.8zM725.0 1086.4l4.7 3.8l-4.7 3.8l-4.7 -3.8zM725.7 1087.5l4.7 3.8l-4.7 3.8l-4.7 -3.8zM726.5 1087.6l4.7 3.8l-4.7 3.8l-4.7 -3.8zM727.3 1089.1l4.7 3.8l-4.7 3.8l-4.7 -3.8zM728.1 1089.2l4.7 3.8l-4.7 3.8l-4.7 -3.8zM728.8 1089.6l4.7 3.8l-4.7 3.8l-4.7 -3.8zM729.6 1088.6l4.7 3.8l-4.7 3.8l-4.7 -3.8zM730.4 1091.2l4.7 3.8l-4.7 3.8l-4.7 -3.8zM731.1 1092.1l4.7 3.8l-4.7 3.8l-4.7 -3.8zM731.9 1091.1l4.7 3.8l-4.7 3.8l-4.7 -3.8zM732.7 1092.9l4.7 3.8l-4.7 3.8l-4.7 -3.8zM733.4 1093.6l4.7 3.8l-4.7 3.8l-4.7 -3.8zM734.2 1091.0l4.7 3.8l-4.7 3.8l-4.7 -3.8zM735.0 1091.3l4.7 3.8l-4.7 3.8l-4.7 -3.8zM735.8 1092.2l4.7 3.8l-4.7 3.8l-4.7 -3.8zM736.5 1092.8l4.7 3.8l-4.7 3.8l-4.7 -3.8zM737.3 1094.4l4.7 3.8l-4.7 3.8l-4.7 -3.8zM738.1 1093.5l4.7 3.8l-4.7 3.8l-4.7 -3.8zM738.8 1093.0l4.7 3.8l-4.7 3.8l-4.7 -3.8zM739.6 1093.3l4.7 3.8l-4.7 3.8l-4.7 -3.8zM740.4 1095.3l4.7 3.8l-4.7 3.8l-4.7 -3.8zM741.1 1095.1l4.7 3.8l-4.7 3.8l-4.7 -3.8zM741.9 1093.2l4.7 3.8l-4.7 3.8l-4.7 -3.8zM742.7 1093.4l4.7 3.8l-4.7 3.8l-4.7 -3.8zM743.5 1096.1l4.7 3.8l-4.7 3.8l-4.7 -3.8zM744.2 1096.0l4.7 3.8l-4.7 3.8l-4.7 -3.8zM745.0 1093.7l4.7 3.8l-4.7 3.8l-4.7 -3.8zM745.8 1093.8l4.7 3.8l-4.7 3.8l-4.7 -3.8zM746.5 1094.5l4.7 3.8l-4.7 3.8l-4.7 -3.8zM747.3 1094.9l4.7 3.8l-4.7 3.8l-4.7 -3.8zM748.1 1094.6l4.7 3.8l-4.7 3.8l-4.7 -3.8zM748.8 1095.0l4.7 3.8l-4.7 3.8l-4.7 -3.8zM749.6 1094.8l4.7 3.8l-4.7 3.8l-4.7 -3.8zM750.4 1094.0l4.7 3.8l-4.7 3.8l-4.7 -3.8zM751.2 1092.7l4.7 3.8l-4.7 3.8l-4.7 -3.8zM751.9 1094.4l4.7 3.8l-4.7 3.8l-4.7 -3.8zM752.7 1095.0l4.7 3.8l-4.7 3.8l-4.7 -3.8zM753.5 1094.9l4.7 3.8l-4.7 3.8l-4.7 -3.8zM754.2 1093.8l4.7 3.8l-4.7 3.8l-4.7 -3.8zM755.0 1093.1l4.7 3.8l-4.7 3.8l-4.7 -3.8zM755.8 1095.2l4.7 3.8l-4.7 3.8l-4.7 -3.8zM756.5 1092.2l4.7 3.8l-4.7 3.8l-4.7 -3.8zM757.3 1093.2l4.7 3.8l-4.7 3.8l-4.7 -3.8zM758.1 1092.5l4.7 3.8l-4.7 3.8l-4.7 -3.8zM758.9 1093.2l4.7 3.8l-4.7 3.8l-4.7 -3.8zM759.6 1093.2l4.7 3.8l-4.7 3.8l-4.7 -3.8zM760.4 1092.7l4.7 3.8l-4.7 3.8l-4.7 -3.8zM761.2 1094.0l4.7 3.8l-4.7 3.8l-4.7 -3.8zM761.9 1092.4l4.7 3.8l-4.7 3.8l-4.7 -3.8zM762.7 1094.4l4.7 3.8l-4.7 3.8l-4.7 -3.8zM763.5 1095.0l4.7 3.8l-4.7 3.8l-4.7 -3.8zM764.2 1093.3l4.7 3.8l-4.7 3.8l-4.7 -3.8zM765.0 1093.8l4.7 3.8l-4.7 3.8l-4.7 -3.8zM765.8 1093.0l4.7 3.8l-4.7 3.8l-4.7 -3.8zM766.6 1095.0l4.7 3.8l-4.7 3.8l-4.7 -3.8zM767.3 1093.9l4.7 3.8l-4.7 3.8l-4.7 -3.8zM768.1 1093.9l4.7 3.8l-4.7 3.8l-4.7 -3.8zM768.9 1095.0l4.7 3.8l-4.7 3.8l-4.7 -3.8zM769.6 1093.0l4.7 3.8l-4.7 3.8l-4.7 -3.8zM770.4 1092.3l4.7 3.8l-4.7 3.8l-4.7 -3.8zM771.2 1095.2l4.7 3.8l-4.7 3.8l-4.7 -3.8zM771.9 1093.6l4.7 3.8l-4.7 3.8l-4.7 -3.8zM772.7 1093.4l4.7 3.8l-4.7 3.8l-4.7 -3.8zM773.5 1094.7l4.7 3.8l-4.7 3.8l-4.7 -3.8zM774.3 1095.7l4.7 3.8l-4.7 3.8l-4.7 -3.8zM775.0 1095.1l4.7 3.8l-4.7 3.8l-4.7 -3.8zM775.8 1093.6l4.7 3.8l-4.7 3.8l-4.7 -3.8zM776.6 1096.3l4.7 3.8l-4.7 3.8l-4.7 -3.8zM777.3 1094.8l4.7 3.8l-4.7 3.8l-4.7 -3.8zM778.1 1096.5l4.7 3.8l-4.7 3.8l-4.7 -3.8zM778.9 1095.3l4.7 3.8l-4.7 3.8l-4.7 -3.8zM779.6 1095.4l4.7 3.8l-4.7 3.8l-4.7 -3.8zM780.4 1096.1l4.7 3.8l-4.7 3.8l-4.7 -3.8zM781.2 1096.6l4.7 3.8l-4.7 3.8l-4.7 -3.8zM781.9 1095.9l4.7 3.8l-4.7 3.8l-4.7 -3.8zM782.7 1094.9l4.7 3.8l-4.7 3.8l-4.7 -3.8zM783.5 1094.5l4.7 3.8l-4.7 3.8l-4.7 -3.8zM784.3 1096.3l4.7 3.8l-4.7 3.8l-4.7 -3.8zM785.0 1097.5l4.7 3.8l-4.7 3.8l-4.7 -3.8zM785.8 1095.3l4.7 3.8l-4.7 3.8l-4.7 -3.8zM786.6 1096.6l4.7 3.8l-4.7 3.8l-4.7 -3.8zM787.3 1094.9l4.7 3.8l-4.7 3.8l-4.7 -3.8zM788.1 1097.0l4.7 3.8l-4.7 3.8l-4.7 -3.8zM788.9 1095.7l4.7 3.8l-4.7 3.8l-4.7 -3.8zM789.6 1097.6l4.7 3.8l-4.7 3.8l-4.7 -3.8zM790.4 1095.6l4.7 3.8l-4.7 3.8l-4.7 -3.8zM791.2 1097.4l4.7 3.8l-4.7 3.8l-4.7 -3.8zM792.0 1096.3l4.7 3.8l-4.7 3.8l-4.7 -3.8zM792.7 1096.5l4.7 3.8l-4.7 3.8l-4.7 -3.8zM793.5 1097.0l4.7 3.8l-4.7 3.8l-4.7 -3.8zM794.3 1095.9l4.7 3.8l-4.7 3.8l-4.7 -3.8zM795.0 1097.5l4.7 3.8l-4.7 3.8l-4.7 -3.8zM795.8 1096.1l4.7 3.8l-4.7 3.8l-4.7 -3.8zM796.6 1098.4l4.7 3.8l-4.7 3.8l-4.7 -3.8zM797.3 1096.5l4.7 3.8l-4.7 3.8l-4.7 -3.8zM798.1 1096.1l4.7 3.8l-4.7 3.8l-4.7 -3.8zM798.9 1097.7l4.7 3.8l-4.7 3.8l-4.7 -3.8zM799.7 1098.1l4.7 3.8l-4.7 3.8l-4.7 -3.8zM800.4 1096.0l4.7 3.8l-4.7 3.8l-4.7 -3.8zM801.2 1097.1l4.7 3.8l-4.7 3.8l-4.7 -3.8zM802.0 1096.1l4.7 3.8l-4.7 3.8l-4.7 -3.8zM802.7 1097.8l4.7 3.8l-4.7 3.8l-4.7 -3.8zM803.5 1096.2l4.7 3.8l-4.7 3.8l-4.7 -3.8zM804.3 1098.1l4.7 3.8l-4.7 3.8l-4.7 -3.8zM805.0 1097.3l4.7 3.8l-4.7 3.8l-4.7 -3.8zM805.8 1097.7l4.7 3.8l-4.7 3.8l-4.7 -3.8zM806.6 1096.5l4.7 3.8l-4.7 3.8l-4.7 -3.8zM807.4 1097.6l4.7 3.8l-4.7 3.8l-4.7 -3.8zM808.1 1099.0l4.7 3.8l-4.7 3.8l-4.7 -3.8zM808.9 1097.0l4.7 3.8l-4.7 3.8l-4.7 -3.8zM809.7 1097.9l4.7 3.8l-4.7 3.8l-4.7 -3.8zM810.4 1096.8l4.7 3.8l-4.7 3.8l-4.7 -3.8zM811.2 1099.1l4.7 3.8l-4.7 3.8l-4.7 -3.8zM812.0 1098.9l4.7 3.8l-4.7 3.8l-4.7 -3.8zM812.7 1098.1l4.7 3.8l-4.7 3.8l-4.7 -3.8zM813.5 1096.8l4.7 3.8l-4.7 3.8l-4.7 -3.8zM814.3 1099.1l4.7 3.8l-4.7 3.8l-4.7 -3.8zM815.1 1097.1l4.7 3.8l-4.7 3.8l-4.7 -3.8zM815.8 1098.5l4.7 3.8l-4.7 3.8l-4.7 -3.8zM816.6 1099.0l4.7 3.8l-4.7 3.8l-4.7 -3.8zM817.4 1096.3l4.7 3.8l-4.7 3.8l-4.7 -3.8zM818.1 1096.4l4.7 3.8l-4.7 3.8l-4.7 -3.8zM818.9 1096.4l4.7 3.8l-4.7 3.8l-4.7 -3.8zM819.7 1098.3l4.7 3.8l-4.7 3.8l-4.7 -3.8zM820.4 1098.9l4.7 3.8l-4.7 3.8l-4.7 -3.8zM821.2 1099.3l4.7 3.8l-4.7 3.8l-4.7 -3.8zM822.0 1098.3l4.7 3.8l-4.7 3.8l-4.7 -3.8zM822.8 1097.2l4.7 3.8l-4.7 3.8l-4.7 -3.8zM823.5 1096.5l4.7 3.8l-4.7 3.8l-4.7 -3.8zM824.3 1097.5l4.7 3.8l-4.7 3.8l-4.7 -3.8zM825.1 1098.0l4.7 3.8l-4.7 3.8l-4.7 -3.8zM825.8 1097.5l4.7 3.8l-4.7 3.8l-4.7 -3.8zM826.6 1099.0l4.7 3.8l-4.7 3.8l-4.7 -3.8zM827.4 1099.0l4.7 3.8l-4.7 3.8l-4.7 -3.8zM828.1 1098.2l4.7 3.8l-4.7 3.8l-4.7 -3.8zM828.9 1098.0l4.7 3.8l-4.7 3.8l-4.7 -3.8zM829.7 1099.4l4.7 3.8l-4.7 3.8l-4.7 -3.8zM830.5 1098.9l4.7 3.8l-4.7 3.8l-4.7 -3.8zM831.2 1097.2l4.7 3.8l-4.7 3.8l-4.7 -3.8zM832.0 1099.3l4.7 3.8l-4.7 3.8l-4.7 -3.8zM832.8 1098.7l4.7 3.8l-4.7 3.8l-4.7 -3.8zM833.5 1097.6l4.7 3.8l-4.7 3.8l-4.7 -3.8zM834.3 1098.5l4.7 3.8l-4.7 3.8l-4.7 -3.8zM835.1 1097.9l4.7 3.8l-4.7 3.8l-4.7 -3.8zM835.8 1097.1l4.7 3.8l-4.7 3.8l-4.7 -3.8zM836.6 1099.7l4.7 3.8l-4.7 3.8l-4.7 -3.8zM837.4 1097.0l4.7 3.8l-4.7 3.8l-4.7 -3.8zM838.2 1097.4l4.7 3.8l-4.7 3.8l-4.7 -3.8zM838.9 1099.5l4.7 3.8l-4.7 3.8l-4.7 -3.8zM839.7 1099.5l4.7 3.8l-4.7 3.8l-4.7 -3.8zM840.5 1097.2l4.7 3.8l-4.7 3.8l-4.7 -3.8zM841.2 1099.7l4.7 3.8l-4.7 3.8l-4.7 -3.8zM842.0 1098.7l4.7 3.8l-4.7 3.8l-4.7 -3.8z" fill="none" stroke="#e46c0a" stroke-width="1.6" stroke-linejoin="miter"/>
<path d="M641.7 1108.0h8v8h-8zM642.2 1106.1h8v8h-8zM642.8 1107.7h8v8h-8zM643.3 1106.7h8v8h-8zM643.9 1105.9h8v8h-8zM644.4 1106.1h8v8h-8zM645.0 1106.4h8v8h-8zM645.5 1105.4h8v8h-8zM646.0 1103.8h8v8h-8zM646.6 1105.5h8v8h-8zM647.1 1103.5h8v8h-8zM647.7 1104.8h8v8h-8zM648.2 1103.6h8v8h-8zM648.8 1103.5h8v8h-8zM649.3 1102.1h8v8h-8zM649.8 1102.6h8v8h-8zM650.4 1101.0h8v8h-8zM650.9 1101.9h8v8h-8zM651.5 1100.4h8v8h-8zM652.0 1099.0h8v8h-8zM652.6 1099.3h8v8h-8zM653.1 1098.1h8v8h-8zM653.6 1099.7h8v8h-8zM654.2 1097.7h8v8h-8zM654.7 1099.1h8v8h-8zM655.3 1096.9h8v8h-8zM655.8 1096.9h8v8h-8zM656.4 1095.8h8v8h-8zM656.9 1096.8h8v8h-8zM657.4 1095.0h8v8h-8zM658.0 1095.7h8v8h-8zM658.5 1094.8h8v8h-8zM659.1 1095.0h8v8h-8zM659.6 1095.0h8v8h-8zM660.2 1094.8h8v8h-8zM660.7 1093.8h8v8h-8zM661.2 1095.4h8v8h-8zM661.8 1092.6h8v8h-8zM662.3 1092.6h8v8h-8zM662.9 1092.0h8v8h-8zM663.4 1092.8h8v8h-8zM664.0 1091.7h8v8h-8zM664.5 1090.8h8v8h-8zM665.0 1090.3h8v8h-8zM665.6 1089.8h8v8h-8zM666.1 1089.3h8v8h-8zM666.7 1087.6h8v8h-8zM667.2 1089.1h8v8h-8zM667.8 1086.2h8v8h-8zM668.3 1088.2h8v8h-8zM668.9 1085.4h8v8h-8zM669.4 1086.8h8v8h-8zM669.9 1085.0h8v8h-8zM670.5 1083.5h8v8h-8zM671.0 1084.7h8v8h-8zM671.6 1084.5h8v8h-8zM672.1 1083.5h8v8h-8zM672.7 1082.1h8v8h-8zM673.2 1084.4h8v8h-8zM673.7 1082.7h8v8h-8zM674.3 1083.8h8v8h-8zM674.8 1084.6h8v8h-8zM675.4 1087.2h8v8h-8zM675.9 1086.6h8v8h-8zM676.5 1086.9h8v8h-8zM677.0 1088.9h8v8h-8zM677.5 1088.8h8v8h-8zM678.1 1090.5h8v8h-8zM678.6 1088.5h8v8h-8zM679.2 1090.0h8v8h-8zM679.7 1089.7h8v8h-8zM680.3 1090.4h8v8h-8zM680.8 1089.7h8v8h-8zM681.3 1088.8h8v8h-8zM681.9 1088.3h8v8h-8zM682.4 1090.8h8v8h-8zM683.0 1088.4h8v8h-8zM683.5 1089.9h8v8h-8zM684.1 1088.2h8v8h-8zM684.6 1089.8h8v8h-8zM685.1 1088.3h8v8h-8zM685.7 1088.8h8v8h-8zM686.2 1089.4h8v8h-8zM686.8 1090.2h8v8h-8zM687.3 1088.2h8v8h-8zM687.9 1089.1h8v8h-8zM688.4 1088.5h8v8h-8zM688.9 1087.9h8v8h-8zM689.5 1088.2h8v8h-8zM690.0 1087.2h8v8h-8zM690.6 1086.2h8v8h-8zM691.1 1084.8h8v8h-8zM691.7 1084.4h8v8h-8zM692.2 1084.6h8v8h-8zM692.7 1084.0h8v8h-8zM693.3 1083.6h8v8h-8zM693.8 1081.7h8v8h-8zM694.4 1080.0h8v8h-8zM694.9 1079.6h8v8h-8zM695.5 1076.5h8v8h-8zM696.0 1075.6h8v8h-8zM696.5 1073.8h8v8h-8zM697.1 1072.7h8v8h-8zM697.6 1069.9h8v8h-8zM698.2 1068.5h8v8h-8zM698.7 1067.1h8v8h-8zM699.3 1064.0h8v8h-8zM699.8 1063.3h8v8h-8zM700.3 1061.3h8v8h-8zM700.9 1060.3h8v8h-8zM701.4 1059.8h8v8h-8zM702.0 1057.3h8v8h-8zM702.5 1057.5h8v8h-8zM703.1 1058.7h8v8h-8zM703.6 1061.1h8v8h-8zM704.1 1060.6h8v8h-8zM704.7 1061.4h8v8h-8zM705.2 1062.6h8v8h-8zM705.8 1060.9h8v8h-8zM706.3 1063.1h8v8h-8zM706.9 1062.6h8v8h-8zM707.4 1064.4h8v8h-8zM707.9 1065.1h8v8h-8zM708.5 1066.3h8v8h-8zM709.0 1068.7h8v8h-8zM709.6 1067.8h8v8h-8zM710.1 1070.8h8v8h-8zM710.7 1069.4h8v8h-8zM711.2 1070.1h8v8h-8zM711.7 1073.5h8v8h-8zM712.3 1074.8h8v8h-8zM712.8 1076.4h8v8h-8zM713.4 1077.4h8v8h-8zM713.9 1078.9h8v8h-8zM714.5 1078.3h8v8h-8zM715.0 1080.3h8v8h-8zM715.5 1080.6h8v8h-8zM716.1 1082.7h8v8h-8zM716.6 1082.2h8v8h-8zM717.2 1084.0h8v8h-8zM717.7 1084.2h8v8h-8zM718.3 1086.3h8v8h-8zM718.8 1086.8h8v8h-8zM719.4 1088.7h8v8h-8zM719.9 1086.8h8v8h-8zM720.4 1087.9h8v8h-8zM721.0 1088.6h8v8h-8zM721.5 1090.8h8v8h-8zM722.1 1091.1h8v8h-8zM722.6 1092.0h8v8h-8zM723.2 1091.0h8v8h-8zM723.7 1093.1h8v8h-8zM724.2 1093.5h8v8h-8zM724.8 1091.9h8v8h-8zM725.3 1091.8h8v8h-8zM725.9 1093.9h8v8h-8zM726.4 1092.9h8v8h-8zM727.0 1094.3h8v8h-8zM727.5 1092.2h8v8h-8zM728.0 1093.6h8v8h-8zM728.6 1092.9h8v8h-8zM729.1 1095.5h8v8h-8zM729.7 1094.6h8v8h-8zM730.2 1095.1h8v8h-8zM730.8 1095.7h8v8h-8zM731.3 1095.7h8v8h-8zM731.8 1093.3h8v8h-8zM732.4 1093.5h8v8h-8zM732.9 1096.2h8v8h-8zM733.5 1095.6h8v8h-8zM734.0 1095.1h8v8h-8zM734.6 1093.9h8v8h-8zM735.1 1095.0h8v8h-8zM735.6 1096.3h8v8h-8zM736.2 1094.2h8v8h-8zM736.7 1094.1h8v8h-8zM737.3 1096.0h8v8h-8zM737.8 1097.1h8v8h-8zM738.4 1094.6h8v8h-8zM738.9 1096.6h8v8h-8zM739.4 1097.3h8v8h-8zM740.0 1094.6h8v8h-8zM740.5 1094.5h8v8h-8zM741.1 1095.9h8v8h-8zM741.6 1093.9h8v8h-8zM742.2 1096.7h8v8h-8zM742.7 1094.4h8v8h-8zM743.2 1093.8h8v8h-8zM743.8 1096.1h8v8h-8zM744.3 1095.1h8v8h-8zM744.9 1095.0h8v8h-8zM745.4 1095.3h8v8h-8zM746.0 1093.3h8v8h-8zM746.5 1094.9h8v8h-8zM747.0 1093.2h8v8h-8zM747.6 1095.3h8v8h-8zM748.1 1094.0h8v8h-8zM748.7 1094.6h8v8h-8zM749.2 1094.6h8v8h-8zM749.8 1094.0h8v8h-8zM750.3 1094.6h8v8h-8zM750.8 1094.8h8v8h-8zM751.4 1094.6h8v8h-8zM751.9 1094.3h8v8h-8zM752.5 1093.0h8v8h-8zM753.0 1093.8h8v8h-8zM753.6 1095.4h8v8h-8zM754.1 1094.8h8v8h-8zM754.6 1093.7h8v8h-8zM755.2 1094.5h8v8h-8zM755.7 1095.2h8v8h-8zM756.3 1094.0h8v8h-8zM756.8 1095.4h8v8h-8zM757.4 1095.7h8v8h-8zM757.9 1093.1h8v8h-8zM758.4 1093.0h8v8h-8zM759.0 1095.0h8v8h-8zM759.5 1094.4h8v8h-8zM760.1 1093.7h8v8h-8zM760.6 1095.6h8v8h-8zM761.2 1095.1h8v8h-8zM761.7 1094.1h8v8h-8zM762.2 1093.7h8v8h-8zM762.8 1095.4h8v8h-8zM763.3 1095.5h8v8h-8zM763.9 1095.3h8v8h-8zM764.4 1094.9h8v8h-8zM765.0 1096.9h8v8h-8zM765.5 1094.2h8v8h-8zM766.0 1094.9h8v8h-8zM766.6 1096.0h8v8h-8zM767.1 1097.3h8v8h-8zM767.7 1094.9h8v8h-8zM768.2 1096.9h8v8h-8zM768.8 1096.8h8v8h-8zM769.3 1095.1h8v8h-8zM769.8 1097.6h8v8h-8zM770.4 1095.3h8v8h-8zM770.9 1098.0h8v8h-8zM771.5 1095.9h8v8h-8zM772.0 1098.3h8v8h-8zM772.6 1097.6h8v8h-8zM773.1 1096.0h8v8h-8zM773.7 1098.3h8v8h-8zM774.2 1096.4h8v8h-8zM774.7 1098.2h8v8h-8zM775.3 1096.4h8v8h-8zM775.8 1099.2h8v8h-8zM776.4 1099.0h8v8h-8zM776.9 1098.3h8v8h-8zM777.5 1097.6h8v8h-8zM778.0 1098.1h8v8h-8zM778.5 1098.8h8v8h-8zM779.1 1099.7h8v8h-8zM779.6 1097.3h8v8h-8zM780.2 1098.8h8v8h-8zM780.7 1098.8h8v8h-8zM781.3 1099.5h8v8h-8zM781.8 1100.5h8v8h-8zM782.3 1100.3h8v8h-8zM782.9 1098.7h8v8h-8zM783.4 1100.0h8v8h-8zM784.0 1098.8h8v8h-8zM784.5 1100.1h8v8h-8zM785.1 1098.5h8v8h-8zM785.6 1100.0h8v8h-8zM786.1 1098.8h8v8h-8zM786.7 1098.8h8v8h-8zM787.2 1098.9h8v8h-8zM787.8 1099.5h8v8h-8zM788.3 1100.3h8v8h-8zM788.9 1100.1h8v8h-8zM789.4 1099.4h8v8h-8zM789.9 1099.6h8v8h-8zM790.5 1100.1h8v8h-8zM791.0 1098.9h8v8h-8zM791.6 1099.7h8v8h-8zM792.1 1100.1h8v8h-8zM792.7 1099.2h8v8h-8zM793.2 1098.1h8v8h-8zM793.7 1098.1h8v8h-8zM794.3 1100.7h8v8h-8zM794.8 1098.5h8v8h-8zM795.4 1098.8h8v8h-8zM795.9 1100.0h8v8h-8zM796.5 1100.2h8v8h-8zM797.0 1100.5h8v8h-8zM797.5 1100.3h8v8h-8zM798.1 1098.8h8v8h-8zM798.6 1099.2h8v8h-8zM799.2 1100.7h8v8h-8zM799.7 1099.6h8v8h-8zM800.3 1100.8h8v8h-8zM800.8 1099.3h8v8h-8zM801.3 1099.8h8v8h-8zM801.9 1099.0h8v8h-8zM802.4 1100.3h8v8h-8zM803.0 1101.1h8v8h-8zM803.5 1101.2h8v8h-8zM804.1 1099.9h8v8h-8zM804.6 1099.4h8v8h-8zM805.1 1099.9h8v8h-8zM805.7 1100.7h8v8h-8zM806.2 1099.3h8v8h-8zM806.8 1098.6h8v8h-8zM807.3 1101.1h8v8h-8zM807.9 1101.4h8v8h-8zM808.4 1099.7h8v8h-8zM808.9 1100.4h8v8h-8zM809.5 1101.2h8v8h-8zM810.0 1099.6h8v8h-8zM810.6 1100.9h8v8h-8zM811.1 1100.6h8v8h-8zM811.7 1098.8h8v8h-8zM812.2 1099.7h8v8h-8zM812.7 1101.5h8v8h-8zM813.3 1100.5h8v8h-8zM813.8 1100.3h8v8h-8zM814.4 1099.1h8v8h-8zM814.9 1101.5h8v8h-8zM815.5 1101.0h8v8h-8zM816.0 1100.8h8v8h-8zM816.5 1101.1h8v8h-8zM817.1 1100.5h8v8h-8zM817.6 1099.1h8v8h-8zM818.2 1099.6h8v8h-8zM818.7 1100.9h8v8h-8zM819.3 1101.6h8v8h-8zM819.8 1098.8h8v8h-8zM820.3 1098.8h8v8h-8zM820.9 1099.7h8v8h-8zM821.4 1101.2h8v8h-8zM822.0 1100.5h8v8h-8zM822.5 1100.0h8v8h-8zM823.1 1099.6h8v8h-8zM823.6 1100.2h8v8h-8zM824.2 1099.3h8v8h-8zM824.7 1101.4h8v8h-8zM825.2 1099.2h8v8h-8zM825.8 1099.5h8v8h-8zM826.3 1099.4h8v8h-8zM826.9 1099.7h8v8h-8zM827.4 1100.6h8v8h-8zM828.0 1100.8h8v8h-8zM828.5 1100.7h8v8h-8zM829.0 1100.5h8v8h-8zM829.6 1100.3h8v8h-8zM830.1 1101.4h8v8h-8zM830.7 1102.0h8v8h-8zM831.2 1102.0h8v8h-8zM831.8 1102.8h8v8h-8zM832.3 1101.4h8v8h-8zM832.8 1101.8h8v8h-8zM833.4 1102.3h8v8h-8zM833.9 1102.5h8v8h-8zM834.5 1101.8h8v8h-8zM835.0 1102.7h8v8h-8zM835.6 1101.8h8v8h-8zM836.1 1100.8h8v8h-8zM836.6 1101.0h8v8h-8zM837.2 1102.4h8v8h-8zM837.7 1103.1h8v8h-8zM838.3 1101.1h8v8h-8zM838.8 1100.7h8v8h-8zM839.4 1102.0h8v8h-8zM839.9 1102.7h8v8h-8zM840.4 1101.5h8v8h-8zM841.0 1102.2h8v8h-8zM841.5 1100.5h8v8h-8zM842.1 1103.0h8v8h-8zM842.6 1102.0h8v8h-8zM843.2 1102.4h8v8h-8zM843.7 1101.2h8v8h-8zM844.2 1101.6h8v8h-8zM844.8 1100.7h8v8h-8zM845.3 1102.1h8v8h-8zM845.9 1102.8h8v8h-8zM846.4 1102.6h8v8h-8zM847.0 1102.4h8v8h-8zM847.5 1100.3h8v8h-8z" fill="#604a7b"/>
<text x="636.6" y="1164.8" font-size="26.5" font-weight="normal" text-anchor="middle" >0</text>
<text x="682.7" y="1164.8" font-size="26.5" font-weight="normal" text-anchor="middle" >1</text>
<text x="728.8" y="1164.8" font-size="26.5" font-weight="normal" text-anchor="middle" >2</text>
<text x="775.0" y="1164.8" font-size="26.5" font-weight="normal" text-anchor="middle" >3</text>
<text x="821.1" y="1164.8" font-size="26.5" font-weight="normal" text-anchor="middle" >4</text>
<text x="867.2" y="1164.8" font-size="26.5" font-weight="normal" text-anchor="middle" >5</text>
<text x="718.4" y="1192" font-size="27.5" font-weight="bold">q(&#197;<tspan font-size="16" dy="-10.5">-1</tspan><tspan dy="10.5">)</tspan></text>
<path d="M808.0 985.7l4.7 3.9l-4.7 3.9l-4.7 -3.9z" fill="none" stroke="#e46c0a" stroke-width="1.6" stroke-linejoin="miter"/>
<path d="M804.0 1016.4h8v8h-8z" fill="#604a7b"/>
<text x="821.0" y="999.1" font-size="26.5" font-weight="normal" text-anchor="start" >X</text>
<text x="821.0" y="1029.9" font-size="26.5" font-weight="normal" text-anchor="start" >Y</text>
<text x="48.5" y="917.0" font-size="27" font-weight="bold" text-anchor="start" >c)</text>
<text x="0.0" y="0.0" font-size="27" font-weight="bold" text-anchor="middle" transform="translate(29.8,1025.6) rotate(-90)">I (Counts)</text>
<text x="45.5" y="1011.7" font-size="27" font-weight="normal" text-anchor="start" >NP</text>
<line x1="60.2" y1="1016.7" x2="60.2" y2="1048.1" stroke="#000" stroke-width="2.1"/>
<path d="M60.2,1060.6 L53.7,1048.1 L66.7,1048.1 Z" fill="#000"/>
<text x="137.2" y="978.0" font-size="27" font-weight="normal" text-anchor="start" >&#947; (001)</text>
<line x1="136.3" y1="970.5" x2="125.2" y2="970.5" stroke="#000" stroke-width="1.6"/>
<path d="M112.9,970.5 L125.2,964.7 L125.2,976.3 Z" fill="#000"/>
<text x="137.2" y="1021.5" font-size="27" font-weight="normal" text-anchor="start" >&#947; (020)</text>
<line x1="136.3" y1="1016.7" x2="91.8" y2="1075.9" stroke="#000" stroke-width="1.7"/>
<path d="M82.5,1088.3 L85.8,1071.4 L97.8,1080.4 Z" fill="#000"/>
</svg>
</body></html>
